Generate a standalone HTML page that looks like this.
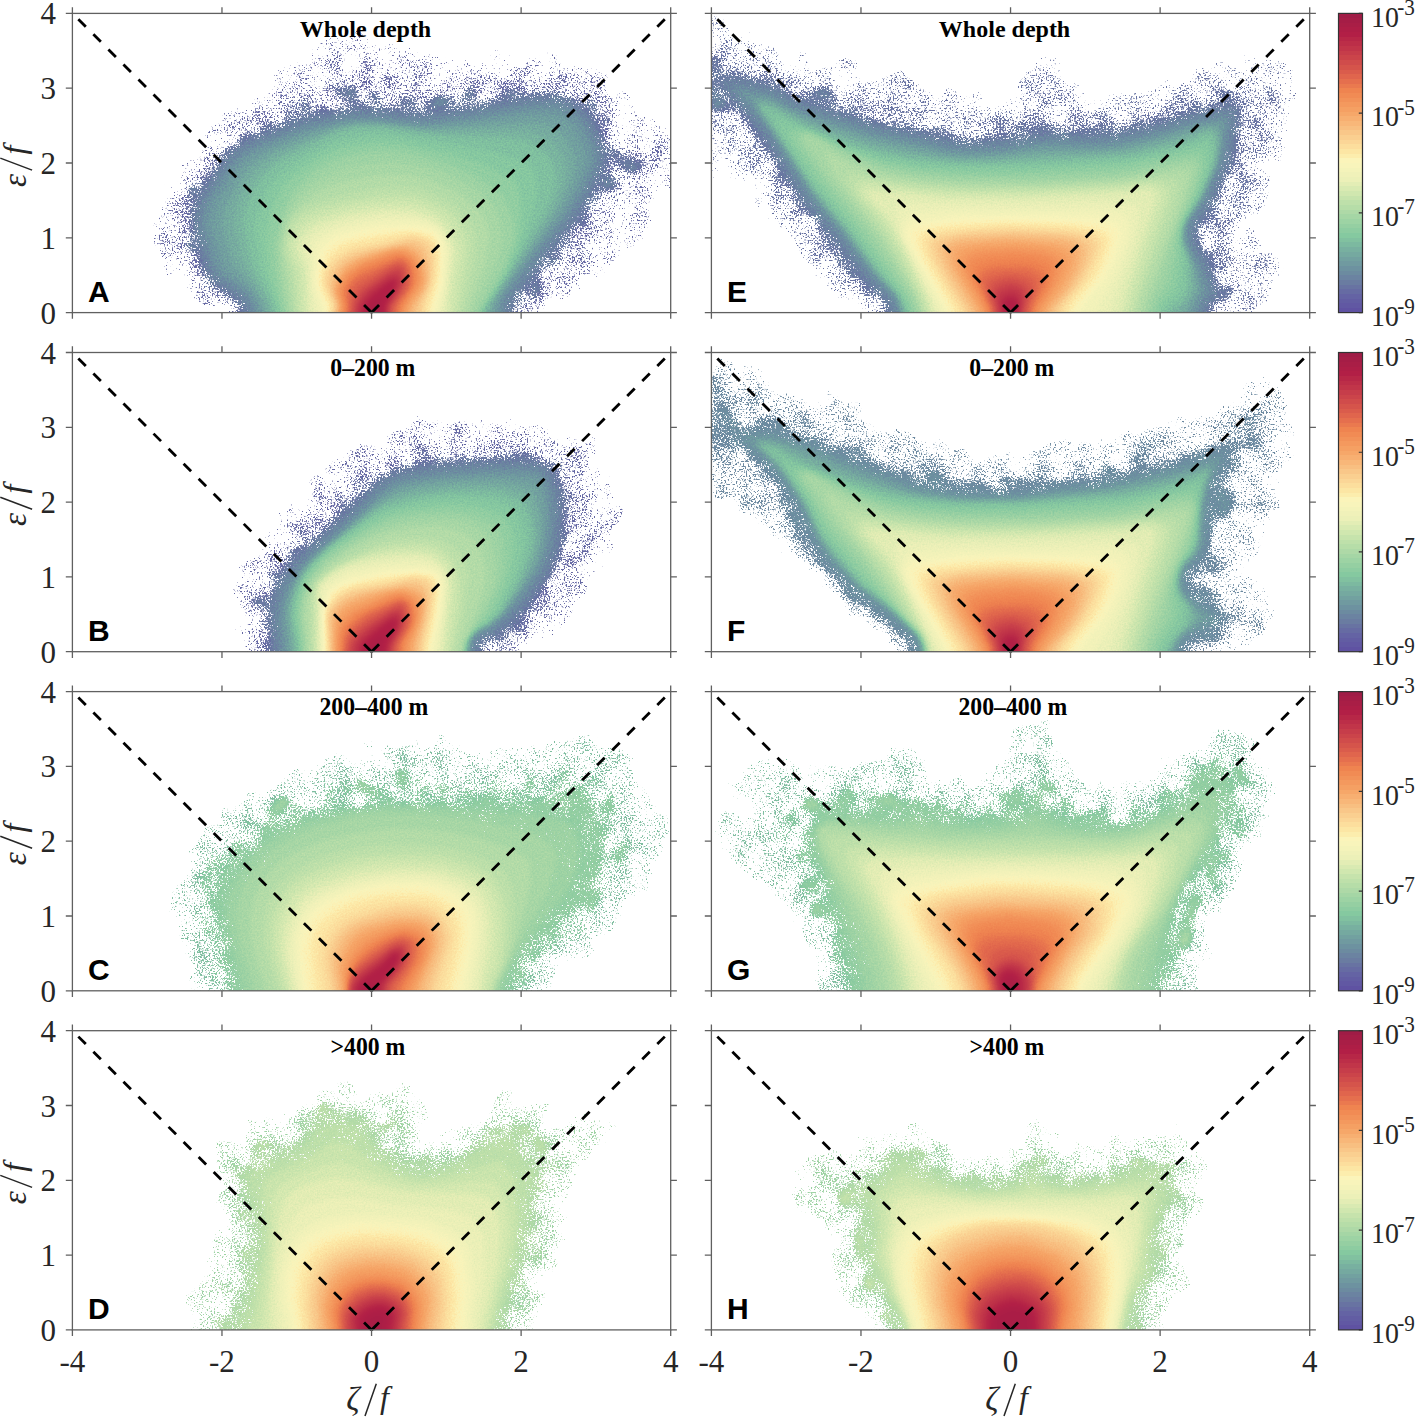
<!DOCTYPE html><html><head><meta charset="utf-8"><style>html,body{margin:0;padding:0;background:#fff;}svg{display:block}</style></head><body><svg width="1417" height="1417" viewBox="0 0 1417 1417"><defs><linearGradient id="cb" x1="0" y1="1" x2="0" y2="0"><stop offset="0.0000" stop-color="#5f52a2"/><stop offset="0.0156" stop-color="#5f52a2"/><stop offset="0.0156" stop-color="#6158a3"/><stop offset="0.0312" stop-color="#6158a3"/><stop offset="0.0312" stop-color="#625da3"/><stop offset="0.0469" stop-color="#625da3"/><stop offset="0.0469" stop-color="#6463a4"/><stop offset="0.0625" stop-color="#6463a4"/><stop offset="0.0625" stop-color="#666ba3"/><stop offset="0.0781" stop-color="#666ba3"/><stop offset="0.0781" stop-color="#6873a2"/><stop offset="0.0938" stop-color="#6873a2"/><stop offset="0.0938" stop-color="#6a7ca1"/><stop offset="0.1094" stop-color="#6a7ca1"/><stop offset="0.1094" stop-color="#6b83a1"/><stop offset="0.1250" stop-color="#6b83a1"/><stop offset="0.1250" stop-color="#6c8ba0"/><stop offset="0.1406" stop-color="#6c8ba0"/><stop offset="0.1406" stop-color="#6d92a0"/><stop offset="0.1562" stop-color="#6d92a0"/><stop offset="0.1562" stop-color="#709aa0"/><stop offset="0.1719" stop-color="#709aa0"/><stop offset="0.1719" stop-color="#72a1a0"/><stop offset="0.1875" stop-color="#72a1a0"/><stop offset="0.1875" stop-color="#75a9a0"/><stop offset="0.2031" stop-color="#75a9a0"/><stop offset="0.2031" stop-color="#78b0a0"/><stop offset="0.2188" stop-color="#78b0a0"/><stop offset="0.2188" stop-color="#7cb9a0"/><stop offset="0.2344" stop-color="#7cb9a0"/><stop offset="0.2344" stop-color="#81c1a0"/><stop offset="0.2500" stop-color="#81c1a0"/><stop offset="0.2500" stop-color="#85c9a0"/><stop offset="0.2656" stop-color="#85c9a0"/><stop offset="0.2656" stop-color="#8dcca1"/><stop offset="0.2812" stop-color="#8dcca1"/><stop offset="0.2812" stop-color="#95cfa2"/><stop offset="0.2969" stop-color="#95cfa2"/><stop offset="0.2969" stop-color="#9dd3a4"/><stop offset="0.3125" stop-color="#9dd3a4"/><stop offset="0.3125" stop-color="#a5d6a5"/><stop offset="0.3281" stop-color="#a5d6a5"/><stop offset="0.3281" stop-color="#aed9a7"/><stop offset="0.3438" stop-color="#aed9a7"/><stop offset="0.3438" stop-color="#b6dda8"/><stop offset="0.3594" stop-color="#b6dda8"/><stop offset="0.3594" stop-color="#bee0aa"/><stop offset="0.3750" stop-color="#bee0aa"/><stop offset="0.3750" stop-color="#c6e3ac"/><stop offset="0.3906" stop-color="#c6e3ac"/><stop offset="0.3906" stop-color="#d0e7af"/><stop offset="0.4062" stop-color="#d0e7af"/><stop offset="0.4062" stop-color="#d9eab2"/><stop offset="0.4219" stop-color="#d9eab2"/><stop offset="0.4219" stop-color="#e3edb5"/><stop offset="0.4375" stop-color="#e3edb5"/><stop offset="0.4375" stop-color="#ecf0b8"/><stop offset="0.4531" stop-color="#ecf0b8"/><stop offset="0.4531" stop-color="#f0f1b9"/><stop offset="0.4688" stop-color="#f0f1b9"/><stop offset="0.4688" stop-color="#f4f3ba"/><stop offset="0.4844" stop-color="#f4f3ba"/><stop offset="0.4844" stop-color="#f8f4bb"/><stop offset="0.5000" stop-color="#f8f4bb"/><stop offset="0.5000" stop-color="#fbf4ba"/><stop offset="0.5156" stop-color="#fbf4ba"/><stop offset="0.5156" stop-color="#fcedad"/><stop offset="0.5312" stop-color="#fcedad"/><stop offset="0.5312" stop-color="#fce6a4"/><stop offset="0.5469" stop-color="#fce6a4"/><stop offset="0.5469" stop-color="#fcde9d"/><stop offset="0.5625" stop-color="#fcde9d"/><stop offset="0.5625" stop-color="#fbd697"/><stop offset="0.5781" stop-color="#fbd697"/><stop offset="0.5781" stop-color="#facf90"/><stop offset="0.5938" stop-color="#facf90"/><stop offset="0.5938" stop-color="#f9c789"/><stop offset="0.6094" stop-color="#f9c789"/><stop offset="0.6094" stop-color="#f8bf81"/><stop offset="0.6250" stop-color="#f8bf81"/><stop offset="0.6250" stop-color="#f8b779"/><stop offset="0.6406" stop-color="#f8b779"/><stop offset="0.6406" stop-color="#f7af71"/><stop offset="0.6562" stop-color="#f7af71"/><stop offset="0.6562" stop-color="#f6a769"/><stop offset="0.6719" stop-color="#f6a769"/><stop offset="0.6719" stop-color="#f5a063"/><stop offset="0.6875" stop-color="#f5a063"/><stop offset="0.6875" stop-color="#f4995e"/><stop offset="0.7031" stop-color="#f4995e"/><stop offset="0.7031" stop-color="#f29259"/><stop offset="0.7188" stop-color="#f29259"/><stop offset="0.7188" stop-color="#f18b54"/><stop offset="0.7344" stop-color="#f18b54"/><stop offset="0.7344" stop-color="#ef8450"/><stop offset="0.7500" stop-color="#ef8450"/><stop offset="0.7500" stop-color="#ea794f"/><stop offset="0.7656" stop-color="#ea794f"/><stop offset="0.7656" stop-color="#e56f4e"/><stop offset="0.7812" stop-color="#e56f4e"/><stop offset="0.7812" stop-color="#e0654d"/><stop offset="0.7969" stop-color="#e0654d"/><stop offset="0.7969" stop-color="#da5c4c"/><stop offset="0.8125" stop-color="#da5c4c"/><stop offset="0.8125" stop-color="#d5544b"/><stop offset="0.8281" stop-color="#d5544b"/><stop offset="0.8281" stop-color="#d04c4b"/><stop offset="0.8438" stop-color="#d04c4b"/><stop offset="0.8438" stop-color="#cb444a"/><stop offset="0.8594" stop-color="#cb444a"/><stop offset="0.8594" stop-color="#c63d4a"/><stop offset="0.8750" stop-color="#c63d4a"/><stop offset="0.8750" stop-color="#c13549"/><stop offset="0.8906" stop-color="#c13549"/><stop offset="0.8906" stop-color="#bc2e48"/><stop offset="0.9062" stop-color="#bc2e48"/><stop offset="0.9062" stop-color="#b72747"/><stop offset="0.9219" stop-color="#b72747"/><stop offset="0.9219" stop-color="#b21f46"/><stop offset="0.9375" stop-color="#b21f46"/><stop offset="0.9375" stop-color="#ae1e46"/><stop offset="0.9531" stop-color="#ae1e46"/><stop offset="0.9531" stop-color="#a91e46"/><stop offset="0.9688" stop-color="#a91e46"/><stop offset="0.9688" stop-color="#a51d46"/><stop offset="0.9844" stop-color="#a51d46"/><stop offset="0.9844" stop-color="#a01c46"/><stop offset="1.0000" stop-color="#a01c46"/></linearGradient><clipPath id="pc"><rect x="0" y="0" width="598.3" height="299.2"/></clipPath><filter id="fA" color-interpolation-filters="sRGB"><feGaussianBlur in="SourceGraphic" stdDeviation="2.60" result="f"/><feTurbulence type="fractalNoise" baseFrequency="0.60" numOctaves="2" seed="3" result="n"/><feColorMatrix in="n" type="matrix" values="0 0 0 1 0 0 0 0 1 0 0 0 0 1 0 0 0 0 0 1" result="ng"/><feTurbulence type="fractalNoise" baseFrequency="0.050" numOctaves="4" seed="23" result="n2"/><feColorMatrix in="n2" type="matrix" values="0 0 0 1 0 0 0 0 1 0 0 0 0 1 0 0 0 0 0 1" result="ng2"/><feComposite in="f" in2="ng" operator="arithmetic" k1="-0.120" k2="1.060" k3="0.120" k4="-0.060" result="fc"/><feComponentTransfer in="fc" result="col"><feFuncR type="table" tableValues="0.397 0.397 0.397 0.397 0.397 0.397 0.397 0.397 0.397 0.397 0.397 0.397 0.397 0.397 0.397 0.406 0.416 0.422 0.426 0.435 0.450 0.464 0.481 0.501 0.526 0.565 0.604 0.644 0.684 0.725 0.765 0.809 0.856 0.903 0.935 0.955 0.974 0.987 0.991 0.987 0.983 0.978 0.974 0.971 0.968 0.964 0.958 0.951 0.945 0.929 0.903 0.878 0.852 0.826 0.801 0.776 0.752 0.727 0.703 0.681 0.659"/><feFuncG type="table" tableValues="0.409 0.409 0.409 0.409 0.409 0.409 0.409 0.409 0.409 0.409 0.409 0.409 0.409 0.409 0.409 0.445 0.486 0.524 0.561 0.597 0.635 0.672 0.711 0.752 0.788 0.805 0.821 0.838 0.854 0.870 0.886 0.902 0.918 0.934 0.945 0.951 0.957 0.945 0.911 0.873 0.836 0.799 0.760 0.720 0.681 0.642 0.608 0.573 0.539 0.498 0.448 0.398 0.353 0.314 0.276 0.238 0.202 0.166 0.129 0.119 0.116"/><feFuncB type="table" tableValues="0.641 0.641 0.641 0.641 0.641 0.641 0.641 0.641 0.641 0.641 0.641 0.641 0.641 0.641 0.641 0.637 0.633 0.630 0.628 0.627 0.627 0.627 0.627 0.627 0.629 0.634 0.640 0.646 0.655 0.663 0.671 0.683 0.698 0.714 0.724 0.729 0.734 0.709 0.653 0.620 0.587 0.554 0.517 0.477 0.438 0.399 0.375 0.351 0.326 0.311 0.306 0.301 0.297 0.294 0.292 0.289 0.284 0.280 0.275 0.275 0.275"/></feComponentTransfer><feComponentTransfer in="f" result="w"><feFuncR type="table" tableValues="0.000 0.000 0.000 0.000 0.000 0.000 0.028 0.058 0.088 0.118 0.148 0.178 0.195 0.198 0.202 0.205 0.209 0.212 0.216 0.219 0.223 0.226 0.230 0.233 0.245 0.265 0.285 0.305 0.325 0.345 0.365 0.385 0.405 0.425 0.445 0.465 0.485 0.505 0.525 0.545 0.565 0.585 0.605 0.625 0.645 0.665 0.685 0.705 0.725 0.745 0.765 0.785 0.805 0.825 0.845 0.865 0.885 0.905 0.925 0.945 0.965 0.985 1.000 1.000 1.000 1.000 1.000 1.000 1.000 1.000 1.000 1.000 1.000 1.000 1.000 1.000 1.000 1.000 1.000 1.000 1.000 1.000 1.000 1.000 1.000 1.000 1.000 1.000 1.000 1.000 1.000 1.000 1.000 1.000 1.000 1.000 1.000 1.000 1.000 1.000 1.000"/></feComponentTransfer><feComposite in="w" in2="ng" operator="arithmetic" k1="0" k2="1" k3="0.300" k4="-0.150" result="fa0"/><feComposite in="fa0" in2="ng2" operator="arithmetic" k1="0" k2="1" k3="0.120" k4="-0.060" result="fa"/><feColorMatrix in="fa" type="matrix" values="0 0 0 0 0 0 0 0 0 0 0 0 0 0 0 30.000 0 0 0 -7.050" result="m"/><feComposite in="col" in2="m" operator="in" result="o"/><feGaussianBlur in="o" stdDeviation="0.45"/></filter><filter id="fB" color-interpolation-filters="sRGB"><feGaussianBlur in="SourceGraphic" stdDeviation="2.60" result="f"/><feTurbulence type="fractalNoise" baseFrequency="0.60" numOctaves="2" seed="4" result="n"/><feColorMatrix in="n" type="matrix" values="0 0 0 1 0 0 0 0 1 0 0 0 0 1 0 0 0 0 0 1" result="ng"/><feTurbulence type="fractalNoise" baseFrequency="0.050" numOctaves="4" seed="24" result="n2"/><feColorMatrix in="n2" type="matrix" values="0 0 0 1 0 0 0 0 1 0 0 0 0 1 0 0 0 0 0 1" result="ng2"/><feComposite in="f" in2="ng" operator="arithmetic" k1="-0.120" k2="1.060" k3="0.120" k4="-0.060" result="fc"/><feComponentTransfer in="fc" result="col"><feFuncR type="table" tableValues="0.397 0.397 0.397 0.397 0.397 0.397 0.397 0.397 0.397 0.397 0.397 0.397 0.397 0.397 0.397 0.406 0.416 0.422 0.426 0.435 0.450 0.464 0.481 0.501 0.526 0.565 0.604 0.644 0.684 0.725 0.765 0.809 0.856 0.903 0.935 0.955 0.974 0.987 0.991 0.987 0.983 0.978 0.974 0.971 0.968 0.964 0.958 0.951 0.945 0.929 0.903 0.878 0.852 0.826 0.801 0.776 0.752 0.727 0.703 0.681 0.659"/><feFuncG type="table" tableValues="0.409 0.409 0.409 0.409 0.409 0.409 0.409 0.409 0.409 0.409 0.409 0.409 0.409 0.409 0.409 0.445 0.486 0.524 0.561 0.597 0.635 0.672 0.711 0.752 0.788 0.805 0.821 0.838 0.854 0.870 0.886 0.902 0.918 0.934 0.945 0.951 0.957 0.945 0.911 0.873 0.836 0.799 0.760 0.720 0.681 0.642 0.608 0.573 0.539 0.498 0.448 0.398 0.353 0.314 0.276 0.238 0.202 0.166 0.129 0.119 0.116"/><feFuncB type="table" tableValues="0.641 0.641 0.641 0.641 0.641 0.641 0.641 0.641 0.641 0.641 0.641 0.641 0.641 0.641 0.641 0.637 0.633 0.630 0.628 0.627 0.627 0.627 0.627 0.627 0.629 0.634 0.640 0.646 0.655 0.663 0.671 0.683 0.698 0.714 0.724 0.729 0.734 0.709 0.653 0.620 0.587 0.554 0.517 0.477 0.438 0.399 0.375 0.351 0.326 0.311 0.306 0.301 0.297 0.294 0.292 0.289 0.284 0.280 0.275 0.275 0.275"/></feComponentTransfer><feComponentTransfer in="f" result="w"><feFuncR type="table" tableValues="0.000 0.000 0.000 0.000 0.000 0.000 0.028 0.058 0.088 0.118 0.148 0.178 0.195 0.198 0.202 0.205 0.209 0.212 0.216 0.219 0.223 0.226 0.230 0.233 0.245 0.265 0.285 0.305 0.325 0.345 0.365 0.385 0.405 0.425 0.445 0.465 0.485 0.505 0.525 0.545 0.565 0.585 0.605 0.625 0.645 0.665 0.685 0.705 0.725 0.745 0.765 0.785 0.805 0.825 0.845 0.865 0.885 0.905 0.925 0.945 0.965 0.985 1.000 1.000 1.000 1.000 1.000 1.000 1.000 1.000 1.000 1.000 1.000 1.000 1.000 1.000 1.000 1.000 1.000 1.000 1.000 1.000 1.000 1.000 1.000 1.000 1.000 1.000 1.000 1.000 1.000 1.000 1.000 1.000 1.000 1.000 1.000 1.000 1.000 1.000 1.000"/></feComponentTransfer><feComposite in="w" in2="ng" operator="arithmetic" k1="0" k2="1" k3="0.300" k4="-0.150" result="fa0"/><feComposite in="fa0" in2="ng2" operator="arithmetic" k1="0" k2="1" k3="0.120" k4="-0.060" result="fa"/><feColorMatrix in="fa" type="matrix" values="0 0 0 0 0 0 0 0 0 0 0 0 0 0 0 30.000 0 0 0 -7.050" result="m"/><feComposite in="col" in2="m" operator="in" result="o"/><feGaussianBlur in="o" stdDeviation="0.45"/></filter><filter id="fC" color-interpolation-filters="sRGB"><feGaussianBlur in="SourceGraphic" stdDeviation="2.60" result="f"/><feTurbulence type="fractalNoise" baseFrequency="0.60" numOctaves="2" seed="5" result="n"/><feColorMatrix in="n" type="matrix" values="0 0 0 1 0 0 0 0 1 0 0 0 0 1 0 0 0 0 0 1" result="ng"/><feTurbulence type="fractalNoise" baseFrequency="0.050" numOctaves="4" seed="25" result="n2"/><feColorMatrix in="n2" type="matrix" values="0 0 0 1 0 0 0 0 1 0 0 0 0 1 0 0 0 0 0 1" result="ng2"/><feComposite in="f" in2="ng" operator="arithmetic" k1="-0.120" k2="1.060" k3="0.120" k4="-0.060" result="fc"/><feComponentTransfer in="fc" result="col"><feFuncR type="table" tableValues="0.497 0.497 0.497 0.497 0.497 0.497 0.497 0.497 0.497 0.497 0.497 0.497 0.497 0.497 0.497 0.497 0.497 0.497 0.497 0.497 0.497 0.497 0.497 0.501 0.526 0.565 0.604 0.644 0.684 0.725 0.765 0.809 0.856 0.903 0.935 0.955 0.974 0.987 0.991 0.987 0.983 0.978 0.974 0.971 0.968 0.964 0.958 0.951 0.945 0.929 0.903 0.878 0.852 0.826 0.801 0.776 0.752 0.727 0.703 0.681 0.659"/><feFuncG type="table" tableValues="0.742 0.742 0.742 0.742 0.742 0.742 0.742 0.742 0.742 0.742 0.742 0.742 0.742 0.742 0.742 0.742 0.742 0.742 0.742 0.742 0.742 0.742 0.742 0.752 0.788 0.805 0.821 0.838 0.854 0.870 0.886 0.902 0.918 0.934 0.945 0.951 0.957 0.945 0.911 0.873 0.836 0.799 0.760 0.720 0.681 0.642 0.608 0.573 0.539 0.498 0.448 0.398 0.353 0.314 0.276 0.238 0.202 0.166 0.129 0.119 0.116"/><feFuncB type="table" tableValues="0.627 0.627 0.627 0.627 0.627 0.627 0.627 0.627 0.627 0.627 0.627 0.627 0.627 0.627 0.627 0.627 0.627 0.627 0.627 0.627 0.627 0.627 0.627 0.627 0.629 0.634 0.640 0.646 0.655 0.663 0.671 0.683 0.698 0.714 0.724 0.729 0.734 0.709 0.653 0.620 0.587 0.554 0.517 0.477 0.438 0.399 0.375 0.351 0.326 0.311 0.306 0.301 0.297 0.294 0.292 0.289 0.284 0.280 0.275 0.275 0.275"/></feComponentTransfer><feComponentTransfer in="f" result="w"><feFuncR type="table" tableValues="0.000 0.000 0.000 0.000 0.000 0.000 0.000 0.000 0.000 0.000 0.000 0.000 0.000 0.000 0.000 0.000 0.022 0.052 0.082 0.112 0.142 0.172 0.202 0.232 0.262 0.292 0.322 0.347 0.350 0.354 0.357 0.361 0.364 0.368 0.371 0.375 0.378 0.382 0.385 0.392 0.412 0.432 0.452 0.472 0.492 0.512 0.532 0.552 0.572 0.592 0.612 0.632 0.652 0.672 0.692 0.712 0.732 0.752 0.772 0.792 0.812 0.832 0.852 0.872 0.892 0.912 0.932 0.952 0.972 0.992 1.000 1.000 1.000 1.000 1.000 1.000 1.000 1.000 1.000 1.000 1.000 1.000 1.000 1.000 1.000 1.000 1.000 1.000 1.000 1.000 1.000 1.000 1.000 1.000 1.000 1.000 1.000 1.000 1.000 1.000 1.000"/></feComponentTransfer><feComposite in="w" in2="ng" operator="arithmetic" k1="0" k2="1" k3="0.300" k4="-0.150" result="fa0"/><feComposite in="fa0" in2="ng2" operator="arithmetic" k1="0" k2="1" k3="0.120" k4="-0.060" result="fa"/><feColorMatrix in="fa" type="matrix" values="0 0 0 0 0 0 0 0 0 0 0 0 0 0 0 30.000 0 0 0 -11.640" result="m"/><feComposite in="col" in2="m" operator="in" result="o"/><feGaussianBlur in="o" stdDeviation="0.45"/></filter><filter id="fD" color-interpolation-filters="sRGB"><feGaussianBlur in="SourceGraphic" stdDeviation="2.60" result="f"/><feTurbulence type="fractalNoise" baseFrequency="0.60" numOctaves="2" seed="6" result="n"/><feColorMatrix in="n" type="matrix" values="0 0 0 1 0 0 0 0 1 0 0 0 0 1 0 0 0 0 0 1" result="ng"/><feTurbulence type="fractalNoise" baseFrequency="0.050" numOctaves="4" seed="26" result="n2"/><feColorMatrix in="n2" type="matrix" values="0 0 0 1 0 0 0 0 1 0 0 0 0 1 0 0 0 0 0 1" result="ng2"/><feComposite in="f" in2="ng" operator="arithmetic" k1="-0.120" k2="1.060" k3="0.120" k4="-0.060" result="fc"/><feComponentTransfer in="fc" result="col"><feFuncR type="table" tableValues="0.617 0.617 0.617 0.617 0.617 0.617 0.617 0.617 0.617 0.617 0.617 0.617 0.617 0.617 0.617 0.617 0.617 0.617 0.617 0.617 0.617 0.617 0.617 0.617 0.617 0.617 0.617 0.644 0.684 0.725 0.765 0.809 0.856 0.903 0.935 0.955 0.974 0.987 0.991 0.987 0.983 0.978 0.974 0.971 0.968 0.964 0.958 0.951 0.945 0.929 0.903 0.878 0.852 0.826 0.801 0.776 0.752 0.727 0.703 0.681 0.659"/><feFuncG type="table" tableValues="0.827 0.827 0.827 0.827 0.827 0.827 0.827 0.827 0.827 0.827 0.827 0.827 0.827 0.827 0.827 0.827 0.827 0.827 0.827 0.827 0.827 0.827 0.827 0.827 0.827 0.827 0.827 0.838 0.854 0.870 0.886 0.902 0.918 0.934 0.945 0.951 0.957 0.945 0.911 0.873 0.836 0.799 0.760 0.720 0.681 0.642 0.608 0.573 0.539 0.498 0.448 0.398 0.353 0.314 0.276 0.238 0.202 0.166 0.129 0.119 0.116"/><feFuncB type="table" tableValues="0.642 0.642 0.642 0.642 0.642 0.642 0.642 0.642 0.642 0.642 0.642 0.642 0.642 0.642 0.642 0.642 0.642 0.642 0.642 0.642 0.642 0.642 0.642 0.642 0.642 0.642 0.642 0.646 0.655 0.663 0.671 0.683 0.698 0.714 0.724 0.729 0.734 0.709 0.653 0.620 0.587 0.554 0.517 0.477 0.438 0.399 0.375 0.351 0.326 0.311 0.306 0.301 0.297 0.294 0.292 0.289 0.284 0.280 0.275 0.275 0.275"/></feComponentTransfer><feComponentTransfer in="f" result="w"><feFuncR type="table" tableValues="0.000 0.000 0.000 0.000 0.000 0.000 0.000 0.000 0.000 0.000 0.000 0.000 0.000 0.000 0.000 0.000 0.000 0.000 0.000 0.000 0.023 0.053 0.083 0.113 0.143 0.173 0.203 0.233 0.263 0.293 0.323 0.353 0.383 0.406 0.410 0.413 0.417 0.420 0.424 0.427 0.431 0.434 0.438 0.441 0.445 0.453 0.473 0.492 0.512 0.532 0.552 0.573 0.593 0.613 0.633 0.653 0.673 0.692 0.712 0.732 0.752 0.772 0.792 0.812 0.833 0.853 0.873 0.893 0.913 0.932 0.952 0.972 0.992 1.000 1.000 1.000 1.000 1.000 1.000 1.000 1.000 1.000 1.000 1.000 1.000 1.000 1.000 1.000 1.000 1.000 1.000 1.000 1.000 1.000 1.000 1.000 1.000 1.000 1.000 1.000 1.000"/></feComponentTransfer><feComposite in="w" in2="ng" operator="arithmetic" k1="0" k2="1" k3="0.300" k4="-0.150" result="fa0"/><feComposite in="fa0" in2="ng2" operator="arithmetic" k1="0" k2="1" k3="0.120" k4="-0.060" result="fa"/><feColorMatrix in="fa" type="matrix" values="0 0 0 0 0 0 0 0 0 0 0 0 0 0 0 30.000 0 0 0 -13.425" result="m"/><feComposite in="col" in2="m" operator="in" result="o"/><feGaussianBlur in="o" stdDeviation="0.45"/></filter><filter id="fE" color-interpolation-filters="sRGB"><feGaussianBlur in="SourceGraphic" stdDeviation="2.60" result="f"/><feTurbulence type="fractalNoise" baseFrequency="0.60" numOctaves="2" seed="7" result="n"/><feColorMatrix in="n" type="matrix" values="0 0 0 1 0 0 0 0 1 0 0 0 0 1 0 0 0 0 0 1" result="ng"/><feTurbulence type="fractalNoise" baseFrequency="0.050" numOctaves="4" seed="27" result="n2"/><feColorMatrix in="n2" type="matrix" values="0 0 0 1 0 0 0 0 1 0 0 0 0 1 0 0 0 0 0 1" result="ng2"/><feComposite in="f" in2="ng" operator="arithmetic" k1="-0.120" k2="1.060" k3="0.120" k4="-0.060" result="fc"/><feComponentTransfer in="fc" result="col"><feFuncR type="table" tableValues="0.407 0.407 0.407 0.407 0.407 0.407 0.407 0.407 0.407 0.407 0.407 0.407 0.407 0.407 0.407 0.407 0.416 0.422 0.426 0.435 0.450 0.464 0.481 0.501 0.526 0.565 0.604 0.644 0.684 0.725 0.765 0.809 0.856 0.903 0.935 0.955 0.974 0.987 0.991 0.987 0.983 0.978 0.974 0.971 0.968 0.964 0.958 0.951 0.945 0.929 0.903 0.878 0.852 0.826 0.801 0.776 0.752 0.727 0.703 0.681 0.659"/><feFuncG type="table" tableValues="0.450 0.450 0.450 0.450 0.450 0.450 0.450 0.450 0.450 0.450 0.450 0.450 0.450 0.450 0.450 0.450 0.486 0.524 0.561 0.597 0.635 0.672 0.711 0.752 0.788 0.805 0.821 0.838 0.854 0.870 0.886 0.902 0.918 0.934 0.945 0.951 0.957 0.945 0.911 0.873 0.836 0.799 0.760 0.720 0.681 0.642 0.608 0.573 0.539 0.498 0.448 0.398 0.353 0.314 0.276 0.238 0.202 0.166 0.129 0.119 0.116"/><feFuncB type="table" tableValues="0.637 0.637 0.637 0.637 0.637 0.637 0.637 0.637 0.637 0.637 0.637 0.637 0.637 0.637 0.637 0.637 0.633 0.630 0.628 0.627 0.627 0.627 0.627 0.627 0.629 0.634 0.640 0.646 0.655 0.663 0.671 0.683 0.698 0.714 0.724 0.729 0.734 0.709 0.653 0.620 0.587 0.554 0.517 0.477 0.438 0.399 0.375 0.351 0.326 0.311 0.306 0.301 0.297 0.294 0.292 0.289 0.284 0.280 0.275 0.275 0.275"/></feComponentTransfer><feComponentTransfer in="f" result="w"><feFuncR type="table" tableValues="0.000 0.000 0.000 0.000 0.000 0.000 0.028 0.058 0.088 0.118 0.148 0.178 0.195 0.198 0.202 0.205 0.209 0.212 0.216 0.219 0.223 0.226 0.230 0.233 0.245 0.265 0.285 0.305 0.325 0.345 0.365 0.385 0.405 0.425 0.445 0.465 0.485 0.505 0.525 0.545 0.565 0.585 0.605 0.625 0.645 0.665 0.685 0.705 0.725 0.745 0.765 0.785 0.805 0.825 0.845 0.865 0.885 0.905 0.925 0.945 0.965 0.985 1.000 1.000 1.000 1.000 1.000 1.000 1.000 1.000 1.000 1.000 1.000 1.000 1.000 1.000 1.000 1.000 1.000 1.000 1.000 1.000 1.000 1.000 1.000 1.000 1.000 1.000 1.000 1.000 1.000 1.000 1.000 1.000 1.000 1.000 1.000 1.000 1.000 1.000 1.000"/></feComponentTransfer><feComposite in="w" in2="ng" operator="arithmetic" k1="0" k2="1" k3="0.300" k4="-0.150" result="fa0"/><feComposite in="fa0" in2="ng2" operator="arithmetic" k1="0" k2="1" k3="0.120" k4="-0.060" result="fa"/><feColorMatrix in="fa" type="matrix" values="0 0 0 0 0 0 0 0 0 0 0 0 0 0 0 30.000 0 0 0 -7.050" result="m"/><feComposite in="col" in2="m" operator="in" result="o"/><feGaussianBlur in="o" stdDeviation="0.45"/></filter><filter id="fF" color-interpolation-filters="sRGB"><feGaussianBlur in="SourceGraphic" stdDeviation="2.60" result="f"/><feTurbulence type="fractalNoise" baseFrequency="0.60" numOctaves="2" seed="8" result="n"/><feColorMatrix in="n" type="matrix" values="0 0 0 1 0 0 0 0 1 0 0 0 0 1 0 0 0 0 0 1" result="ng"/><feTurbulence type="fractalNoise" baseFrequency="0.050" numOctaves="4" seed="28" result="n2"/><feColorMatrix in="n2" type="matrix" values="0 0 0 1 0 0 0 0 1 0 0 0 0 1 0 0 0 0 0 1" result="ng2"/><feComposite in="f" in2="ng" operator="arithmetic" k1="-0.120" k2="1.060" k3="0.120" k4="-0.060" result="fc"/><feComponentTransfer in="fc" result="col"><feFuncR type="table" tableValues="0.424 0.424 0.424 0.424 0.424 0.424 0.424 0.424 0.424 0.424 0.424 0.424 0.424 0.424 0.424 0.424 0.424 0.424 0.426 0.435 0.450 0.464 0.481 0.501 0.526 0.565 0.604 0.644 0.684 0.725 0.765 0.809 0.856 0.903 0.935 0.955 0.974 0.987 0.991 0.987 0.983 0.978 0.974 0.971 0.968 0.964 0.958 0.951 0.945 0.929 0.903 0.878 0.852 0.826 0.801 0.776 0.752 0.727 0.703 0.681 0.659"/><feFuncG type="table" tableValues="0.539 0.539 0.539 0.539 0.539 0.539 0.539 0.539 0.539 0.539 0.539 0.539 0.539 0.539 0.539 0.539 0.539 0.539 0.561 0.597 0.635 0.672 0.711 0.752 0.788 0.805 0.821 0.838 0.854 0.870 0.886 0.902 0.918 0.934 0.945 0.951 0.957 0.945 0.911 0.873 0.836 0.799 0.760 0.720 0.681 0.642 0.608 0.573 0.539 0.498 0.448 0.398 0.353 0.314 0.276 0.238 0.202 0.166 0.129 0.119 0.116"/><feFuncB type="table" tableValues="0.629 0.629 0.629 0.629 0.629 0.629 0.629 0.629 0.629 0.629 0.629 0.629 0.629 0.629 0.629 0.629 0.629 0.629 0.628 0.627 0.627 0.627 0.627 0.627 0.629 0.634 0.640 0.646 0.655 0.663 0.671 0.683 0.698 0.714 0.724 0.729 0.734 0.709 0.653 0.620 0.587 0.554 0.517 0.477 0.438 0.399 0.375 0.351 0.326 0.311 0.306 0.301 0.297 0.294 0.292 0.289 0.284 0.280 0.275 0.275 0.275"/></feComponentTransfer><feComponentTransfer in="f" result="w"><feFuncR type="table" tableValues="0.000 0.000 0.000 0.000 0.000 0.000 0.000 0.007 0.037 0.067 0.097 0.127 0.157 0.187 0.217 0.222 0.225 0.229 0.232 0.236 0.239 0.243 0.246 0.250 0.253 0.257 0.260 0.280 0.300 0.319 0.339 0.359 0.380 0.400 0.420 0.439 0.459 0.479 0.499 0.520 0.540 0.559 0.579 0.599 0.619 0.639 0.659 0.679 0.700 0.720 0.740 0.760 0.780 0.800 0.820 0.840 0.860 0.879 0.899 0.919 0.940 0.960 0.980 1.000 1.000 1.000 1.000 1.000 1.000 1.000 1.000 1.000 1.000 1.000 1.000 1.000 1.000 1.000 1.000 1.000 1.000 1.000 1.000 1.000 1.000 1.000 1.000 1.000 1.000 1.000 1.000 1.000 1.000 1.000 1.000 1.000 1.000 1.000 1.000 1.000 1.000"/></feComponentTransfer><feComposite in="w" in2="ng" operator="arithmetic" k1="0" k2="1" k3="0.300" k4="-0.150" result="fa0"/><feComposite in="fa0" in2="ng2" operator="arithmetic" k1="0" k2="1" k3="0.120" k4="-0.060" result="fa"/><feColorMatrix in="fa" type="matrix" values="0 0 0 0 0 0 0 0 0 0 0 0 0 0 0 30.000 0 0 0 -7.815" result="m"/><feComposite in="col" in2="m" operator="in" result="o"/><feGaussianBlur in="o" stdDeviation="0.45"/></filter><filter id="fG" color-interpolation-filters="sRGB"><feGaussianBlur in="SourceGraphic" stdDeviation="2.60" result="f"/><feTurbulence type="fractalNoise" baseFrequency="0.60" numOctaves="2" seed="9" result="n"/><feColorMatrix in="n" type="matrix" values="0 0 0 1 0 0 0 0 1 0 0 0 0 1 0 0 0 0 0 1" result="ng"/><feTurbulence type="fractalNoise" baseFrequency="0.050" numOctaves="4" seed="29" result="n2"/><feColorMatrix in="n2" type="matrix" values="0 0 0 1 0 0 0 0 1 0 0 0 0 1 0 0 0 0 0 1" result="ng2"/><feComposite in="f" in2="ng" operator="arithmetic" k1="-0.120" k2="1.060" k3="0.120" k4="-0.060" result="fc"/><feComponentTransfer in="fc" result="col"><feFuncR type="table" tableValues="0.497 0.497 0.497 0.497 0.497 0.497 0.497 0.497 0.497 0.497 0.497 0.497 0.497 0.497 0.497 0.497 0.497 0.497 0.497 0.497 0.497 0.497 0.497 0.501 0.526 0.565 0.604 0.644 0.684 0.725 0.765 0.809 0.856 0.903 0.935 0.955 0.974 0.987 0.991 0.987 0.983 0.978 0.974 0.971 0.968 0.964 0.958 0.951 0.945 0.929 0.903 0.878 0.852 0.826 0.801 0.776 0.752 0.727 0.703 0.681 0.659"/><feFuncG type="table" tableValues="0.742 0.742 0.742 0.742 0.742 0.742 0.742 0.742 0.742 0.742 0.742 0.742 0.742 0.742 0.742 0.742 0.742 0.742 0.742 0.742 0.742 0.742 0.742 0.752 0.788 0.805 0.821 0.838 0.854 0.870 0.886 0.902 0.918 0.934 0.945 0.951 0.957 0.945 0.911 0.873 0.836 0.799 0.760 0.720 0.681 0.642 0.608 0.573 0.539 0.498 0.448 0.398 0.353 0.314 0.276 0.238 0.202 0.166 0.129 0.119 0.116"/><feFuncB type="table" tableValues="0.627 0.627 0.627 0.627 0.627 0.627 0.627 0.627 0.627 0.627 0.627 0.627 0.627 0.627 0.627 0.627 0.627 0.627 0.627 0.627 0.627 0.627 0.627 0.627 0.629 0.634 0.640 0.646 0.655 0.663 0.671 0.683 0.698 0.714 0.724 0.729 0.734 0.709 0.653 0.620 0.587 0.554 0.517 0.477 0.438 0.399 0.375 0.351 0.326 0.311 0.306 0.301 0.297 0.294 0.292 0.289 0.284 0.280 0.275 0.275 0.275"/></feComponentTransfer><feComponentTransfer in="f" result="w"><feFuncR type="table" tableValues="0.000 0.000 0.000 0.000 0.000 0.000 0.000 0.000 0.000 0.000 0.000 0.000 0.000 0.000 0.000 0.000 0.022 0.052 0.082 0.112 0.142 0.172 0.202 0.232 0.262 0.292 0.322 0.347 0.350 0.354 0.357 0.361 0.364 0.368 0.371 0.375 0.378 0.382 0.385 0.392 0.412 0.432 0.452 0.472 0.492 0.512 0.532 0.552 0.572 0.592 0.612 0.632 0.652 0.672 0.692 0.712 0.732 0.752 0.772 0.792 0.812 0.832 0.852 0.872 0.892 0.912 0.932 0.952 0.972 0.992 1.000 1.000 1.000 1.000 1.000 1.000 1.000 1.000 1.000 1.000 1.000 1.000 1.000 1.000 1.000 1.000 1.000 1.000 1.000 1.000 1.000 1.000 1.000 1.000 1.000 1.000 1.000 1.000 1.000 1.000 1.000"/></feComponentTransfer><feComposite in="w" in2="ng" operator="arithmetic" k1="0" k2="1" k3="0.300" k4="-0.150" result="fa0"/><feComposite in="fa0" in2="ng2" operator="arithmetic" k1="0" k2="1" k3="0.120" k4="-0.060" result="fa"/><feColorMatrix in="fa" type="matrix" values="0 0 0 0 0 0 0 0 0 0 0 0 0 0 0 30.000 0 0 0 -11.640" result="m"/><feComposite in="col" in2="m" operator="in" result="o"/><feGaussianBlur in="o" stdDeviation="0.45"/></filter><filter id="fH" color-interpolation-filters="sRGB"><feGaussianBlur in="SourceGraphic" stdDeviation="2.60" result="f"/><feTurbulence type="fractalNoise" baseFrequency="0.60" numOctaves="2" seed="10" result="n"/><feColorMatrix in="n" type="matrix" values="0 0 0 1 0 0 0 0 1 0 0 0 0 1 0 0 0 0 0 1" result="ng"/><feTurbulence type="fractalNoise" baseFrequency="0.050" numOctaves="4" seed="30" result="n2"/><feColorMatrix in="n2" type="matrix" values="0 0 0 1 0 0 0 0 1 0 0 0 0 1 0 0 0 0 0 1" result="ng2"/><feComposite in="f" in2="ng" operator="arithmetic" k1="-0.120" k2="1.060" k3="0.120" k4="-0.060" result="fc"/><feComponentTransfer in="fc" result="col"><feFuncR type="table" tableValues="0.617 0.617 0.617 0.617 0.617 0.617 0.617 0.617 0.617 0.617 0.617 0.617 0.617 0.617 0.617 0.617 0.617 0.617 0.617 0.617 0.617 0.617 0.617 0.617 0.617 0.617 0.617 0.644 0.684 0.725 0.765 0.809 0.856 0.903 0.935 0.955 0.974 0.987 0.991 0.987 0.983 0.978 0.974 0.971 0.968 0.964 0.958 0.951 0.945 0.929 0.903 0.878 0.852 0.826 0.801 0.776 0.752 0.727 0.703 0.681 0.659"/><feFuncG type="table" tableValues="0.827 0.827 0.827 0.827 0.827 0.827 0.827 0.827 0.827 0.827 0.827 0.827 0.827 0.827 0.827 0.827 0.827 0.827 0.827 0.827 0.827 0.827 0.827 0.827 0.827 0.827 0.827 0.838 0.854 0.870 0.886 0.902 0.918 0.934 0.945 0.951 0.957 0.945 0.911 0.873 0.836 0.799 0.760 0.720 0.681 0.642 0.608 0.573 0.539 0.498 0.448 0.398 0.353 0.314 0.276 0.238 0.202 0.166 0.129 0.119 0.116"/><feFuncB type="table" tableValues="0.642 0.642 0.642 0.642 0.642 0.642 0.642 0.642 0.642 0.642 0.642 0.642 0.642 0.642 0.642 0.642 0.642 0.642 0.642 0.642 0.642 0.642 0.642 0.642 0.642 0.642 0.642 0.646 0.655 0.663 0.671 0.683 0.698 0.714 0.724 0.729 0.734 0.709 0.653 0.620 0.587 0.554 0.517 0.477 0.438 0.399 0.375 0.351 0.326 0.311 0.306 0.301 0.297 0.294 0.292 0.289 0.284 0.280 0.275 0.275 0.275"/></feComponentTransfer><feComponentTransfer in="f" result="w"><feFuncR type="table" tableValues="0.000 0.000 0.000 0.000 0.000 0.000 0.000 0.000 0.000 0.000 0.000 0.000 0.000 0.000 0.000 0.000 0.000 0.000 0.000 0.000 0.023 0.053 0.083 0.113 0.143 0.173 0.203 0.233 0.263 0.293 0.323 0.353 0.383 0.406 0.410 0.413 0.417 0.420 0.424 0.427 0.431 0.434 0.438 0.441 0.445 0.453 0.473 0.492 0.512 0.532 0.552 0.573 0.593 0.613 0.633 0.653 0.673 0.692 0.712 0.732 0.752 0.772 0.792 0.812 0.833 0.853 0.873 0.893 0.913 0.932 0.952 0.972 0.992 1.000 1.000 1.000 1.000 1.000 1.000 1.000 1.000 1.000 1.000 1.000 1.000 1.000 1.000 1.000 1.000 1.000 1.000 1.000 1.000 1.000 1.000 1.000 1.000 1.000 1.000 1.000 1.000"/></feComponentTransfer><feComposite in="w" in2="ng" operator="arithmetic" k1="0" k2="1" k3="0.300" k4="-0.150" result="fa0"/><feComposite in="fa0" in2="ng2" operator="arithmetic" k1="0" k2="1" k3="0.120" k4="-0.060" result="fa"/><feColorMatrix in="fa" type="matrix" values="0 0 0 0 0 0 0 0 0 0 0 0 0 0 0 30.000 0 0 0 -13.425" result="m"/><feComposite in="col" in2="m" operator="in" result="o"/><feGaussianBlur in="o" stdDeviation="0.45"/></filter></defs><g transform="translate(72.40,13.40)" clip-path="url(#pc)"><g filter="url(#fA)"><rect x="-15" y="-15" width="630" height="330" fill="#000"/><path fill="#070707" d="M267 6l-3-1 0-3 4 0 0 3-1 1zM497 314l-383 0-1 0 1-4 8-12 0-3-14-8-5 0-7 2-3-1-4-8 0-9-4-3-7-2-3-3 0-11 3-6 0-3-3-2-9-3-4-6-1-8 7-20-8-9 1-6-1-8 18-12 4-14 7-8 2 0 4 4 4-1 0-5-5-3 1-4 13-16 17-6 3-13 6-5 2-10 2-3 28-8 15-11 9-10 13-8 8-4 7-5 9 1 5-13 7-6 8-4 22-2 5-5 16-4 9-5 4 3 2 10 4 3 4-1 7-10 4-2 5-1 7 3 12 0 6 6 8 1 5 8 7 4 5 5 5 2 4 0 7-4 13 3 13-5 14 2 12 5 13 3 7-6 3-5 1-7 3-2 22 9 9 5 8-4 9 0 2 2-4 7 1 6 18 9 7 7 10 1 6 4 17 22 14 8 6 9 5 5 9 4 1 7-2 5 2 7 0 33-1 2-5 2-2 4 2 9 5 8 0 3-5 5-1 7-2 4-19 14-6 6-5 15-28 15-5 9-2 11-4 4-7 4-3 10-14 5 0 8-12 1-3 6zM525 282l2-3-1-4-3-3-4 0-2 4 1 5 3 2 4-1z"/><path fill="#0b0b0b" d="M495 314l-204 1-177-1 3-7 8-8-1-4-14-9-7-2-7 2-3-2-1-4 0-9-5-4-8-4-2-3 0-7 5-5 0-4-5-5-10-4-4-6-1-5 9-21-6-7-1-2 10-1 1-2-3-4-8-2-2-3 19-11 3-12 3-4 11-1 3-2 1-6-5-7 4-6 6-3 6 6 3 1 3-2 0-3-8-5 0-1 4-4 11-4 4-10 7-4 0-13 2-5 3-1 9 0 17-4 7-9 28-23 15-8 7 2 3-1 5-13 13-9 15-3 9 1 6-7 22-7 3 2 3 10 6 5 6-2 8 1 3-1 1-3-6-6 1-3 2-1 21 2 7 6 8 3 7 9 3 6 6 3 11-1 7-3 13 2 12-5 15 2 14 7 10 0 4-1 4-4 4-5 2-7 2-1 4 1 27 14 7-5 4-1 1 2-1 8 1 5 8 2 10 6 10 9 10 1 5 3 3 3 2 7 7 4 6 7 12 8 6 13 16 6 0 5-3 2-1 3 4 6 1 32-1 3-5 1-3 3 4 20-4 6 1 8-2 4-24 17-6 15-11 9-17 8-10 23-4 1-7-6-5-2-3 1-2 5 0 6 2 2 7 3 0 4-6 4-9-2-4 1-4 6 6 4-8-1-3 1-1 2 0 8zM589 200l1-3-3-1-1 3 3 1z"/><path fill="#101010" d="M492 314l-192 1-184-1 2-6 10-9 0-3-14-11-17-5-3-10-14-12 1-4 5-4-1-5-6-7-11-5-4-5 0-4 4-6 2-7 2-5 3-4 5-2 1-2-2-7-7-9-1-2 3-3 9-4 4-12 2-3 4-2 6 0 3-2 2-7-4-9 2-3 4-1 10 5 6-3 0-4-6-7 3-2 8-3 4-9 9-6-2-13 2-4 9 0 12-4 10 0 6-11 25-22 16-8 8 2 3-1 4-13 13-10 15-3 10 2 7-9 19-4 2 2 3 7 7 7 8-1 7 1 8-4 0-9 10-1 4 1 7 7 8 3 3 4 2 7 3 3 7 4 12 2 5-1 4-4 11 1 12-7 15 3 13 7 11 0 7-4 9-12 3-1 12 8 10 4 5 5 4 2 0 6 2 2 14-2 11 6 9 9 15 4 4 11 8 2 7 8 10 6 5 14 12 8 1 9 6 7 0 31-7 1-2 4 1 14-3 9 2 10-1 4-11 8-13 7-3 4-2 11-7 4-5 6-18 9-8 18-3 1-12-3-5 0-2 3-1 12 1 3 5 1 2 2-4 2-5-3-5 1-14 10-2 6 1 8zM589 203l3-4 0-4-1-2-4 0-3 2-1 4 3 4 3 0zM108 271l0-6-3-1-2 1-2 3 1 2 3 2 3-1zM140 301l-1-3-3 0 0 2 4 1z"/><path fill="#141414" d="M488 314l-371 0 2-5 7-6 5-1 10 3 2-2 0-4-4-5-7 1-3-1-14-10-12-7-1-2 5 0 3-2 0-5-1-4-5-2-8 5-7-3-4-6 4-8-1-4-8-10-10-4-4-4 1-5 8-4-4-6 2-5 2-3 7-3 2-2-1-11-6-6-1-3 3-2 6 0 2-10 5-7 3-1 5 2 2-1 3-11-2-10 1-2 13 3 4-1 3-3 1-5-4-7 8-4 4-9 9-6 1-4-2-9 1-3 8 0 11-4 12 0 5-5 2-7 3-1 3 2 2-1 2-7 13-15 15-7 9 2 4-1 2-2 2-12 12-9 14-4 11 2 7-9 10-1 7 1 13 13 7-1 8 1 10-5 2-8 6-2 4 2 6 7 8 3 4 10 2 3 18 7 12 0 6-2 6 4 3 0 2-1 0-8 4-3 4-1 10 1 8 4 5 4 4 6 6-4 11-5 11-11 3 0 5 3 5 7 7 1 1 1-2 4 2 3 6 1 6 5 14-1 10 3 4 3 8 10 9 1 4 1 3 9 3 4 8 1 6 7 8 4 3 4 2 11 10 8 9 15 3 9 0 7 0 13-7 0-2 2-1 18-4 1-8-2-2 1 0 2 4 6-9 4-3 3 2 7 4 4 4-1 6-11 5 4 0 6-13 7-11 4-3 5-2 12-7 4-7 8-16 7-8 17-5 1-11-2-5 0-6 18-11 10-8 4-2 8 2 6-1 1zM576 98l1-2-1-3-9-3-1 4 2 3 8 1zM91 183l1-1-1-1-4 0 1 2 3 0zM485 293l1-2-1-1-5 1 1 2 4 0z"/><path fill="#191919" d="M486 314l-368 0 3-5 8-5 4 0 7 4 3-1 3-4-1-5-5-6-10 1-10-7-7-8-2-13-2-4-6 0-8 4-6-3-2-4 4-8-1-4-8-10-10-6-2-3 8-7 0-3-4-4 0-3 2-3 9-4 3-12 8-9-1-4-7-4 1-6 4-2 7 2 3-1 4-8 0-18 11 2 7-4 3-6 0-7 5-11 11-9 1-11 16-7 12 0 8-5 6-3 11-10 1-11 6-6 13-5 16 1 2-3-1-8 1-4 12-10 14-3 11 2 2-2 4-7 7-2 16 8 7 8 7-2 8 1 11-3 3 6 9 1 3-2 2-6 4 0 3 2 2 7 2 4 21 9 17 0 11 2 4-3-1-8 2-3 4-1 8 2 11 5 2 3 0 7 4 2 6-2 5-6 22-14 2 2 2 6 13 12 13 4 14-1 12 4 5 10 0 7-2 6 2 2 5-2 5-9 3-1 3 1 7 14 2 15 14 3 3-2 1-4 2 1 1 6 4 7 8 7 7 11 2 4-1 5 7 6 0 5 0 10-9-1-2 2 0 16-1 3-3 1-8-3-4 2 0 9-8 7 5 14-8 8-5 15-7 4-10 10-11 4-4 11-5 6-5 1-11-3-5 1-5 14-9 7-3 6-2 0-3-4-3-1-5 0-5 3-2 4 1 5 6 4 4 11zM345 21l-6-1-1-4 1-3 3-1 4 3 2 5-3 1zM597 205l-2 0 0-2 3-5 2 1 1 3-4 3z"/><path fill="#1e1e1e" d="M484 314l-364 0 2-3 8-5 9 3 4 0 4-5 0-5-6-8-11 0-8-5-8-13-2-10-2-3-7-1-8 4-4-2-1-4 3-9-9-13-7-6 4-10-5-9 11-5 3-13 9-10-1-7-6-1-1-4 3-1 5 4 4-2 7-12-1-6 1-8 9 1 7-5 4-7 5-18 10-9 3-10 13-7 14-1 7-4 7-2 6-7 8-2 3-5-5-8 1-3 3-3 14-5 14 3 3 0 3-7-1-10 5-3 6-8 13-3 11 4 4-4 3-7 4-1 4 2 3 5 0 3-3 5 1 2 3-2 2-6 5-2 4 2 4 7 24-2 4 6 11 1 4 6 19 0 14 7 8-2 22 3 5-5 0-8 2-2 5 1 5 1 6 4 4 11 4 3 11-4 7-8 13-5 13 7 8 8 11 2 13 0 13 3 4 5 0 9 0 3-4 5 0 2 4 2 6 0 9-9 2 1 7 9 2 17 9 1 13 5 3 5-1 5 1 3 9 1 6 7 1 4-4 8 13 5 0 3 0 8-9-2-5 2 1 19-13-1-3 5-1 8-10 5 6 9 1 5-7 10-4 13-11 5-6-1-4-4-3 0-1 2 5 3 0 8-10 7-2 9-3 5-7 2-16-4-8 18-10 5-14 3-5 3-1 4 0 7 8 7 3 6zM314 50l4-4 2-5-1-2-11 3 2 6 4 2zM277 48l0-4-2-1 0 4 1 2 1-1zM215 66l2-3-3-2-2 3 1 2 2 0zM556 221l1-4-3-1-1 4 1 2 2-1z"/><path fill="#222222" d="M482 314l-359 0 8-6 8 3 4-1 6-6 1-5-9-9-11 0-6-4-9-15-3-13-8-1-9 3-3-1 0-3 3-7-13-21 0-15 7-8 3-13 8-8 8-18 6-6-1-8 13-5 7-15 4-14 9-9 4-7 5-2 3-5 5-3 12-1 11-5 3 1 4 4 2-1 4-9 14-7 6-8 1-5-4-5 0-2 6-1 15 4 7-16 9 1 3-2 0-4-8-5 1-3 2-2 11-2 8 5 3 0 5-4 3-7 3-1 3 2 1 3-4 8-1 8 3 0 5-2 6-11 4-1 3 9-5 6 12 13 5 1 3-1 2-7 4-6-2-5 4-2 5 6 11-1 5 7 9-1 8 3 4-2 4 1 5 7 4 4 1 8 3 1 4-1 2-4-1-2-5-4 1-4 4-1 10 3 12 0 6-5 5-9 5 1 4 2 6 14 4 2 15-5 7-8 5 1 4-4 6 1 7 3 9 9 10 2 11-1 15 3 2 2 1 4-2 7-4 5 1 6 4 2 7 1 4-1 7-5 4 1 3 6 1 14 1 4 10-1 6 3 4 4 0 7 5 6 3 1 8 0 4 4 1 4-6 7 0 3 6 4 11 2 0 2 0 3-10-3-11 3 0 2 6 9 1 8-3 1-10-1-3 5-2 9-9 2-2 2 0 3 6 7 2 5-7 11-4 12-6 2-4-1 3-13-3-5-4 1-3 4-1 7-13 10 7 3 2 4-9 10-3 9-4 2-8 0-14-6-2 3 1 9-5 11-8 3-15 4-5 4-2 4-3 10 10 5 4 4 0 2zM315 36l-5 0-1-2 5-2 5 1-4 3zM278 53l2-3 1-10-6-2-3 3 0 5 3 7 3 0zM372 69l2-3-2-6 3-7-2-2-5 0-2 3 1 11 3 4 2 0zM556 112l1-1-1-2-3 0 0 2 3 1zM574 127l1-3-3-2-1 1 1 3 2 1z"/><path fill="#272727" d="M481 314l-353 0 4-3 11 1 9-8 1-5-11-10-12-1-5-3-10-17 0-6 2-9-2-1-7 3-8-2-8-14 1-7-7-6-1-10 7-11 1-12 10-9 5-9 2-9 6-5 4-7 9-7 3-8 5-7 0-8 2-5 13-13 3 1 6 4 5-1 2-4-7-7 1-3 2-2 13-2 8-3 7 5 4 1 5-9 6-5 3-2 8 1 1-9 6-13 6 0 8 5 4-1 2-3-3-4 2-9 4-2 6 2 5-6 0-5-7-5 1-2 9-1 9 7-1 12 2 8 4 2 4-2 4-11 8-3 11 6 7 9 12 2 3-1 2-2-4-6 1-3 3-2 6 3 5-5 4-1 2 7-5 6 2 3 4 2 3-2 2-9 4-2 3 0 5 5 2 16 4 5 3 1 8-4 6 0 5-2 8-9 21-3 4-6 5-4 4 2 6 12 5 2 19-6 14 3 1-2-1-8 2-2 3 0 6 3 5 6 4 3 9 1 10-2 5 2 1 8 3 5 4 10 4 5 10 1 10-6 4 2 2 4-1 6-2 5-3-1-2 1-1 14 17 12 5 8 4 0 7-7 6 2 8-1 3 2 1 3-13 15 1 15-6 5 1 6-3 11-3 2-8 1-4 4 1 3 8 7 2 4-1 4-8 10-1 7-2 2-2-1 2-9-3-12-4-5-4 8-4 5-2 7-2 3-8 6-11 5-7-1-3 1 1 4 3 3 19-2 1 2-1 3-19 14-4-1-7-5-3 0-3 5 0 10-3 9-6 3-18 6-14 13 0 4 2 4 12 2 4 3 1 3zM256 58l1-4-3-3-5 7 7 0zM426 60l2-3-2-2-6 0 3 5 3 0zM478 66l1-3-2-3-3 5 2 2 2-1zM530 64l-2-1 0-3 3 1-1 3zM572 115l-4 1-4-2-1-3 0-3 7-3 4 1 2 5-4 4zM596 170l-5-1-2-6 3-1 3 1 2 4-1 3zM558 189l2-5-2-2-4 3 1 2 3 2zM103 222l2-3-1-3-4 3 1 3 2 0z"/><path fill="#2b2b2b" d="M479 314l-334 0 9-9 2-4-1-4-14-9-10-1-5-3-4-10-5-7 0-5 3-7-2-7-3-1-5 5-5 0-5-3-5-8 1-5 9-12 6-10 0-7-5-1-5 3-7 17-4-2-2-7 7-10 0-14 9-8 5-9 2-9 7-5 4-6 9-8 4-9 6-8 8-3 4-10-3-3 0-2 3-1 2 4 11-3 4-3 0-6-5-5 1-3 12-1 7-3 8 5 7 0 2-8 6-6 3-1 7 2 3-1 1-2-1-10 7-10 3 0 5 5 3 1 10-5 10-2 2-4-2-10 3-10 2-2 4 3-1 8 3 9 5 5 6-3 3-10 6-3 11 4 8 10 16 4 9-5 13 4 3-4 2-7 4-2 3 2 2 4 0 13 6 7 3 1 9-3 7-1 13-10 6-1 11 0 8 6 9-6 10 3 22-5 6 3 1 8 5 1 5-4 1-10-2-5 2 0 9 7 10 5 10-4 5 1 1 8 4 5 4 10 6 5 10 2 10-5 3 1 1 3-1 3-6 3-2 3 0 17 18 12 5 9 4 0 9-6 12 0 2 2-2 3-9 8-2 17-3 2-6 0-2 2 1 4 5 2 1 2 0 5-2 6-3 1-4 0-10-6-8 4-3 5 4 6 1 3-5 12-4 4-2 10-9 7-10 2-8 0-3 2-1 4 3 6 11 4-5 8-4 2-8-6-5 0-4 7 0 12-3 6-5 3-17 5-16 14 0 5 3 6 4 2 8-1 4 3 1 2-1 0zM332 73l0-3-2-1-1 3 3 1zM420 75l0-3-3 2 1 1 2 0zM571 112l-4 0-1-3 3-2 3 0 1 2-2 3zM569 210l-3-1-3-6 0-3 1-2 4 0 5 5 0 4-4 3zM483 265l2-2-1-3-3 0-3 2 1 3 4 0z"/><path fill="#303030" d="M478 314l-331 0 9-7 2-7-2-4-15-10-10-1-4-3-4-9-5-6 3-12-2-10-5-1-5 5-3 1-4-2-4-6 0-5 8-10 6-11 1-6-1-5-13-7-1-4 8-7 4-9 3-11 7-4 4-7 10-8 7-13 9-4 5-7 7-7 9-5 3-9 3-3 8-5 9 5 8 0 2-3 1-7 4-4 3-1 8 1 3-2 0-11 5-5 6 2 7-1 9-5 10-2 6-4 4 2 3 5 3 0 8-8 1-9 4-3 4 0 7 4 7 11 9 0 6 3 2 3 3 8 4 2 3-1 2-3-4-8 1-4 4-1 11 3 8-10 3 5-1 10 10 8 17-2 16-11 12-1 4 2 1 3-6 8 0 3 4 2 7-2 3-9 7-6 17 2 6 8 3-2-1-8 3-3 4 0 4 2 1 8 7 2 4-2 4-10 3-2 8 5 3 14 2 2 3 1 3-3 1-11 2-3 3-1 2 7 13 18 6 4 10 2 1 15-2 9-4 5 2 3 6 3 1-6 4-1 11 7 4 7 3 3 5 0 7-4 3 1 1 2-3 6-1 15-9 2-3 5 1 5 8 4-2 7-5 1-8-6-7 1-11 9 5 8-1 4-6 0-6 4-6-5-3 1-1 3 0 3 8 3 6 6 1 5-1 4-7 5-17 1-6 3-1 3 1 5 2 6 6 4 0 3-3 1-6-4-6-1-3 4-3 7-1 12-2 5-21 6-8 9-10 7 1 6 6 8 3 1 7-2 3 2 1 2zM250 88l2-3 0-4-1-3-3-1-2 2 0 6 1 3 3 0zM539 188l1-1 0-2-4 0 0 3 3 0zM483 268l4-2 2-3-1-4-2-2-8 2-3 3 0 3 2 3 6 0z"/><path fill="#343434" d="M299 59l-5-3-6-1-1-4 1-3 4-1 5 4 3 5-1 3zM463 314l-313 0 8-5 1-9-1-5-19-12-8 0-3-2-4-10-4-5 3-11-3-12-7-2-7 6-3-2-3-4 1-4 6-7 6-13 0-13-5-6-1-5 6-23 2-3 6-3 5-8 10-8 6-11 10-5 14-14 6-4 5-8 7-7 3 0 5 3 12 1 5-14 3-2 8 1 4-2 2-3 0-7 2-2 13 1 3 13 2 3 8-2 2-3-1-7-7-9 1-3 3-1 14-3 5 5 3 1 10-5 9 8 9 0 10 5 1-2-3-9 2-3 4 0 5 3 5 10 5 2 4-1 2-3 1-4-2-6 1-2 12 4-2 9 1 2 4 1 3-1 2-4 2-1 9 5 11-1 5 1 14-11 6-2 10 2-5 4-1 4 2 6 3 1 12-3 3-9 5-4 15 2 4 6 4 1 4-1 3-3-2-6 1-2 4 0 1 7 2 2 9 2 5-2 4-10 4-1 4 4 1 11 3 4 7 2 6-8 3 0 14 15 11 7 4 12-3 7-5 4 3 9 12 6 3-2 2-4 3 0 3 2 7 10 11 0 1 13-1 4-9 3-5 13-9 1-11 7-10 2-4 3-1 6-5 7-1 6 15 11 1 3-2 4-6 3-14-1-6 1-6-5-2 3 3 6 1 12-6 4-8 15-2 1-3-6-2-1-10 3-4 3-1 5 4 6 7-1 9-4 2 2 0 3-3 4-17 3-7 9-13 9-1 4 9 13 0 1zM185 112l2-4-3-1-3 3 2 2 2 0zM575 177l-3 0 0-3 4 1-1 2zM476 314l-6 0 3-2 3 2z"/><path fill="#393939" d="M461 314l-303 0 3-6-1-14-14-8-7-7-8 0-2-1-3-9-3-4 1-8-3-14-10-4-5 1 8-24 0-12-3-8 1-5-1-7 3-13 3-3 7-3 2-7 12-9 7-12 7-4 19-16 5-2 11-2 6-8 13 0 2-2 4-12 12-2 7-11 7 3 6 11 17-2 1-1-3-4-2-8-5-7 1-2 2-1 9-1 8 5 12-3 4 3 3 7 7-4 5 0 12 9-1 4 2 1 3-1-1-4 1-6-5-7 1-4 4 2 4 9 8 3 5-1 6-6-2-6 2-1 2 2-2 5 2 4 11 6 9-5 14 0 7 2 10-10 7-3 3 2 3 13 3 1 16-4 2-3 1-6 4-3 7 4 5 0 7 5 5 0 8-3 20 3 5-1-4-3-1-3 2-5 3-1 2 5-2 7 8 5 7 3 3-1 5-4 2 0 23 20 3 6 0 5-2 4-6 3 0 2 2 6 3 5 13 7 7-4 2 0 8 9 9 2 2 8-2 3-7 3-8 10-7 2-5 6-5 3-14 4-4 10-8 11-4 11-3 2-5 0-4 4-1 4 1 8-4 6-4 13-8 1-12 5-3 3-2 4 2 9-3 10-4 4-13 7-4 5 10 11 2 4zM535 221l-7-2 8-2 1 2-2 2z"/><path fill="#3d3d3d" d="M459 314l-298 0 2-6-1-15-13-8-6-7-5-2-8-1-3-12-4-21-8-4-4-3 0-4 4-8 1-7-2-19 3-8-3-7 1-10 3-3 10-2 1-2-2-4 2-3 10-7 7-12 14-11 13-9 15-5 7-7 9 1 4-2 5-11 10-3 9-9 5 2 4 8 2 1 18-1 7-2 1-3-7-4-5-12 0-2 3-2 4 1 7 4 10-3 3 1 3 3 1 10 3 2 3-1 1-5 2-3 6-1 7 6 1 7 4 2 7-2 3-7 14-2 7 3 4 4 16-7 10 1 9 2 9-10 6-3 3 2 3 11 4 2 18-5 7-7 18 4 12-2 12 0 16 4 14 6 8-2 4 0 6 5 6 8 6 3 3 5-1 7-7 2-1 2 2 8 4 7 15 8 9-2 8 9 7 1 2 4-7 4-6 8-4 1-14-7-6-6-2 1 0 6 10 11 0 5-5 3-11 3-3 3-4 10-8 9-3 9-9 5-3 3-3 13-8 15-8 6-10 5-4 4-1 4 2 8-3 11-3 2-11 5-9 7 1 4 10 7 3 4 0 1z"/><path fill="#424242" d="M457 314l-293 0 3-8-3-5 3-6-2-3-19-15-11-6-8-18-2-14-2-1-6 0-4-4 1-5 4-6-1-24 3-11-5-7 1-8 3-3 8 2 3-2 14-20 4-10 24-18 17-6 7-6 8 0 6-2 2-2 1-5 2-2 4 0 5 2 6-2-3-5 5-7 4 1 2 9 2 0 22-2 14-4 1-2-2-2-11-5-1-4 1-4 6 1 9-2 4 0 2 3 0 12 12 3 5-2-4-5-1-4 3-3 3 1 5 5-1 7 8 3 9-1 4-7 9-2 5 2 3 8 2 1 5-1 5-6 9-5 7 0 7 3 6 0 2-1 6-8 5-3 3 2 2 10 5 2 19-4 7-6 4-1 5 0 8 4 13-2 12 0 16 3 16 7 7-2 4 0 6 6 0 3-4 3 0 3 14 31 10 6 5 5 16 6 2 2 0 2-4 6-5 1-11-6-5-8-4-2-3 2-2 7 1 4 10 12 0 3-5 4-9 2-4 2-3 5-1 6-6 3-3 3-2 12-10 5-3 6-4 11-9 6-1 2 2 2 0 2-2 5-4 4-9 3-6 6-2 5 3 2 1 4-3 11-3 2-3-1-2-2-1-6-4 5-3 9-7 6-1 4 1 3 10 6 4 5zM536 109l-2 0-2-2 1-5 2 0 2 2 1 3-2 2z"/><path fill="#474747" d="M280 84l-8-3 0-3 6-3 3 0 1 5-2 4zM396 85l-2 0-1-4 3-3 3-1 1 2-1 4-3 2zM441 82l-4 1-1-3 2-2 4 0 2 3-3 1zM304 85l-4-2 0-3 4 1 1 2-1 2zM444 314l-276 0 4-10-1-11-6-7-26-19-7-14-11-41 1-12 4-16 25-38 13-13 15-8 51-20 53-10 27 1 34 4 23-2 31-4 44-8 24-3 19 0 13 4 13 9 11 14 9 24 2 9-1 6-5 15-10 20-15 24-23 29-38 52-2 5 0 8 5 12zM368 94l-8-1-2-2 0-2 5-4 4-2 5 1 6 3-1 3-9 4zM338 90l-5-1-1-1 6-1 1 2-1 1zM522 94l-4-2-1-3 5 1 1 2-1 2zM563 157l-3 1-5-3-3-3 0-2 4-1 8 2 1 3-2 3zM536 175l-4 0-3-3 1-5 3-4 4 1 5 6-1 3-5 2zM120 180l-3 0 0-5 2-3 3-1 1 5-3 4zM120 236l-2 1-3-3 1-6 3 0 2 3 0 3-1 2zM480 251l-4 0 0-3 4-3 4 0 0 3-4 3zM464 281l-3-3 2-5 3-3 1 4-1 5-2 2z"/><path fill="#4b4b4b" d="M369 91l-6 1-3-3 5-4 5 0 4 3-5 3zM437 314l-262 0 3-13-2-10-9-10-24-17-6-12-11-39 1-11 4-16 24-36 12-13 21-10 44-17 50-10 31 2 36 3 49-6 53-9 30-2 14 4 13 8 9 12 9 23 1 13-5 14-9 19-16 25-22 28-39 52-2 6-1 7 4 15zM536 172l-2 0-1-1 3-4 1 3-1 2zM119 178l0-3 2-1-2 4zM118 235l-1-2 0-2 2 2-1 2z"/><path fill="#505050" d="M369 89l-4 1-2-1 5-2 2 1-1 1zM432 314l-251 0 2-14-3-12-10-12-22-15-6-11-10-37 0-9 4-16 23-35 11-11 20-11 43-16 48-10 32 1 37 4 44-5 58-10 30-1 11 3 11 7 8 11 9 21 1 11-5 13-9 19-15 24-20 25-41 55-3 7-1 9 4 15z"/><path fill="#545454" d="M427 314l-243 0 4-14-4-13-7-10-24-20-4-10-10-36 4-21 22-34 9-10 11-6 18-9 31-12 17-5 33-6 28 1 39 4 45-4 58-8 22 0 11 2 12 8 7 10 8 21-1 10-10 25-14 24-22 28-40 56-3 14 3 15z"/><path fill="#595959" d="M424 314l-236 0 4-13-3-12-8-14-21-25-2-6-8-34 3-17 18-32 7-8 9-7 13-8 35-14 34-12 14-2 11-1 18 1 39 5 15 0 90-6 13 1 12 3 8 6 5 6 8 16 1 13-4 15-10 22-9 15-56 79-5 15 5 14z"/><path fill="#5d5d5d" d="M421 314l-230 0 6-11 0-6-4-10-18-30-7-13-6-29 0-11 1-8 6-15 7-13 7-9 20-16 57-26 24-6 27 0 39 6 16 1 76-1 17 1 16 6 10 9 6 10 2 14-1 13-8 20-8 15-59 88-2 9 6 12z"/><path fill="#626262" d="M418 314l-224 0 7-10 0-7-4-11-17-32-5-21-3-20 0-8 3-15 8-18 7-9 16-15 58-29 21-5 26 0 39 6 15 1 62 3 27 3 8 4 13 10 5 8 4 13-2 14-4 13-7 14-38 63-20 29-1 8 6 11z"/><path fill="#666666" d="M416 314l-218 0 6-9 1-6-3-11-14-35-5-33 0-11 3-11 8-21 12-15 14-11 43-23 25-6 19-1 16 1 76 12 25 5 28 9 8 7 4 8 1 10-1 15-8 26-7 19-17 32-21 31 0 7 6 10-1 1z"/><path fill="#6b6b6b" d="M415 314l-214 0 6-8 2-7-12-42-3-25 0-11 4-22 9-20 6-9 10-9 14-10 17-10 12-5 12-3 27-4 28 2 47 10 27 8 32 15 5 5 4 15 1 12-1 20-3 13-10 26-25 41-1 7 6 11z"/><path fill="#707070" d="M413 314l-209 0 7-10 1-5-8-42-1-26 5-28 7-15 7-12 19-18 16-9 15-6 19-4 17-2 14 0 20 3 33 10 24 10 19 12 11 9 7 12 5 14 1 16-3 12-7 20-24 41-1 7 6 11z"/><path fill="#747474" d="M408 314l-200 0 6-10 1-6-7-43-2-22 6-27 8-16 8-10 9-8 19-11 18-7 37-6 18 1 23 4 21 7 26 13 13 10 10 11 5 10 3 16-1 13-5 18-21 45 0 7 5 11z"/><path fill="#797979" d="M402 314l-190 0 6-11 1-6-10-62 3-19 4-12 10-12 19-14 21-9 32-6 18-2 23 1 22 6 23 10 14 10 10 10 6 10 3 12-3 28-17 48 0 6 5 12z"/><path fill="#7d7d7d" d="M397 314l-181 0 5-10 1-7-3-34-8-28 3-18 4-9 11-12 18-8 21-7 34-6 16-2 28 2 13 4 18 8 9 7 10 10 5 10 3 9-1 24-12 52 6 15z"/><path fill="#828282" d="M391 314l-171 0 5-11 1-6-3-36-8-26 2-12 4-11 10-10 13-6 27-7 34-6 24-1 15 1 12 4 15 7 10 7 6 8 5 10 3 8 0 17-9 54 5 16z"/><path fill="#868686" d="M385 314l-160 0 5-12 1-5-2-38-9-23 1-10 4-7 8-9 13-7 27-8 23-4 34-2 20 3 14 6 11 9 5 6 5 11 3 8 0 10-8 55 0 5 5 12z"/><path fill="#8b8b8b" d="M380 314l-151 0 6-12 0-8-1-37-9-22 2-8 9-11 12-7 27-8 23-4 15-2 23 1 13 3 12 4 8 7 5 6 8 19-7 60 1 8 4 11z"/><path fill="#8f8f8f" d="M375 314l-140 0 5-11 0-7-3-23 0-20-4-17 1-6 7-9 10-6 19-7 19-4 23-3 13 0 19 1 18 7 6 4 4 6 7 17-8 62 4 16z"/><path fill="#949494" d="M371 314l-130 0 4-11 1-8-6-25 0-34 3-6 8-7 14-7 24-6 15-2 13-2 25 1 14 3 8 4 7 9 4 13-2 36-6 27 4 15z"/><path fill="#999999" d="M367 314l-121 0 4-12 1-9-7-15-2-10 3-23 4-12 10-8 10-4 22-6 15-2 34-1 15 2 8 3 6 8 3 11-2 35-7 28 4 15z"/><path fill="#9d9d9d" d="M364 314l-115 0 4-11 1-10-7-15-2-10 2-16 6-15 8-7 9-4 23-6 26-4 19-1 15 2 8 3 6 7 2 12 0 24-2 14-6 14-1 7 4 16z"/><path fill="#a2a2a2" d="M360 314l-108 0 3-11 2-11-7-14-2-12 2-13 7-13 8-6 12-6 49-9 11-1 10 1 12 4 5 6 3 13-1 21-9 33 0 6 3 12z"/><path fill="#a6a6a6" d="M357 314l-103 0 6-22-7-15-3-12 2-8 5-9 7-7 16-8 57-12 10 1 9 3 5 6 3 12-1 20-9 29-1 10 4 12z"/><path fill="#ababab" d="M353 314l-97 0 6-22-6-13-3-12 3-11 10-11 15-8 32-6 25-7 7 0 9 3 4 4 2 5 1 17-3 20-7 18-1 11 4 11-1 1z"/><path fill="#afafaf" d="M350 314l-92 0 5-22-6-16-1-11 3-7 8-10 15-8 53-13 8 0 8 3 3 3 3 6 2 15-2 18-8 16-2 9 0 7 3 10z"/><path fill="#b4b4b4" d="M346 314l-87 0 6-22-6-15 1-12 3-7 6-7 7-5 24-9 32-7 9 0 7 3 3 3 3 7 3 21-3 11-11 21 0 7 3 11z"/><path fill="#b8b8b8" d="M342 314l-81 0 5-22-5-12 0-4 3-12 6-10 14-9 18-7 18-4 14-2 7 2 5 3 4 6 3 6 2 17-3 11-12 18 0 8 2 11z"/><path fill="#bdbdbd" d="M339 314l-77 0 5-22-4-11-1-5 4-11 7-10 6-5 13-6 29-9 12-1 11 5 6 11 3 16-3 10-12 18-1 9 2 11z"/><path fill="#c2c2c2" d="M336 314l-72 0 4-22-4-15 4-11 6-9 13-8 34-13 11 0 10 5 6 10 2 15-2 8-13 19-1 9 3 12-1 0z"/><path fill="#c6c6c6" d="M334 314l-68 0 4-22-4-15 2-7 7-10 14-10 33-12 9 0 9 5 5 7 3 14-3 9-12 20-1 9 2 12z"/><path fill="#cbcbcb" d="M332 314l-64 0 3-22-3-14 2-7 7-10 13-9 32-12 7 0 9 4 5 7 3 13-2 8-14 23 0 8 2 11z"/><path fill="#cfcfcf" d="M329 314l-59 0 3-22-3-13 5-11 8-9 7-4 36-14 7 2 5 4 3 6 2 10-2 10-13 22 1 19z"/><path fill="#d4d4d4" d="M327 314l-55 0 3-23-3-11 4-9 10-10 41-17 6 2 3 3 3 5 2 10-2 11-10 14-3 6 1 19z"/><path fill="#d8d8d8" d="M325 314l-51 0 2-15-1-19 3-7 9-9 40-18 5 2 4 5 3 15-2 7-11 14-2 6 1 19z"/><path fill="#dddddd" d="M322 314l-46 0 2-22 2-13 6-8 32-19 10-3 4 2 2 4 2 15-3 7-12 17 1 20z"/><path fill="#e1e1e1" d="M319 314l-41 0 2-22 3-10 5-7 31-21 9-2 3 2 2 4 0 12-2 6-12 18 0 20z"/><path fill="#e6e6e6" d="M318 314l-38 0 2-21 3-9 4-6 30-21 7-3 3 2 2 4 0 10-2 6-11 17 0 21z"/><path fill="#ebebeb" d="M317 314l-35 0 2-22 4-8 6-7 22-16 9-3 4 4 1 7-3 7-11 17 1 21z"/><path fill="#efefef" d="M315 314l-30 0 1-22 4-6 7-8 19-14 8-2 3 3 1 5-13 23 0 21z"/><path fill="#f4f4f4" d="M314 314l-27 0 2-21 2-5 7-7 18-14 7-2 3 3-1 4-11 22 0 20z"/><path fill="#f8f8f8" d="M312 314l-22 0 2-21 7-9 13-11 6-4 4-1 0 5-10 20 0 21z"/><path fill="#fdfdfd" d="M307 314l-11 0 0-18 5-7 8-5-2 9 0 21z"/></g></g><g transform="translate(72.40,352.50)" clip-path="url(#pc)"><g filter="url(#fB)"><rect x="-15" y="-15" width="630" height="330" fill="#000"/><path fill="#070707" d="M478 314l-338 0-1 0 0-3 2-7 2-2 8-1 9-15-9-10 2-9-4-4-6 1 4 9-4 7-2 0-3-4-2-6 5-6-3-5 0-4 3-7 8-3 2-3 1-6-5-17 5-13 7-12 8-8 12-6 12-9 2-5-3-7 2-5 3-3 7 0 10-3-1-9 2-5 7-8 14-9 5-8 6-5 1-7 8-1 11-6 3-3 1-7 3-2 9-1 6-5 8-1 5-5 16-6 6-4 18-2 11-7 10 2 9-3 13 1 3-2 5-5 3 0 5 3 2 7 4 2 8-1 9 1 15-1 17 7 10-6 14 6 13 0 1 1-2 12 2 3 8-1 5-4 1-4-4-6 3 1 6 6 13 2 4 3 4 7-1 10 1 3 10 4 3 4-1 12 2 6 4 2 9-3 3 3-3 8-1 14 1 3 6 3 1 4-1 9-4 4-2 5 1 4 6 6 1 6-7 6-1 8-3 4-4 10-9 4-5 6-2 6-2 15-7-1-4 3-1 6 7 6 0 3-20 7-7 4-6 8-5 11-7 2-3 4-2 5-1 12z"/><path fill="#0b0b0b" d="M475 314l-334 0 1-7 12-5 3-8 5-8-9-10 3-9-1-3-5-4-8-1-2-5 3-5 7-2 3-5 0-7-3-15 3-5 4 1 1-4-1-6 5-12 7-7 11-5 14-11 2-5-2-7 0-3 20-7 1-3-1-9 6-8 15-11 5-7 7-4 5-7 15-8 7-11 7-1 7-6 8 2 5-6 8-6 13-5 5 0 15-5 8-5 3 0 7 4 10-5 9 1 8-1 6-6 3 2 2 7 6 3 10-1 9 1 13-2 19 9 7-5 4-1 22 6 0 12 1 3 4 1 12-3 5 9 2 0 2-2 0-4-1-5 1-2 8-1 6 4 3 6-1 12 10 5 3 3-1 11 2 7 5 5 8 0 0 11-2 9 8 9-7 23-1 1-6 1-1 4 4 3 5-6 5 2 2 3-2 3-7 2-4 23-2 2-6 2-4 5-5 8-2 11-8 4-3 3-2 6 4 9-21 10-11 16-8 3-4 3-4 22zM382 63l2-2 0-2-3-2-3 0-1 4 5 2zM141 274l-1-2 1-1 0 3z"/><path fill="#101010" d="M472 314l-330 0 2-6 13-5 1-8 6-8-1-3-7-6-1-4 4-7 7-3-2-3-6 1-7-4-7-1-1-4 2-3 6-1 3-5 0-17 6-5 2-13-1-9 2-5 33-23 2-3 1-9 1-3 5-3 8-2 3-3 0-11 5-7 7-4 13-13 6-3 7-9 14-8 7-10 14-6 5 7 4 1 3-4 1-9 7-7 5-2 6 0 4 7 4 1 4-3-1-7 2-3 17-6 2 0 4 5 3 1 6-2 4-6 4 0 1 2-1 4 1 3 3 4 3 1 5-1 3-4 0-3-4-4 2-1 20 4 19 0 11-2 20 10 2 0 5-6 4-1 19 6-1 11 3 4 4 1 11-3 7 9 3 0 2-2 3-11 4-1 4 2 4 7-1 11 2 3 7 3 3 2-2 9 1 5 6 11 1 7 2 2 4-1 1 1-2 9 6 8 2 4-6 16-7 5-2 4 0 3 6 11-3 15-6 4-11 14-3 10-10 8-3 8 3 6-1 3-16 8-12 14-15 9 2 12-4 10z"/><path fill="#141414" d="M470 314l-325 0 3-5 12-4 2-10 5-6-1-4-8-7-2-4 4-5 8-1 1-4-3-7-8-2-3-6 2-18 6-7-1-7 3-9-2-10 3-4 16-8 7-8 9-4 4-15 4-4 10-3 4-13 4-1 5 4 3 0-5-8 7-11 12-8 8-9 8-3 15-17 10-2 9 4 7-3 3-3 0-9 3-5 4-2 5 0 4 6 4 2 5-1 3-3 2-10 8-2 4 0 8 4 13-2 7 6 4 1 7-3 9-7 30 3 10-4 4 1 8 6 11 5 3-1 2-7 4-1 12 3 4 2 0 3-2 7 4 5 6 1 9-2 7 8 4 1 4-3 4-10 4-1 4 6-1 10 1 4 10 7-1 9 6 13 0 10 3 11 10 8 1 4 0 5-3 8-8 6-3 5 0 4 5 9-1 5-7 8-1 7-4 6-4 4-8 3-1 3 3 5-1 3-6 5-5 8-7 5 1 3 6 2 0 2-3 3-11 5-13 14-15 8-2 3 4 5 0 4-3 11zM529 110l1-3-2-2-3 0-3 3 2 3 5-1zM464 304l3-3-2-4-3-1-4 1-1 2 2 3 5 2z"/><path fill="#191919" d="M468 314l-320 0 2-3 8-2 4-3 5-6 0-5 2-4-2-6-7-7-2-3 2-4 9-1 2-3-3-11-9-7-1-3 1-14 9-6-4-7 1-6 4-6 6-1 4-2 7-8 2-5-2-6 1-3 4-3 8-2 2-5 1-10 3-4 11-4 6-11 9 2 4-1 1-3-4-5-1-3 4-9 12-5 8-10 9-2 13-18 6-1 12 2 10-3 5 1 2-5-4-9 2-4 3-2 4 1 4 5 5 1 6-1 5-3 2-3 0-6 3-1 4 0 8 4 14-2 7 5 5 1 19-7 7-1 10 2 9 6 3-2 4-7 4-1 5 1 6 7 10 3 8-1 4-6 10 1 2 3-5 4 7 9 7 2 11-1 10 8 5-2 6-11 3 0 2 5-1 12 2 3 6 5-1 2-5-1-5 2-4 4 0 3 3 2 11-1 3 2 5 7-1 11 4 13 2 3 7 3 3 5-3 10-8 7-4 7 0 4 4 5 1 4-2 4-7 6-1 11-5 5-10 3-2 6 1 7-8 12-9 7 1 3 4 3 1 2-11 5-14 15-12 5-6 4-14 5 1 3 5 7 9 3 2 3-1 2zM168 203l-2-1-1-3 1-2 3-1 2 2-3 5z"/><path fill="#1e1e1e" d="M467 314l-315 0 6-2 13-9 2-11-4-7-9-9 2-4 9-1 2-5-3-11-10-10 0-9 2-4 7-4 3-3 0-2-6-4 1-6 3-3 9-3 6-5 5-11 0-9 3-1 5 2 3-2 4-20 3-2 7-2 8-11 9 1 7-3 0-3-6-7 1-4 2-4 13-5 7-10 9-2 5-8 8-10 15 1 11-2 7 5 2-3 2-9-2-9 1-2 4 4 5 1 12-3 10-8 11 3 11-3 11 4 13-3 3 1 5 7 7-10 4 0 15 7 4-2 5-7 3-2 4 2 3 9 5 5 5-4 15-3 12 12 8 1 11 0 11 8 6-2 5-9 2-1 2 3-2 9 2 8-9 8-1 5 4 3 12 0 5 3 2 4-1 10 3 13 3 4 9 5 1 7-2 4-8 7-6 9 1 4 4 7-2 4-6 4-1 13-4 4-11 4-7 23-11 10-1 3 3 5-6 4-14 15-12 4-7 5-11 2-3 3-1 4 7 9 9 3 2 3z"/><path fill="#222222" d="M464 314l-303 0 3-5 9-5 3-12-1-4-12-12 1-2 8-2 2-6-2-11-4-6-6-5-1-7 2-3 8-5 7-7-1-3-9-1 1-4 16-7 9-18 7-1 4-11 2-15 3-1 7 2 1-5 6-9 8 0 10-3 0-4-6-8 0-5 4-3 11-3 6-9 10-4 11-15 25-3 6 6 3 1 2-4 5-14 28-10 13 3 5-2 14 0 11-3 3 2 3 6 3 2 3-2 6-8 17 5 5-2 7-7 2 2 7 15 4 2 4-2 3-7 12-2 4 3 5 7 21 1 10 8 10-1 2 1 2 6-8 9 0 8 4 3 12 0 4 2 5 28 3 5 8 2 2 4-2 5-6 5-8 10-3 10-8 4 6 9 1 6-1 4-4 3-11 2-6 26-2 3-10 7-2 9-5 7-11 11-6 1-7-1-4 7-12 4-4 4-1 5 8 11 2 2 5 0 2 1zM531 164l6-4 0-2-4 1-3 5 1 0z"/><path fill="#272727" d="M451 314l-288 0 2-3 10-6 3-13-1-4-9-10 6-7 2-7-3-10-3-6-7-6 0-4 2-4 16-11 1-4-2-6 8-4 6-16 2-1 6 0 2-1 5-25 7 2 5-1 1-2-2-7 4-6 16-2 4-2 0-6-6-9 1-4 16-4 4-8 11-6 11-15 21-3 3 2 4 7 3 1 3-3 4-14 3-4 6-3 17-5 5 2 4 6 4 2 3-1 5-5 7-3 14-4 4 1 5 9 2 2 12-10 15 2 11-5 5 5 2 9 7 2 6-2 4-8 8-2 4 3 3 9 23 0 3 2 5 6 11 0 3 2 0 3-7 7 0 11 5 4 13 2 2 4 2 9 0 14-11 14 0 6 5 1 17-14 4 0 1 3-2 3-4 3-10 12-3 8-9 6 0 4 7 8 1 4-2 3-5 2-8-5-3 1 1 14-5 21-13 9-5 14-11 10-3 1-6-5-4 0-3 4-2 8-10 4-5 5-2 5 5 9 1 6zM395 93l1-3-1-2-2 3 2 2zM287 113l1-2-8-2-1 1 3 2 5 1zM525 148l1-3-4-1 0 4 3 0z"/><path fill="#2b2b2b" d="M447 314l-281 0 12-11 3-11-2-5-8-8 5-9 1-8-5-14-7-7 0-3 4-5 16-8 1-8 5-6 1-9 2-6 2-1 6 0 3-1 6-21 14-6 1-2-3-6 1-4 3-2 5 1 3 2-1 6 1 2 3 1 3-2 1-8 4-5 1-4-1-4-6-9 1-3 6-2 11 1 7-7 3-6 5-4 16 3 11-2 3-3 0-3-1-1-12 2-9-2-2-4 3-4 20-3 2 3 2 7 6 1 4-1 5-8 5 6 3 0 2-1 0-3-6-11 0-5 5-3 13-2 4 0 7 7 5 2 11-3 7-8 12-2 5 8-3 11 4 3 3-2 3-9 11-9 13 1 12-3 2 3 1 9 11 2 4 0 4-3 3-8 6-1 2 2 0 3-4 8 2 5 3 0 10-6 15 1 2 1 3 5 4 3 11 0-4 6-2 15 15 10 6 1 2 5-2 4-9 0-3 3-1 4 1 5 6 6-5 6-2 6-4 2-1 3 1 1 5-3 11 3 2 1 0 4-2 5-8 5-2 2 2 6 5 6 0 4-3 1-5-4-3-1-4 2-2 2 2 16-4 19-14 8-5 14-2 2-6 3-7-2-7 2-4 4-3 9-12 8-4 7 3 10 0 6zM536 173l-2 0 1-4 3-3 3 0-1 4-4 3zM190 236l1-2-2-3-2 3 3 2z"/><path fill="#303030" d="M444 314l-275 0 12-12 4-8-3-8-8-7 5-17-6-16-5-5-1-3 3-4 10-5 3 1 1 6 2 2 4 1 3-2 1-5-5-6-1-6 1-3 6-6-1-7 1-5 2-2 7 0 3-2 4-8 3-3 0-8 3-3 13-6 9 1 4-3 5-12 1-5-1-5-5-9 1-3 6-1 8 4 10-10 4-7 2-2 14 2 11-1 9-5 7-1 6-5 11 1 2-3-1-7-5-11 3-3 13-1 11 7 6 1 10-2 7-9 10-3 3 3 1 4-3 8 1 4 2 3 4 2 3-1 4-9 6-3 4-7 22-1 2 9 2 2 20 2 7 6 5 2 7-6 4-2 2 1 4 7 9-3 11 7 2 7-4 8 1 3 4 5 7 2 2 4-3 5-1 17-4 6-7 18 2 3 3 0 10-5 4 0 5 2 1 3-2 4-10 5 1 9-1 2-7 3-3 3 0 13 1 5-2 17-5 3-9 1-4-1-5-6-3 2 0 2 6 5 2 3 0 5-2 7-4 3-7-3-10 6-4 4-5 9-10 8-4 7 2 10-1 7zM290 106l-7-1-1-2 1-3 4-2 14 1-1 2-10 5zM277 139l-2-6-3 0 0 4 3 3 2-1zM229 159l-2 0 0-1 1-1 1 2zM473 247l2-4-1-1-3 6 2-1z"/><path fill="#343434" d="M442 314l-270 0 6-7 8-6 5-17-1-3-7 1-5-4 0-6 5-10-6-9-3-8-4-7 3-4 6-2 6 7 4 1 4-1 3-7-6-9 1-5 4-4 10-2 3-3-2-3-8-1-1-3 8-3 8-7 7-4 0-3-2-7 1-3 4-3 9-2 5 2 3 5 4-2 2-2-2-5 4-7 3-2 5 0 4-3-2-8 1-7 2-4 3-3 2 0 9 8 4-1 1-3-3-6-7-5 5-9 4-1 10 2 11 0 8-5 7-1 7-5 12-1 2-4-1-11-2-6 1-1 12 0 12 5 5 1 9-2 8-10 7-2 2 2 1 3-2 8 0 5 4 4 5 2 6-2 1-6 3-1 7 0 5 7 4-1 1-4-5-6-2-4 7-3 5 0 3 2 0 7 3 2 12 0 11 3 15 8 7-6 8 5 3 0 6-2 8 4 2 3 1 3-1 3-5 6 1 6-1 7 2 3 8 2 2 4-1 11-6 12-8 4-1 4 6 10 7 6 5 9-2 3-8 5 0 8-1 3-7 4-2 3 1 2 7 4 2 11-4 3-9 0-4-2-3-8-13 8-5 9 6 5-1 5-3 4-9 6-4 10-8 6-7 9 0 19zM288 104l-3-1 0-2 5 0 0 2-2 1zM252 139l-2 1-4-3-1-3 1-2 5 1 2 3-1 3zM522 186l-7 1-2-2 7-6 6 0 1 4-5 3zM498 202l1-4-2-1-2 1 0 3 1 2 2-1zM483 258l-5-4 0-3 2-2 3 1 2 3 0 4-2 1zM419 305l0-2-2 0 2 2z"/><path fill="#393939" d="M440 314l-266 0 5-6 9-5 5-20-3-5-6 1-4-3 1-6 5-4 1-3-9-11-5-14 4-3 9 6 7 0 3-4 1-5-5-8 0-5 4-3 8-1 3-2 4-5-2-7 2-4 3-3 11-4 1-3-5-8 1-4 10-3 3 2 3 6 3 0 7-6 2-9 7-2 7-7-3-11 2-6 4-1 8 7 5-3 2-4-7-13 1-5 4-1 8 2 12 1 24-12 12-2 3-3 0-10 5-5 7 0 11 4 11-2 7-11 6-2 3 3-3 14 4 4 4 2 12-1 4-5 5 3 6 2 4-2 5-4 16 0 13 2 14 8 8-2 12 3 7-1 5 2 1 3-2 3-7 5 2 8-1 9 12 5 1 7-1 4-4 4-2 7-6 4-2 7 8 16 7 5 2 3-3 3-4 1-2-1-3-8-4 1-3 2-1 5-1 9-8 14-3 9-9 8-6 9 0 3 5 5-1 3-5 4-8 3-2 12-8 6-7 10 1 12 0 7-1 0zM382 101l0-2-1-2-5-1 0 2 2 3 4 0zM502 214l-3-1 2-4 2 2-1 3zM501 241l-8 0-2-3 1-3 6-4 4 1 2 6-3 3zM423 310l6-5-5-3-6-7-2 2-1 7 5 6 3 0z"/><path fill="#3d3d3d" d="M382 92l-2-1 0-4 2-4 3-1 1 3-4 7zM420 314l-245 0 5-6 10-2 5-22-1-4-2-3-9-3 1-3 5-3 1-5-3-5-8-6-1-9 2-1 11 2 4-3 4-9-5-8 0-4 3-2 7-1 4-3 5-6-1-8 2-3 12-4 7-8 10-5 6-5 5-8 11-8 2-5-4-8 1-4 4-1 7 6 8-5 2-4-4-7 1-7 11 1 3 2 2 0 10-8 8-3 8-4 12-2 10-4 3-3-1-7 2-3 3 0 3 2 3 9 1 0 9-6 7 5 4 1 7-3 9 3 16-2 10 0 10-4 14-1 13 2 14 8 12-1 6 3 2 3-1 12 3 14 2 2 8 1 2 3-1 2-6 2-2 3 3 8-5 6-2 7 4 11 1 4-7 8-2 13-11 23-8 8-8 12 0 3 4 3 0 3-3 2-9 2-3 5 0 9-7 4-5 0 3 3-1 3-6 5-4 6-4 1-3-1-4-7-4 0-2 2-2 10 7 10zM232 184l-4 0-3-2-2-4 1-2 5-2 4 2 1 4-2 4zM439 314l-15 0 12-11 3 3 0 8z"/><path fill="#424242" d="M416 314l-239 0 2-3 4-2 4 0 3 3 2 0 3-5 2-9-1-17-4-10 0-10-4-5-7-4-1-6 2-2 11 3 2-1 3-6 3-9 0-2-5-5 0-3 3-2 7 0 4-4 5-7 1-9 8-2 6-3 19-16 18-18 5-10 11-5 26-23 16-8 37-6 8-5 9 3 8-1 20 0 26-2 8 0 7-3 11 1 6 5 12 4 2 0 3-2 3 0 4 4-1 3-2 2 2 9 4 13 4 6-2 6 1 7-3 14 4 13-5 8-4 15-11 22-24 33-5 10-5 2-4 3-5 9-5 5 0-3-3-1-10 2-3 3-1 11 5 10zM270 150l-4-3 0-3 3 1 1 5zM271 151l-1-1 1 0 0 1zM437 314l-9 0 2-3 5-3 2 2 1 4-1 0z"/><path fill="#474747" d="M411 314l-215 0 4-9 1-8-3-27 0-12 2-12 4-13 9-15 15-17 50-45 22-22 11-9 9-4 24-6 28-4 30-2 44-1 18 2 6 2 5 3 6 7 7 18 1 26-3 30-10 26-22 32-17 18-15 12-10 4-4 4-1 11 4 11zM200 223l-2 0 2-2 0 2zM185 251l-3-2 1-2 4 2-2 2zM186 314l-8 0 2-3 4-1 2 1 0 3zM435 314l-4 0 3-2 2 1-1 1z"/><path fill="#4b4b4b" d="M404 314l-202 0 4-17-3-26 0-14 6-22 8-13 15-18 49-44 23-23 17-11 25-6 23-3 32-3 45-1 21 3 4 2 5 6 6 16 2 26-4 30-9 24-21 31-18 18-13 11-10 4-5 5-3 11 4 14-1 0zM184 314l-4 0 3-2 1 0 0 2z"/><path fill="#505050" d="M400 314l-192 0 3-15-3-30 1-12 2-10 5-14 14-20 54-49 23-22 13-10 12-4 38-6 50-3 29 0 14 1 5 3 4 4 5 14 1 28-3 26-8 22-21 30-16 18-13 11-10 4-7 7-3 13 3 14z"/><path fill="#545454" d="M398 314l-187 0 4-16-3-26 0-14 4-17 7-15 14-17 71-64 13-8 12-5 39-6 47-3 27 1 14 2 5 3 3 4 4 10 1 11 0 29-4 20-6 13-11 19-21 27-14 12-10 4-8 8-4 13 3 15z"/><path fill="#595959" d="M398 314l-185 0 5-16-4-39 6-23 11-19 15-16 61-51 15-9 11-4 18-4 37-4 42 0 27 6 3 2 4 8 5 19-1 25-3 14-4 11-11 20-20 28-14 12-10 4-8 8-3 14 3 14z"/><path fill="#5d5d5d" d="M397 314l-182 0 6-15-4-40 3-16 6-15 11-17 19-18 44-35 10-7 12-6 12-4 19-3 36-4 40 1 23 7 3 3 5 10 3 11 1 23-3 15-13 28-19 29-13 12-10 4-9 10-3 13 3 14z"/><path fill="#626262" d="M397 314l-180 0 7-14 0-8-5-27 1-14 4-14 6-14 9-12 17-17 44-34 13-7 22-7 19-4 27-3 40 1 8 1 15 6 5 3 4 6 5 11 2 10 0 12-3 14-10 26-19 32-13 11-10 5-8 9-4 14 4 14z"/><path fill="#666666" d="M396 314l-176 0 6-14 0-8-5-27 1-13 4-15 5-13 14-18 12-11 40-29 16-9 43-10 27-3 29 2 13 3 10 4 6 4 5 6 5 16 1 12-3 19-8 21-15 29-11 11-10 5-9 11-3 13 3 14z"/><path fill="#6b6b6b" d="M396 314l-174 0 6-14 0-9-4-27 2-17 7-22 14-17 11-10 37-25 20-11 23-6 36-4 30 2 20 6 10 7 5 10 3 13-2 20-5 20-13 27-9 12-13 11-5 7-2 13 3 14z"/><path fill="#707070" d="M395 314l-170 0 5-14 0-10-3-26 1-16 7-21 15-18 14-11 33-22 20-9 29-6 27-2 25 3 17 6 10 7 5 10 1 11 0 23-3 11-12 27-22 31-2 12 3 14z"/><path fill="#747474" d="M394 314l-167 0 6-14-4-36 2-15 7-21 16-18 23-18 35-17 28-7 24-2 23 1 15 5 12 9 4 7 5 19 0 15 0 6-7 19-23 42-2 11 4 14-1 0z"/><path fill="#797979" d="M393 314l-164 0 6-12 0-14-3-24 1-14 2-9 5-12 15-16 24-17 21-11 14-5 28-5 23-1 18 3 10 4 9 7 6 9 4 14 1 11-2 14-6 18-14 39-1 8 3 13z"/><path fill="#7d7d7d" d="M389 314l-157 0 6-13-1-54 5-16 9-9 11-9 24-13 18-8 17-5 23-2 21 1 12 5 8 6 5 6 4 9 3 12-4 34-9 39 0 6 5 11z"/><path fill="#828282" d="M384 314l-149 0 6-13-1-54 4-16 8-8 12-9 24-11 17-7 18-3 19-2 19 2 8 4 6 4 6 8 7 19-1 28-7 40 0 7 4 11z"/><path fill="#868686" d="M380 314l-142 0 5-14 0-60 2-9 12-11 16-9 16-6 16-5 21-3 24 0 11 2 7 4 9 10 5 17 0 11-6 53 0 8 4 12z"/><path fill="#8b8b8b" d="M376 314l-136 0 6-14-1-62 2-7 10-9 17-10 26-7 27-4 21 0 11 3 6 3 8 9 5 16-6 60 0 10 4 12z"/><path fill="#8f8f8f" d="M372 314l-129 0 4-14 0-30 1-32 2-5 9-8 16-9 27-6 26-4 18 0 11 2 6 3 8 8 4 13-7 63 0 8 4 11z"/><path fill="#949494" d="M368 314l-123 0 4-14 0-43 2-14 3-8 8-6 15-8 36-8 35-1 10 2 7 3 6 8 1 9-2 27-6 36 0 6 4 11z"/><path fill="#999999" d="M364 314l-118 0 5-14-1-43 4-13 4-7 8-6 13-5 36-8 35-1 14 3 5 8 1 9-2 23-8 38 4 16z"/><path fill="#9d9d9d" d="M361 314l-113 0 4-15-1-41 7-17 7-6 14-6 37-8 29-2 11 1 7 3 4 6 1 11-3 20-8 38 4 16z"/><path fill="#a2a2a2" d="M358 314l-109 0 5-16-2-38 7-15 4-5 7-4 17-6 54-9 10 1 10 3 3 5 1 10-3 24-7 32 0 6 4 11-1 1z"/><path fill="#a6a6a6" d="M356 314l-106 0 5-16-2-34 3-10 8-11 14-8 63-12 9 1 8 3 3 4 2 9-4 24-6 28 0 10 3 12z"/><path fill="#ababab" d="M354 314l-102 0 4-16-2-31 2-11 9-10 13-8 37-6 21-6 7-1 12 3 3 4 2 8-3 23-6 28 0 12 3 11z"/><path fill="#afafaf" d="M351 314l-98 0 5-15-2-32 2-10 7-8 7-5 6-3 10-3 48-9 10 0 7 3 4 7 0 9-2 15-7 28 0 12 4 10-1 1z"/><path fill="#b4b4b4" d="M349 314l-94 0 4-14-1-33 3-9 6-7 7-5 17-6 43-8 10 0 6 3 4 5 1 7-3 21-6 26 0 9 3 11z"/><path fill="#b8b8b8" d="M346 314l-90 0 4-14 0-32 3-9 6-6 11-7 22-7 30-5 11 2 5 2 4 5 1 11-2 14-8 26 0 7 4 12-1 1z"/><path fill="#bdbdbd" d="M344 314l-86 0 3-14 1-30 4-10 5-5 10-6 31-10 20-3 14 5 4 4 1 9-2 13-8 26 0 8 3 13z"/><path fill="#c2c2c2" d="M341 314l-82 0 4-14 1-24 4-12 6-6 8-5 32-12 15-3 13 4 5 5 1 8-1 12-9 27 0 7 3 13z"/><path fill="#c6c6c6" d="M338 314l-77 0 4-14 0-20 5-12 11-10 39-17 10-1 10 4 5 6 1 10-2 11-9 23 0 7 3 13z"/><path fill="#cbcbcb" d="M335 314l-72 0 3-14 1-19 3-8 11-12 38-17 9-2 9 3 5 6 2 12-2 9-8 16-1 6 2 20z"/><path fill="#cfcfcf" d="M332 314l-67 0 3-14 1-18 3-7 8-9 5-4 35-16 8-2 8 3 5 5 1 12-2 10-10 19 0 9 2 12z"/><path fill="#d4d4d4" d="M329 314l-62 0 3-13 2-18 6-11 16-12 34-14 5 1 4 4 4 13-2 10-11 19 1 21z"/><path fill="#d8d8d8" d="M327 314l-58 0 5-30 6-10 15-12 33-14 5 1 3 4 3 13-2 9-8 11-3 7 1 21z"/><path fill="#dddddd" d="M325 314l-54 0 3-23 2-7 6-8 14-11 25-13 7-2 3 1 3 3 2 14-3 9-9 16 1 21z"/><path fill="#e1e1e1" d="M323 314l-50 0 3-22 6-12 13-10 24-14 9-4 4 4 2 12-3 9-9 17 1 20z"/><path fill="#e6e6e6" d="M322 314l-46 0 2-21 6-11 12-10 23-14 8-3 2 1 2 3 1 9-2 8-10 18 2 20z"/><path fill="#ebebeb" d="M320 314l-41 0 1-20 3-6 7-8 26-18 10-4 3 4 1 6-2 8-9 17-1 7 2 14z"/><path fill="#efefef" d="M318 314l-36 0 2-21 4-7 9-8 18-13 9-4 3 2 1 6-2 8-8 16-1 6 1 15z"/><path fill="#f4f4f4" d="M316 314l-30 0 1-21 5-7 19-15 7-5 6-2 3 3-1 6-9 18-2 6 1 17z"/><path fill="#f8f8f8" d="M313 314l-24 0 1-21 3-4 19-16 6-4 5-1 1 1-1 5-9 16-1 6 0 18z"/><path fill="#fdfdfd" d="M308 314l-14 0 1-18 2-4 14-10-3 14 0 18z"/></g></g><g transform="translate(72.40,691.60)" clip-path="url(#pc)"><g filter="url(#fC)"><rect x="-15" y="-15" width="630" height="330" fill="#000"/><path fill="#070707" d="M547 314l-485 0-1-8 4-9 2-7-6-34 1-18-8-23-1-9-7-7-1-3 9-11 3-6 8-6 0-4-4-9 1-5 11-4 12-17 12-9 3-10 4-7 1-8 2-1 7 1 3-2 7-16 8-8 2-9 2 0 8 4 9 1 3-4 1-10 6-6 4-1 7 1 3 0 8-11 7-6 24 1 10-3 3-3 0-9 6-6 10 2 16-4 9 8 7 2 2-1 2-9 8 1 6-5 8 0 8-2 10 4 3-6 3-2 22 9 3-1 2-5 4-2 15-1 8-2 7 7 6 2 4 0 6-5 14 2 8-3 7 3 11-5 11 1 9-2 4 1 8 5 11 1 1-2-3-6 0-5 3-2 11-3 32 10 10-1 13 10 12 19 9 4 6 5 8 1 4 3 10 17 10 9 1 6-1 155-6 5-4 9-9 14-3 1-9 0-2 9-11 10-5 7-4 2-7-2-9 4-4 3 0 4 7 8 2 0-1-6 2-5 3 1 2 3-1 5-5 2 1 6-3 8zM281 9l-1-3 1-4 4-6 3 0 1 5-5 4-3 4z"/><path fill="#0b0b0b" d="M545 314l-261 1-221-1-1-7 6-10 1-13-4-14 1-6-1-21 3-7-7-6-4-18 1-8 4-3 1-3-6 4-8-4 0-3 10-15 7-3 3-3 0-4-5-9 0-4 11-5 13-18 10-7 10-23 7-1 3-3 5-7 3-10 10-10 3-1 15 0 3-4 1-10 2-3 6-4 12 0 14-17 7 0 11 2 19-3 2-4 0-9 4-4 10 2 13-4 20 11 3-2 3-7 7-3 5-4 13-2 13 5 2-1 3-5 3-1 20 8 5-2 6-7 4-1 15 0 9 5 7 1 9-4 13 2 8-1 7 1 10-5 13 2 9-3 9 6 15 2 2-1 1-3-5-7 0-4 2-2 6-1 29 7 16 1 13 11 13 17 8 4 6 5 11 4 10 17 12 10 0 6 0 152-7 4-5 11-9 12-4 1-8-5-2 1-1 4 2 9-12 11-4 7-4 0-6-4-18 14 0 3 11 14-1 7zM561 267l1-4-3 3 0 1 2 0z"/><path fill="#101010" d="M543 314l-249 1-229-1-1-7 5-8 3-12 3-4 6-3 1-2-6-6-5-2-3-12 1-15 7-7 0-2-12-4-3-5 0-14 5-10 1-10-3-2-8 6-1-2 5-10 10-5 4-5-1-3-6-7 0-4 9-6 11-12 3-6 9-6 11-21 7-4 8-8 6 0 5-4 1-4-7-2 1-4 5-4 7 2 11-5 4-5 2-11 2-3 5-3 9 0 3-1 14-17 6 0 10 3 21-1 3-4 2-13 3-1 8 1 9-3 4 0 18 10 3 0 2-2 3-7 15-8 11 0 11 4 10-6 18 7 10-4 7-1 3-3 3 0 2 1-2 5 3 2 2-1 2-5 2-1 13 3 12-4 12 3 7-2 7 1 11-5 9 2 12-1 7 4 19 2 3-1 1-2-1-5-5-7 3-2 10 4 11 0 3 3 1 7 7 4 2-1-1-7 1-2 13-1 12 10 13 16 9 5 6 6 10 4 7 9 3 7 14 12 1 27 0 99-2 25-7 6-13 22-3 1-3-1-2-2-1-6-5 1-2 4 0 14-2 4-4 3-3 1-1-8-5-1-14 19-11 9-9 4 0 3 6 2 4 4 6 9 0 5zM561 278l-2-3 4-3 0 4-2 2z"/><path fill="#141414" d="M499 4l-1-2 2 1-1 1zM540 314l-472 0-1-7 4-7 3-11 3-4 6-2 2-4-2-5-10-9-3-7 2-15 8-6 1-4-3-2-12-3-3-4 1-5 4-4-2-6 4-17-1-8 5-5 3-7 0-3-6-5-1-3 19-18 4-7 7-4 5-12 7-11 11-8 10-3 11-14 12-7 8-20 4-3 9 1 3-1 9-8 2-7 3-2 5-1 9 4 14-1 9 2 4-5 2-11 1-2 8 2 7-5 4-1 22 10 4-2 4-8 14-8 9 1 12 4 12-5 14 6 14-4 14 4 4-1 5-6 13 2 10-4 10 5 8-3 10 0 7-3 2 1 0 5 3 2 5-5 7-2 9 4 12-1 22 3 11-4 17 7 4-1 2-3-8-4-1-5 3-2 7 1 12 9 6 9 7 7 9 5 6 7 10 4 6 9 2 9 6 1 3 4 1 3-2 15 2 0 4-3 3 0 1 18-1 105-6-2-3 1 0 3 4 5-1 7-4 6-4 10-5 0-5-2-3-4-3 0-3 7-6 7-3 16-7-3-4 1-17 22-7 6-10 4-3 2-1 4 2 3 8 1 4 3 4 9 1 3-1 0zM202 50l-1-1-3 0 1 1 3 0z"/><path fill="#191919" d="M533 8l-2-1 0-2 5 1-3 2zM537 314l-242 1-224-1 0-7 4-16 3-3 7-3 2-5-2-7-10-9-3-7 2-13 8-7 0-5-3-4-8-1-5-3 1-2 5-3 1-2 0-3-4-6 1-7 3-13 4-6 3-12-5-7 0-3 20-19 7-3 4-15 9-14 8-6 10-3 13-15 11-6 5-16 5-6 4-1 9 1 5-5 3-1 10 2 11-1 1-1-3-6 8-3 17 1 3-2 6-9 6-2 8-7 9 1 14 7 7-3 4-8 6-2 5-4 3-1 19 4 14-3 11 5 15-4 15 4 4-1 5-6 13 1 9-3 4 2 2 8 3 1 2 0 3-7 5-3 12 1 9 7 5-2 5-5 9 4 14-4 23 5 11-4 15 7 6-2 6-6 3 0 3 2 5 8 18 12 5 7 10 5 5 9-1 11 10 7 0 12 1 4 3 1 9-1 0 107 0 6-8-1-4 2 2 11-6 9 2 6-1 3-5 0-6-6-6 1-9 14-2 11-11 2-11 13-3 8-4 5-6 4-10 3-4 3-2 6 1 4 5 6 4 3 2-5 2-1 2 3 2 8zM197 45l-3-1-1-2 1-3 2-1 5 1 3 4-7 2z"/><path fill="#1e1e1e" d="M527 314l-453 0 0-5 3-5-2-6 1-5 3-3 7-2 3-7-3-11-8-6-4-7 2-12 7-6 1-4-2-6-7-5 1-9-5-9 0-7 3-8 6-8 3-13 6-4-1-2-4 2-3-1-3-5 3-4 8-5 7-7 8-5 3-15 12-16 5-4 9-1 15-18 9-4 6-16 5-6 5-1 7 5 8-9 25 2 5-7 17-5 6-7 7-4 9-8 8 2 12 6 8-3 6-8 8-1 4-5 3 2-2 6 5 2 4-1 4-5 8-1 8-2 5 0 7 5 16-6 11 4 6 1 4-1 6-6 19-1 2 1 4 9 10 3 2-2-2-8 5-3 10 2 10 6 11-2 9 9 5 1 8-4 0-2-6-1-3-2 2-3 6-3 24 5 12-4 8 6 4 1 16-6 2 2 1 7 10 2 12 7 5 9 9 5 4 8 0 10 3 4 6 5 3 16 4 1 10 0 0 106 0 3-8-2-5 2-2 3 2 9-2 4-6 6-8 0-7 5-7 11-2 10-8 1-3 2-10 12-4 11-4 5-5 3-11 4-4 3-3 5 1 5 9 10 1 4z"/><path fill="#222222" d="M525 314l-449 0 2-4 6-2 2-3-2-3-5-4-1-3 2-2 8-4 2-8-1-13-10-5-3-6 1-11 8-7 1-4-3-7-5-6 0-9-5-9 0-5 2-5 7-10 2-9 7-4 1-4 0-4-2-4-6 2-2-2 3-3 6-1 5-9 10-6 2-14 12-17 4-3 11-1 13-18 11-5 7-17 5-2 0 6 3 1 10-2 2-9 4-3 13 1 10 2 9-9 14-5 21-16 5 0 15 7 7-4 8-6 8 3 10-1 22-9 5 1 5 5 3 1 15-8 12 4 9 0 4-1 3-4 4-1 14 0 6 11 13 2 3-3-2-9 2-2 3 0 7 3 10 6 10-1 10 7 5 2 11-4 5-7 3-2 14 2 9-3 6 6 5 1 14-3 6 5 10 1 11 6 3 4 1 8 7 2 4 4 2 5 1 9 5 9 0 6 4 5 0 6 6 2 13 1 0 102 0 2-10-2-6 3-1 3 2 9-2 4-4 3-7 1-5 3-13 15-3 7-8 3-11 13-4 14-4 5-15 6-4 3-4 6 0 6 9 8 2 5zM425 43l2-1-1-2-4 0-2 1 2 2 3 0z"/><path fill="#272727" d="M524 314l-445 0 9-7-1-4-4-7 8-8 1-7 0-13-3-4-8-3-3-4 1-11 7-6 1-4-2-8-5-7-1-10-3-8-1-4 12-20 7-6 0-14 2-10 3-3 9-6 2-12 6-7 6-11 3-2 10 1 3-1 3-9 7-10 3-2 9-3 6-12 7 1 13-3 2-2 0-7 4-3 11 0 8 3 4-1 8-8 15-6 18-13 3-1 18 6 14-8 8 3 20-6 4 2 5 7 4 1 6-3 0-1-9-4 0-5 3-3 4 1 5 8 2 0 6-2 6-6 5-2 11 3 18 3 3-2 0-5 4-1 9 2 2 4-1 7 3 5 9 8 5 1 9-2 2-7 6-6-2-1-6 2-3-11 1-2 8 3 5 7 5 1 9-4 12 8 4 1 13-5 5-6 4-2 11 3 8-3 5 5 7 2 12-4 8 5 9 2 10 4 2 4 0 9 9 3 4 3 2 4 1 8 4 8-1 6 3 7 1 8 4 2 14-1 5 1 0 24-2 5 2 6 0 65-11-1-8 3-2 3 3 8-1 4-3 1-5-3-2 1-4 8-20 16-11 15-6 6-2 5-2 12-2 4-4 2-12 4-6 4-3 6 0 9 9 5 3 5zM358 36l2-4-3-1-2 1 0 3 1 2 2-1zM427 36l-10 0-2-3 3-3 14 2 0 3-5 1zM552 41l2-2-1-2-5 3 1 1 3 0zM247 57l1-3-3-2-2 4 2 1 2 0z"/><path fill="#2b2b2b" d="M522 314l-437 0 4-7-2-10 5-8 2-21-6-9-2-5-4-5 0-3 6-6 1-4-3-8-5-8 1-10-3-10 10-19 9-4-3-14 3-13 3-4 9-3 1-12 2-3 6-3 0-6 3-6 5-2 8 1 3 3-3 7 1 2 2-1 2-3 0-6 3-7 2-4 5-4-1-5 1-4 11-4 6-9 21-5 2-3 1-7 2-2 10 0 10 2 5-2 9-8 12-3 2 1 1 9 4 1 3-2 2-4-2-3-4-4 0-2 12-8 11 1 10 3 12-7 3 1 3 4 3 1 5-7 13-3 4 2 6 9 13-4 8-4 2 1 4 5 3 1 3-3 4-7-1-3-5-2 0-2 3-1 19 5 2 2 1 5 2 2 3-1 7-5 5 0 8 10 10 6 4 1 13-2 7-11 8-2 6-5 5 1 9 7 5 1 12-5 9-7 5 1 3 8 6 2 4-1 3-4 12 0 6-4 3 0 8 7 0 2-6 5 1 5 5 1 5 0 11-8 2 2 1 10 11 4 3 3 5 16 0 7 4 17 5 2 14-1 3 2 1 7 2 4 0 6-3 4-1 5 1 5 3 3 0 22-3 3 3 4 0 17-3 2-1 3 3 8-3 1-10-1-9 5-2 3 0 5-5 3-3 9-3 4-6 4-10 2-4 3-7 15-12 15-2 16-3 2-5 0-15 9-3 7 0 13 1 1 7 0 4 3 0 2zM528 276l2-3-2-1-2 2 1 2 1 0z"/><path fill="#303030" d="M506 314l-417 0 2-7-1-9 4-9 2-21-5-9 1-6-7-5 5-12-6-16 1-11-2-7 5-7 3-10 2-1 6 1 2-2 0-8-4-11 3-14 5-4 7 4 3-2 1-4-3-6 0-5 2-2 7-1 2-1 1-2-3-7 3-6 5-1 3 2-2 10 5 1 4-1 5-18 3-3 6-1 2-2-3-9 9-4 6-8 8 0 1 7 4 0 2-4-3-5 11-6 2-9 3-1 7 0 7 3 14-4 10 7-2-6-4-5 0-2 5-3 4 0 4 10 2 1 3 0 7-7-1-4-2-6 4-4 7 1 7-3 11 3 9-6 7 5 6 0 3-1 2-7 9-2 5 2 3 9 2 2 22-8 7 4 3 1 4-3 7-11 5-1 5 2 2 7 2 3 4 0 9-4 3-1 9 8 14 7 17-2 4-10 8-3 7-5 4 1 9 7 6 2 13-5 7-5 5 6 11 2 4 0 5-4 12-1 5-2 2 3-3 3-1 4 4 7 10 2 10-4 3 7 14 8 4 12 0 8 3 7 3 12 5 2 12 0 3 2 3 11-2 13 2 7 3 4 0 13-9 3 5 9 4 3 0 11-9 3-10 11-8 3-9 26-7 4-10 1-4 4-8 17-10 9-7 11-7 6-1 7-1 2-9 3-7-5-3 1 0 3 6 7-2 24-1 0zM520 314l-7 0 1-2 3-1 3 1 0 2z"/><path fill="#343434" d="M505 314l-414 0 2-16 5-13 2-2 5 2 3-2-2-2-6 0-2-4 2-10-5-8 5-5 0-2-2-2-6-1-3-2 3-12-6-16 2-11 0-6 3-7 3-4 8-4 2-3 0-10-6-10 4-13 3-2 6 4 4-1 4-8-4-7 1-3 7 0 7-5 10-2 6-18 3-3 10-2 1-3 1-8 7-4 4 3 12-3 2-3 1-7 6-6 4-8 5 1 4 7 6-6 9-3 5 2 5 6 5 1 18-15 2-9 8-1 6-4 10 1 8-4 9 3 7 0 3-2 1-6 6-2 4 1 3 10 2 2 5 0 7-5 11-3 10 5 4-2 9-11 4-2 3 2 2 8 3 2 15-3 22 12 10-1 10 1 4-2 2-8 7-3 7-5 4 1 7 7 3 2 8-1 13-4 8 2 14 0 8-5 7 1 3 2 3 8 3 3 17 3 19 12 4 6 0 5-3 3-7 1 0 3 2 2 7-1 3 3 2 5 1 9 1 2 7 3 10 0 4 4 2 7-1 15 4 13-2 4-9 3-1 5 2 6 8 6 2 4-2 3-3 0-2-2-3-8-3 1-1 3 3 6-1 5-6 8-9 3-9 29-5 4-9-1-3 1-6 8-5 13-11 9-7 12-8 7-1 8-6 1-10-5-7 2 9 20-1 16zM128 119l-1-1 2-1-1 2z"/><path fill="#393939" d="M503 314l-410 0 5-20 3-5 8 0 2-6-1-5-7-4 1-6-5-8 4-6-1-4-10-5 1-4 5-9-6-3-4-9 4-13 0-6 1-5 3-3 8-4 3-5-1-10-5-8 0-5 4-7 7 2 4-2 6-9 2-7 5-6 13-4 4-15 3-4 11-2 7-4 6-7 14-5 3-11 7-8 2 0 2 3-3 13 0 2 2 1 5-4 3-10 7-9 7-1 9 7 6 1 8-6 15-14 6-2 6-6 9 0 8-3 23 2 3-2 5 4 5 1 6-1 7-5 8-2 10 6 11-12 5-3 2 2 3 7 3 2 4 0 10-2 6 5 9 2 7 5 12-3 11 3 5-2 4-8 5-2 6-7 3 2 5 7 3 2 24-4 21-1 8-4 5 0 3 2 4 9 2 2 14 4 7 4 7 1 10 8 2 4-1 3-9 3-2 4 5 5 7 0 3 2 2 5-1 7 2 3 10 5 8 0 3 3 2 5-1 13 2 13-1 3-9 6-1 10-2 7 3 11-5 6-10 4-2 12-4 9-2 9-4 3-4-1-4-3-1-5-3 0-2 10-6 8-3 12-15 11-5 11-9 8-1 7-3 0-8-5-12 1-3 2 0 2 7 6-1 8 8 6-2 15zM315 43l-3-4 1-2 3 1-1 5zM286 63l2-1 0-2-6-1 1 3 3 1zM489 297l3-3-5-3-2 5 2 1 2 0zM112 303l2-5-2-3-3-2-2 3-1 5 2 2 4 0z"/><path fill="#3d3d3d" d="M502 314l-406 0 3-8 3-2 10 1 3-2 2-4-4-10 1-20-10-7 0-12-8-7 1-4 6-4 0-5-2-3-8-3-2-4 0-5 4-7 0-11 3-3 8-5 3-5 0-11-5-7 0-4 3-3 6-1 4-3 9-11 1-6 3-4 14-5 2-10 4-8 9-1 8-3 6-9 5-3 19-1 5-2 6-5 2-9 4-6 4-3 4 1 9 6 6 0 9-5 8-9 13-4 7-6 7 15 9-2 3-2 0-3-8-6-1-3 5-4 12 0 12 3 11 1 9-2 6-4 6-2 3 1 4 7 4 2 2-2 8-12 5-3 8 9 5 1 9-2-1 7 2 4 13-3 8 4 12-4 10 2 6 0 4-2 6-6 7-4 10 6 8-2 13 0 17-4 8-1 7-3 4-1 4 4 2 10 17 3 7 6 8 1 8 6 1 4-10 4-1 6 7 6 8 2 1 3 0 9 9 6 4 5 7-1 4 2 1 4 0 22-1 3-7 6-2 3-2 17 2 10-3 3-11 6-1 12-7 11 1 4-1 3-3 1-3-1 2-8-6-2-4 2-4 4 0 9-6 7-3 12-3 3-14 7-1 9-3 5-10 6-6-1-6 2-11 2-3 2-1 7 7 1 2 3-3 2-6-3-2 1-2 5 0 9-2 3 0 3 3 0 2-5 7-5 7 0 3 2 1 3-2 12zM194 86l-1 1-1-2 2-3 0 4z"/><path fill="#424242" d="M501 314l-403 0 3-6 13-2 5-4 1-3-5-10 3-15-1-5-2-4-8-5 0-9-6-9 6-5-1-7-3-4-8-4-1-3 3-11 0-10 2-2 8-5 4-6 1-13-3-8 9-7 9-11 4-10 5-3 15-1 0-2-4-3-1-3 4-10 3-1 7 0 8-4 7-10 3-2 4-1 11 2 8-3 9-7 3-10 5-5 13 4 6 1 10-6 8-9 7-2 11 0 3 3 2 6 6-1 10-4 2-2-1-4-7-7 1-3 3-1 8 0 5 2 2 3-2 3 1 1 2-3 2-1 27-2 4-5 4-1 6 8 6 2 3-2 3-8 6-6 9 8 9 2 6 9 13-1 6 2 14-5 10 2 8 0 15-9 3 0 8 4 9-4 14 1 15-5 9-1 9-3 3 4-1 8 1 3 19 1 3 1 6 6 8 2 4 3 0 3-5 2-2 2 0 8 6 7 7 4 1 9 10 7 0 6 1 3 5 1 6-3 3 1 1 4 0 15-1 5-8 9-1 11-3 11 0 4-6 3-6 7 1 11-3 6-4 3-11-1-5 4-3 5 0 8-6 6-2 11-9 6-10 3-1 3 1 9-3 5-6 2-8-1-6 5-12 1-4 3-4 12-3 20 2 3 3 0 8-10 7-1 3 4-1 11zM586 175l0-2-3 0 1 3 2-1z"/><path fill="#474747" d="M499 314l-399 0 2-4 14-3 5-3 2-4-7-11 5-14-3-9-7-8-3-12 2-9-5-12-7-5-2-2 3-9 1-10 15-14 2-15-2-6 15-18 2-9 7-3 13 1 3-2-1-4-6-5 2-6 3-2 7 0 9-6 9-11 17 1 12-8 6-2 2-9 4-4 19 3 10-7 7-9 6-1 10 1 4 8 4 0 11-4 8-1 4-4 5-2 5-5 4-2 23 0 5-2 14 5 4-3 3-8 4-3 17 9 2 4 2 7 9-2 4 5 3 2 6-5 13-7 10 2 8 0 8-3 7-5 4 2-1 4 1 4 4 3 3 0 4-2 1-7 4-4 6-1 9 1 15-6 9 0 9-3 2 3-2 9 2 3 3 2 10-3 7 1 11 12 1 14 8 11-3 7 1 4 1 1 6-2 9 8-2 6-6 4 0 4 3 2 5-6 5 0 3 2 3 6 5 3 1 4-2 5-6 8-2 16-2 3-7 0-2 2 0 9-4 7 3 9-2 6-4 3-11 0-7 4-2 5-1 8-8 4 1 9-2 4-9 4-7 2-3 3-1 3 2 9-2 4-5 2-8-2-7 7-13 1-2 1-6 14-2 21 3 5 3 0 9-10 5-2 3 4-2 10zM300 57l-2 1-5-4-2-2 1-2 5-1 4 1 1 3-2 4zM381 70l3-3 0-2-4-1-4 2 1 4 4 0z"/><path fill="#4b4b4b" d="M480 314l-378 0 3-4 18-3 4-8-7-6-2-4 0-4 6-8-8-17 0-7-4-6 2-7-1-3-6-13-8-7 3-14 2-5 14-12 0-10 3-13 6-11 5-6 2-8 6-3 13 2 4-2 0-7-1-2-5-2 0-4 3-1 6 1 19-17 16-1 12-8 8-1 2-2 1-9 3-3 5 0 11 4 2 0 18-18 5-1 6 2 5 7 5 1 13-4 10 0 11-12 5-2 29 0 13 2 4-3 3-7 3-2 14 7 3 4-1 3-9 3-2 2 0 6 2 3 2 0 9-6 9-3 3 1 5 5 3 1 7-8 12-6 12 2 18-3 8 7 6 2 9-5-1-6 3-3 13 0 15-6 15-2 0 10 5 7 15-4 4 0 3 3 7 11 1 13 4 7-1 11 2 6 4 4 6-1-4 7 2 7 5 6 7-6 2 0 9 10 0 4-5 10-2 15-3 2-6 0-4 2-1 12-3 2-6-1-3 4-1 5 10 0 3 2 1 4-1 4-4 2-11 0-7 5-5 12-8 3-1 11-6 3-7 2-5 8-1 4 2 8-2 4-3 1-8-3-8 8-14 0-2 1-2 9-5 9 1 7-2 10 4 10zM359 76l0-2-2-1 0 3 2 0zM547 89l3-3-1-3-4-2-4 1-1 3 1 3 3 1 3 0zM578 138l-1-2-1 2 2 0zM498 314l-12 0 7-9 3-2 3 2-1 9z"/><path fill="#505050" d="M478 314l-374 0 3-3 9-1 4 0 4 3 8-14-3-3-8-4-2-3 1-3 6-6 0-3-7-16 2-8-5-7 0-9-5-8-3-7-6-6 1-8 7-12 10-9 1-12 4-7 4-15 6-6 1-8 6-2 11 2 7-1 1-2 0-9 3-9 3-3 10-6 5 3 2 0 5-6 8-3 9-7 11-1 2-3 1-8 3-3 5 0 6 3 3 5 1 7 4 0 1-2-2-7 1-5 16-16 8 1 5 7 4 2 16-5 10 3 15-16 15-1 8 2 9-1 10 2 5-2 4-8 3-1 5 2 6 6-8 5-1 3 0 8 3 4 3 1 10-8 8-2 3 2 6 6 3 1 7-2 1-8 9-6 12 3 17-3 16 10 5-4 9-5 1-2-1-5 1-1 12 2 5-5 6-4 11 0 2 1 5 19 1 2 5-1 3-6 6-3 5-1 4 3 6 12 0 9-2 1-7-4-5-1-4 3-1 5 3 4 4 2 11 0 4 2 2 14 12 23 0 10 4 2 4-2 2-3-1-5 2-2 7 4 1 4-4 12-1 11-2 2-9 1-4 2-1 10-8 0-4 9-5 5 1 3 4 2 12-4 2 3-1 4-3 1-9-1-3 1-6 5-6 11-8 3-4 12-10 3-6 15 0 10-10-1-9 9-13-1-4 2 0 9-6 9 1 8-1 8 3 12zM517 70l1-3-2-4-7-1 0 3 2 4 3 2 3-1zM361 81l2-3 0-4-4-4-4-1-2 2 1 4 3 5 4 1zM232 104l3-3-1-3-4 1-3 2 1 3 4 0zM496 314l-7 0 5-6 2 2 0 4z"/><path fill="#545454" d="M516 58l-10-1-2-3 0-2 7-4 6 1 2 5-3 4zM368 75l-11-11 7-5 4-7 3-1 3 2 2 4-6 6-2 12zM477 314l-349 0 2-7 6-8-4-4-10-6 0-2 5-4 2-3-1-5-7-13 4-11-5-5-1-10-6-8-3-7-5-5 0-6 2-4 3-1 3 0 5 5 3-1-4-13 5-8 1-12 8-23 7-3 10 3 4-3 0-4-1-3-10 3-2-3 0-3 6-1 7 4 11-3 2-3-1-9 4-12 7-2 7 3 9-9 7-3 8-7 12-1 2-2 3-10 2-2 7 2 3 6-2 3-9 5 0 4 4 3 8-1 10-8-2-11 0-4 8-6 6-8 6 1 5 6 6 3 16-6 11 5 2-1 5-8 8-8 9 2 24-1 5 3-4 4 0 6 5 8 4 2 4-2 4-5 9 6 9-9 9-3 4 2 7 8 3 0 9-4 2-10 5-3 6 1 5 7 10-7 5-1 5 0 7 4 5 8 4 1 3-1 2-7 9-5 4-5 13 3 8 10 6 3 16-3 2-2 4-8 7-2 3 3 5 10 1 4-2 2-9-3-6 1-2 5 0 6 12 10 4 7 4 1 5 7 3 9 7 9-2 9 1 3 6 3 10-2-1 16-2 2-13 3-8 6-5 13-8 5 1 3 3 6-1 2-8 11-8 0-3 2-2 14-10 5-8 22-9 4-6 7-13-1-6 3 0 10-7 6 0 2 1 7-1 8 5 14zM569 197l-2 0 0-1 3 0-1 1zM119 314l-13 0 3-2 7 0 3 1 0 1z"/><path fill="#595959" d="M514 55l-4 0-1-3 2-1 4 0 1 2-2 2zM371 57l-2 0 2-2 1 1-1 1zM366 68l-2 0-2-3 3-3 2 2-1 4zM476 314l-346 0 2-6 7-10-12-10 3-5 1-4-8-17 6-11-6-7-3-10-12-19 0-3 2-2 8 4 6-3 0-4-4-11 3-8 2-10 7-22 2-2 3-1 9 3 3 0 8-11 10-5 0-3-2-8 4-10 3-1 6 3 4 0 10-10 17-12 10 1 4 5 4 2 8 1 6-2 7-8-2-15 13-10 17 9 8-6 8-2 6 4 5 7 4 1 5-3-4-7 3-5 7 1 5-5 7-2 15 0 2 1-1 3-5 2 0 3 1 1 6 0 9 11 4 1 8-4 11 6 1-1 1-6 2-4 11-3 4 1 7 8 5 0 9-5 2-10 4-3 4 2 3 9 3 3 3 1 5-12 5-2 6 0 6 2 6 10 12 4 2-2-3-7 1-4 12-7 9 0 3 2 5 7 6 6 15-2 4 1 1 10 2 4 9 8 6 11 8 5 1 3-1 8 7 1 3 4-1 4-6 3-2 10 2 4 3 1 16-5 2 1 0 2-1 6-2 2-17 5-4 3-3 15-3 2-6 1-2 2 0 4 3 7-1 5-3 3-8 2-5 4-2 12-9 6-3 11-7 11-8 5-5 5-13 0-7 5-1 10-6 3-2 3 3 8-2 7 7 13 0 3zM550 75l-10-3-1-4 2-4 3-2 3 1 4 10-1 2zM445 91l1-3 0-3-6-4-1 3 0 4 3 3 3 0zM226 95l-3-1 0-3 2-4 3-1 3 1 1 4-6 4zM549 141l8-9-1-3-4 0-5 3-1 5 3 4z"/><path fill="#5d5d5d" d="M475 314l-343 0 2-6 9-11-1-2-7-3-3-4 2-7-2-9 5-3 1-3-2-1-6 2-3-3-1-3 5-7 0-4-7-8-8-22 8-5 3-5 0-4-4-6-1-4 11-37 2-2 3-2 8 4 4-1 9-12 8-3 3-3-3-10 3-6 2-1 7 2 3-1 9-10 16-13 9 0 7 6 5 2 10 1 6-2 5-9-1-15 8-4 13 2 9 6 5-9 8-3 4 3 5 10 5 0 10-2 2-10 10-7 5-2 3 2 5 8 10 1 7 9 3 1 9-3 17 7 3-2-4-7 1-3 11-3 7 8 7 2 12-9 1-7 2-2 3 3-1 7 1 3 10 9 5 3 3-2 2-7 0-5-4-6 2-5 12 0 7 12 14 4 3-3-2-9 1-3 10-5 8 0 12 15 16-2 2 1 4 12 9 8 7 14 6 4-3 5-9 9 1 12 1 1 3 0 6-5 2 0 3 13 3 3 6 1-12 8-1 12-2 4-4 1-7-3-2 14 3 8-2 2-6 2-7 6-2 11-9 6-2 11-6 10-5 3-13 4-3 3-11 4-4 5-2 7-7 6-1 3 4 5 0 3-3 2-7 2-3 4 4 2 10 1 5 7 1 4zM545 70l-2-1 1-3 2 2-1 2zM529 104l0-5-2-1-3 1 0 2 1 3 2 1 2-1z"/><path fill="#626262" d="M474 314l-339 0 2-7 10-9 1-2-4-5-6-1-3-2 2-6 0-7 5-7 0-7-2-3-6 3-2-1 4-10-9-9-4-13 1-4 8-1 2-2-5-5 1-10-5-7-1-3 10-34 4-4 9 3 4-1 9-12 10-4 3-3 0-3-4-7 2-4 2-1 8 5 2-1 8-13 16-14 8-1 7 7 14 4 10-2 5-12-1-12 3-3 3 1 6 6 3 0 4-5 9 5 3-2 4-8 5-2 3 2 4 8 3 3 11 0 5 1 3-4 1-11 6-4 5-2 9 8 9 1 6 8 3 2 11-3 15 8 3 1 7-6-2-7 4-3 2 2 2 6 3 2 10 0 6-6 5-1 12 9 9 5 3-2 7-19 3-3 8 12 11 3 4 0 3-2 2-13 7-4 11 14 5 3 3 0 7-4 9 0 2 4 1 7-10 3-1 2 1 4 4 4 3 1 3-3 2-8 5 1 5 6 5 17-1 4-6 7 1 10-3 11 1 1 3 0 5-6 6-2 4 8 1 4-4 7-1 9-2 4-11-4-4 2 0 3 2 5 0 4-6 5 2 9-7 9-3 10-4 3-9 0-2 2 4 3 1 3 0 6-3 5-10 7-14 1-4 6-12 9-5 8-8 6-1 4 3 6-9 8-1 4 3 2 15 1 5 6 0 3zM469 101l2-5-2-3-3 2-2 4 1 2 4 0zM267 108l2-1 1-2-4-3-2 4 3 2z"/><path fill="#666666" d="M333 98l-8-1-3-3 0-14 6-4 5 1 5 7-3 11-2 3zM473 314l-336 0 0-4 3-4 11-5 2-3-3-8 1-8-8-7 4-14-5-14-2-3-7-1-3-2-4-9 0-3 2-2 8-1 2-3 0-3-5-7 1-9-6-4-2-4 4-13 5-11 0-8 4-3 9 4 4 0 10-16 5-2 11 0 3-1 9-16 3-11 6-5 5-7 5-3 6 0 6 6 8 3 2 5 4 0 15-5 5-21 8 5-3 8 1 4 2 2 16 2 13-2 3-3-2-3-13-3-6 0-5-5 2-5 8 4 6-11 3-2 4 1 7 9 11 2 5 6 6 3 7 5 4 1 9-3 3-3-1-11-2-7 4-3 4 1 4 7 4 3 3 0 9-5 9 5 2 4-7 5 0 2 3 3 5 1 6-2 2-7 7-5 4 1 3 8 6-1 8-7 3-8 3-1 4 1 7 7 13 8 3-3 3-10 6-7 5 8-4 8 0 4 1 2 4 1 8-3 4-8 9-6 2-10 4-2 4 4 1 6 12 5 16 20 3 0 3-2 4-9 2-1 3 2 2 5 2 14-1 3-7 5 3 11-4 10 0 8 3 5 14-14 3 2 2 5-4 7-1 8-2 2-6-1-7-5-4 5-4 21 3 9-6 9-2 9-4 2-10-2-7 5-4 6-7 2 0 2 6 8-1 3-13 3-6 9-8 6-5 6-7 1-3 2 1 18-11 7 1 6 4 5 11-3 7 0 5 5 0 3zM527 92l-7 0-2-3 2-2 5 0 2 2 0 3zM358 109l4-1 3-4-2-4-4-3-4 2-2 4 2 5 3 1zM213 127l5-4 0-4-4 1-4 4 0 3 3 0zM508 242l-2-2 0-3 3-4 3 0 1 2-1 4-4 3z"/><path fill="#6b6b6b" d="M330 95l-4 0-2-4 1-10 4-3 3 1 2 4-2 10-2 2zM306 104l-5 1-17-6-1-4 3-8 4-1 8 9 9 4 1 3-2 2zM456 98l-2-2 0-4 5-3 2 3-5 6zM371 100l-4-1-3-3 2-4 4-1 6 4 0 3-5 2zM427 94l-3 0 0-2 2 0 1 2zM442 314l-288 0-1-3-2-1-3 1-1 3-8 0 1-4 3-2 14-2 2-7-1-16-4-13-1-13-4-16-4-9 2-6-1-4-2-6-5-2-1-3 1-2 5-1 1-2 3-17 5-12 6-5 1-8 3-5 1-6 4 0 5 7 4-2 12-12 0-8 10-11-3-5 0-2 9-12 5-3 5 1 3 6-17 15 3 4 3 2 9-2 8-6 9 0 11-3 8-1 10-3 11 0 36-5 2-1 1-4 3-1 4 1 2 4 3 1 11 0 11-1 15 1 8-2 6 2 14 1 12-2 16-8 2 1 3 7 10 1 7-2 19 0 17-3 7-4 0-5 2-2 2 0-1 5 2 1 7-2 7-5 3 0 4 3 12 16 11 26-4 29 0 11-9 16 8 2 2 4-5 7-2 9-4-1-8-7-24 20-5 7 1 2 8 1 1 2-22 5-6 5-2 5 6 2 0 3-3 3-7-1-4 2-2 4 2 10-1 8-9 0-4 6 0 5 4 14zM438 107l-2 0 0-3 2 1 0 2zM537 120l-4-1-1-3 5-12 2 3 1 8 0 3-3 2zM547 170l-4-2 0-4 6-9 3-2 2 3-4 6-1 7-2 1zM145 172l-4 0-1-5 5 1 0 4zM131 236l-2-3 1-3 3 2-2 4zM472 314l-8 0 0-4 2-2 3 1 3 3 0 2z"/><path fill="#707070" d="M293 99l-6-2-1-4 2-4 2 1 7 7-4 2zM372 96l-3 1-2-2 3-1 2 1 0 1zM206 120l-3 1-3-2 7-10 3-2 3 0 2 3 0 3-9 7zM436 314l-272 0 7-15-10-39-7-37 0-14 4-13 5-10 10-14 16-17 10-7 13-8 20-8 45-12 33-4 34-1 123 9 19 4 9 3 6 7 5 10 1 13-3 18-4 11-9 15-34 42-14 20-10 19-4 13 7 13 1 2-1 0zM471 314l-4 0 0-2 2-1 2 3z"/><path fill="#747474" d="M206 117l-2 0 2-4 2-2 3-1 0 4-5 3zM434 314l-259 0 6-9 1-8-13-40-4-21-1-17 5-20 6-12 10-14 19-17 13-8 23-11 44-12 30-3 38 1 57 7 35 8 18 5 11 6 7 7 4 9-1 9-9 30-20 33-29 57-1 7 4 5 6 6 1 2-1 0z"/><path fill="#797979" d="M433 314l-246 0 6-17-10-30-4-19-1-23 4-20 7-14 8-10 10-10 12-8 29-13 38-9 37-4 26 1 25 2 34 7 30 11 19 11 1 19-4 22-9 33-11 32-9 16-2 7 1 5 9 11z"/><path fill="#7d7d7d" d="M432 314l-236 0 7-11 1-4-10-34-3-14 0-21 4-19 9-17 16-14 23-13 25-7 34-6 47-1 24 3 18 3 16 6 16 8 10 8 7 16 1 26-3 30-6 22-8 16-2 7 1 6 9 10z"/><path fill="#828282" d="M428 314l-225 0 6-9 2-6-10-32-2-18 0-16 5-17 9-17 7-7 11-8 22-9 28-8 24-3 43-1 22 2 18 5 14 5 14 8 6 6 6 10 3 10 3 18-2 25-3 23-7 15-3 8 1 5 9 11-1 0z"/><path fill="#868686" d="M420 314l-212 0 6-10 1-5-8-33-2-16 1-16 5-15 10-17 15-11 20-9 26-7 24-4 33-1 32 3 26 8 13 8 5 5 5 8 4 11 2 17-2 27-2 16-6 16-2 9 1 5 6 10-1 1z"/><path fill="#8b8b8b" d="M414 314l-201 0 7-14-8-35-1-12 2-17 5-14 10-15 13-10 17-7 25-8 23-3 31-2 33 3 22 8 15 10 5 7 4 10 2 16-1 27-9 41 1 5 6 9-1 1z"/><path fill="#8f8f8f" d="M409 314l-192 0 7-14-8-38 2-19 4-15 11-17 11-8 16-7 25-8 31-5 37 0 15 3 20 7 9 6 8 8 3 7 2 9 2 10-2 23-7 43 6 15z"/><path fill="#949494" d="M402 314l-181 0 6-15-6-39 1-15 6-16 9-14 10-8 15-7 24-7 31-5 34 0 16 3 14 5 11 7 7 7 4 7 2 8 1 9-1 20-8 44 5 16z"/><path fill="#999999" d="M396 314l-171 0 6-14-5-40 1-14 6-16 10-13 14-9 22-9 16-3 15-3 40 0 15 2 13 5 11 8 6 6 3 6 2 9 0 24-9 45 1 5 4 9 0 2z"/><path fill="#9d9d9d" d="M391 314l-163 0 6-13-4-40 2-13 6-16 8-10 16-11 20-8 15-3 14-3 38 0 14 3 12 5 10 7 5 6 5 13 0 19-2 17-7 30 0 7 5 10z"/><path fill="#a2a2a2" d="M382 314l-145 0 5-15-4-37 1-12 6-14 6-8 14-10 17-8 17-4 19-3 29 0 13 2 11 5 13 12 5 13-1 21-9 40 0 8 4 9-1 1z"/><path fill="#a6a6a6" d="M374 314l-128 0 4-15-4-24 0-12 2-11 5-11 9-11 8-6 14-6 19-6 18-2 26 0 11 2 10 4 11 12 4 14-1 14-11 41 3 17z"/><path fill="#ababab" d="M367 314l-113 0 4-15-4-19-1-16 2-10 5-9 5-7 9-8 12-5 19-6 18-4 23 0 9 2 9 4 9 10 5 14-4 16-10 34 0 9 3 10z"/><path fill="#afafaf" d="M362 314l-104 0 3-16-3-19-1-14 3-11 6-11 10-9 10-5 26-8 12-2 22 0 8 2 9 4 7 9 4 12-3 15-11 33-1 10 3 10z"/><path fill="#b4b4b4" d="M357 314l-96 0 3-15-3-20 0-11 4-13 5-10 9-8 9-5 32-8 26-1 8 2 7 3 5 8 3 11-2 14-12 35 2 18z"/><path fill="#b8b8b8" d="M353 314l-89 0 3-15-3-20 1-10 4-13 6-10 7-6 8-5 31-8 25 0 12 4 6 10 1 13-15 42 0 6 3 12z"/><path fill="#bdbdbd" d="M348 314l-82 0 4-15-3-22 3-13 9-16 6-5 11-6 27-7 22 0 11 4 5 9 1 11-4 13-12 29 0 7 3 11-1 0z"/><path fill="#c2c2c2" d="M344 314l-75 0 3-14-2-23 4-12 9-14 6-5 10-5 25-8 19 0 11 5 4 9 0 10-3 11-12 28 1 18z"/><path fill="#c6c6c6" d="M340 314l-69 0 2-11 0-21 2-8 6-12 12-12 17-9 16-4 9-1 7 1 7 3 4 4 2 7-1 14-16 33 2 16z"/><path fill="#cbcbcb" d="M337 314l-65 0 2-11 1-21 3-8 6-11 10-9 9-6 18-8 13-2 7 2 7 3 3 4 1 5 0 8-3 11-14 26 2 17z"/><path fill="#cfcfcf" d="M333 314l-61 0 3-11 1-20 8-15 11-11 9-6 9-5 15-5 8 0 7 3 5 4 1 6 0 9-3 8-15 26 2 17z"/><path fill="#d4d4d4" d="M329 314l-56 0 3-29 9-15 11-10 14-9 12-6 8-2 7 2 6 3 2 3 1 6-3 14-15 26 1 17z"/><path fill="#d8d8d8" d="M325 314l-51 0 2-10 0-15 4-8 4-6 8-8 19-14 11-5 8-2 6 1 4 3 2 4 0 6-2 11-16 25 1 18z"/><path fill="#dddddd" d="M321 314l-47 0 2-22 5-11 10-10 26-18 7-4 6-1 5 2 3 3 1 10-4 12-15 20 0 7 2 12-1 0z"/><path fill="#e1e1e1" d="M318 314l-43 0 2-22 5-10 9-8 28-20 11-3 5 3 1 10-4 11-15 19 0 8 1 12z"/><path fill="#e6e6e6" d="M316 314l-40 0 2-22 6-9 8-7 27-20 7-3 4 0 3 2 1 5-1 7-5 11-13 16-1 9 2 11z"/><path fill="#ebebeb" d="M313 314l-36 0 2-21 7-10 7-5 15-11 11-9 9-3 2 1 2 4 0 7-6 10-13 17-1 8 1 12z"/><path fill="#efefef" d="M310 314l-31 0 2-20 8-10 20-15 8-8 5-3 5 0 3 3 0 6-5 9-14 18-1 9 1 11-1 0z"/><path fill="#f4f4f4" d="M308 314l-27 0 2-20 8-9 20-15 8-8 7-2 2 4-2 8-17 22-1 20z"/><path fill="#f8f8f8" d="M305 314l-21 0 2-19 7-8 19-14 8-9 4-1 1 2-2 7-17 21-1 5 0 16z"/><path fill="#fdfdfd" d="M300 314l-11 0 2-17 4-5 5-3 0 25z"/></g></g><g transform="translate(72.40,1030.70)" clip-path="url(#pc)"><g filter="url(#fD)"><rect x="-15" y="-15" width="630" height="330" fill="#000"/><path fill="#070707" d="M538 314l-411 1-85-1-1-9 5-5 2-9 2-4 11-7 3-14-1-5-12-5-2-3 1-4 3-4 2-7 10-2 6-9 9-2 3-2-2-3-8-3-1-4-1-12 3-2 8-1 3-3 1-3-7-13-4-12 1-3 6-6 1-5-2-3-8-3-2-2 1-17 3-3 9-4 4-4 5-18 5-7 0-7 1-4 17-7 5-9 6-5 3-9 5-5 7-3 9 3 15 0 14-13 1-3-1-5 2-3 5-1 2 2 1 5 4 0 2-2 1-8 6-8 6-3 13 2 2-2 0-6 2-2 2 1 2 6 3 2 9-4 4-7 12-1 3 2 4 7 5 2 29-15 16 0 7-7 22 0 3 0 4 3 6 0 3 1 10 10 0 9 2 4 9 2 4 4 13-2 9 2 5 0 15-7 9-2 8-5 7 6 6 3 4-1 5-3 3 0 1 2 1 12 2 4 3 2 4-1 7-8 7 0 4 8 0 10 1 2 4-1 5-8 12-7 4 0 9 6 7 3 11-4 7 1 21 18-5 7 1 4 8 12 10 4 6 7 3 11 7 11-9 9-2 10-4 7-2 10-6 6-5 9-6 4-10 1-11 18-4 27-4 10-1 8 1 3 8-1 2 3-12 7 0 5 3 8-5 6-2 8-4 2-7 0-1 2 6 13-4 14 7 5 3 5-2 11zM287 16l2-2 0-3-2-2-3-1-1 6 4 2zM597 59l-2 0-4-3-4-5 0-2 4 0 4 2 3 4-1 4z"/><path fill="#0b0b0b" d="M536 314l-239 1-252-1 0-6 4-6 2-11 5-6 6-2 2-2 0-6 2-13-1-2-8-4-3-3 3-12 10-5 6-7 11-3 2-3-2-3-9-5-3-7 0-4 2-3 10 0 5-7-7-14-3-13 6-8 0-9-3-4-7-1-2-2-1-6 1-7 3-4 9-4 4-5 6-17 6-7-2-7 1-3 17-7 23-29 3 0 8 2 15-2 17-14 10-1 5-3 1-10 7-9 5-1 18 5 20-13 6-1 4 0 4 6 3 2 12 0 4 8 3 2 3 0 2-2 1-4-3-9 1-2 15-6 11-1 9-9 20 0 7 7 9 0 9 8 0 9 2 5 11 8 6 0 10-4 11 2 9-2 10-6 9 0 7-4 10 6 4 5 8 1 6 8 4 3 5-2 6-7 6 0 4 7-2 11 3 3 7-2 4-9 11-7 4 1 17 9 10-3 6 0 17 15 1 2-2 6 1 4 8 13 7 4 8 8 4 9 6 10-9 9-1 8-5 8-1 10-7 6-5 11-5 3-11-1-3 10-8 10-3 13 0 15-9 21 0 10 4 12-6 13-3 2-7-1-3 3 1 4 6 8 0 4-4 6-1 5 2 4 8 6-1 12zM191 51l1-3-4 0 1 3 2 0z"/><path fill="#101010" d="M533 314l-238 1-248-1 1-5 5-6-2-6 2-4 5-5 6-2 2-4-1-7 3-17-10-4-1-4 2-6 2-2 7-5 6-6 12-4 2-3-1-4-11-8-1-7 2-2 7 2 6-5 6 0 2-3-11-12-3-8-1-8 5-6 1-14-5-9-7 0-2-1 0-8 2-3 11-7 4-6 5-15 8-5-4-8 1-4 16-6 15-19 8-6 24-3 17-12 18-6 2-3 0-7 6-10 3 0 17 7 4-2 7-7 10-2 5-3 3-1 7 6 12 3 6 6 6 1 4-4 1-9 2-3 9-5 12-2 9-11 16 0 3 8-6 3-1 3 2 2 4-2 2-5 7 2 7-1 6 3 3 4 0 7 3 11 8 5 12-2 8-4 10 2 11-1 10-6 3 1 5 7 5 0 7-2 7 3 7 0 9 8 4 1 4-1 6-7 3-1 3 2 2 5-2 12 5 2 9-1 4-10 9-6 5 1 17 10 8-4 6 0 3 2 5 7 8 5-1 7 2 5 8 13 15 13 3 8 5 8-1 3-9 6 0 8-4 7-1 10-7 6-4 11-5 3-9-2-4 1-2 12-8 7-2 8-5 5 3 7 1 8-10 24 0 10 4 12-5 12-9 0-3 5 1 5 5 8-1 3-5 7 2 8 9 8-2 10zM218 24l0-3-3-3-4-1-3 2 1 3 2 2 7 0zM385 39l1-2-2-2-3-1-2 1 1 4 5 0zM191 54l4-3 0-4-4-3-4 0-2 2 0 4 2 3 4 1zM96 169l0-3-2 0 0 2 2 1z"/><path fill="#141414" d="M530 314l-233 1-248-1 3-5 12-7 2-3 1-3-3-5 4-8 0-7 2-12 6-9-1-2-3-2-7 4-4-1-2-2 1-4 2-4 14-12 10-3 3-2 2-4-1-3-9-7 0-3 9-5 7-1 4-7-1-3-12-12-2-9 2-3 8 3 2 0 2-4-1-4-7-6-1-3 2-2 7 2 2-1 1-3-3-2-7 0-4-5-1-8-3-2-6-1-1-3 11-8 11-22 7 0 3-2 0-4-6-7 0-4 14-5 15-18 4-4 8-4 20-1 10-9 5-2 2 1 2 8 2 5 3 1 4-1 4-3 1-4-1-4-5-5 1-2 10-5 5-5 12-1 4-4 8-3 6-7 3-2 3 0 4 3 6-5 3-1 24 13 8 0 5-4 4-12 5-2 7-1 7-4 10-12 11 0 2 5-5 9 3 4 4 0 6-5 10-1 7 3 1 3 1 18 12 8-3 8 2 3 4 2 4-1 3-4-1-3-7-5 3-2 8-1 8-5 16 2 7 3 4-7 2-1 4 4 4 2 13-1 15 3 12 8 4-1 7-7 3 0 2 4 0 5-2 4-6 4 0 2 3 2 21-3 3-3-1-4 1-3 8-6 5 2 18 12 7-6 5-1 3 3 4 8 6 3 3 11 10 15 14 12 1 8 5 5 1 2-3 3-4 1-2-2-1-7-2-1-2 2-2 24 2 11-2 3-7 3-2 9-2 5-4 1-7-4-4 0-7 9-7 2-5 6 4 11-6 8-1 3 6 6 1 8-3 4-8-5-2 2 0 5 6 7-3 9 0 11 2 10-1 1-5-1-1 4 4 4 0 2-7 2-4 4 0 7 5 9-2 3-6 5 5 11 6 7-1 10zM523 44l2-3-2-3-4 0-3 3 2 3 5 0z"/><path fill="#191919" d="M520 314l-223 1-244-1 16-15 1-3-1-6 2-18 0-7 7-10-1-3-3-3-5 0-6 3-1-3 15-15 10-3 3-3 2-4 1-5-6-5-1-3 5-2 5 4 3-1 0-6 5-9-6-10 4-8-2-18 5-6 0-3-2-3-8-1-3-3-1-9-2-6 3-8 4-4 2 0 2 2 2 0 1-3-4-3 1-4 3-4 7-3 3-4 0-6-6-7 13-6 13-17 4-4 9-4 18 0 12-11 4 1 6 12 4 1 5-2 3-3 2-4 1-5-2-6 11-9 14-2 10-7 6-7 3 1 1 6 2 2 3-1 4-9 4-2 10 4 8 6 8 1 7 0 5-4 5-11 11-1 9-8 9-12 6 0 1 3 1 3-4 8 4 5 4 1 10-5 8-1 4 2 2 12-1 9 3 3 7 4 1 10 7 5 3 0 5-4 3-7 11-2 3-4 5-1 3 0 6 5 11-5 18 0 14 1 11 9 4 1 3-1 5-6 3-1 2 3-2 4-7 3-1 3 2 5 6 3 12-3 22-2 4-3 0-6 6 1 10 8 4-1 3-6 4 0 5 16 6 2 14 21 11 10 2 3-1 2-5 2-2 3-3 29 2 6-3 1-4-4-4 1 0 19-2 1-6-4-7 0-7 9-7 4-7 6 5 13-11 16-2 13 6 11-2 13-6 14 0 9-6 10 0 5 3 9-6 8 10 21-2 4-6 3zM404 26l-3 0-1-1 2-1 2 2zM524 34l-5-1 3-2 3 2-1 1zM542 203l-5-3-1-3 1-2 3 0 2 2 1 3-1 3z"/><path fill="#1e1e1e" d="M516 314l-458 0 2-4 9-7 3-4-1-12 3-15-1-7 7-11-1-4-8-4-1-3 9-7 9-3 4-5 4-9 8-5-2-8 4-11-5-8 5-7-3-7 0-10 4-10-3-5-10-4 0-11 2-6 9-6-1-9 1-3 7-6 3-4 1-5-2-7 10-8 9-14 5-5 9-3 5 1 3 3 8-2 3-2 6-9 5-2 3 2 5 10 3 1 4 0 9-6 4-15 5-7 4-1 14 1 4-6 7-6 4 6 5 0 4-3 4-9 6 1 7 6 6 2 16-1 5-3 5-9 9-1 4-2 8-7 4-8 5-4 3 3-3 10 5 6 5 0 10-4 7-1 3 1 2 10-3 7 1 3 4 5 6 3 3 10 8 6 3 0 14-9 8-3 5-4 8 4 12-6 16 0 7 2 8-1 3 1 12 11 6 9 7 4 3 0 7-5 23-2 3-2 5-5 10 7 10 3 7 8 8 3 7 8 13 20-3 5-3 13 0 12-3 5-8 4 0 9-2 4-4 2-8 1-6 9-11 6-4 0-6-4-4 2 1 2 6 5 6 10 1 4-9 12-2 4 0 14 4 9 0 4-1 10-6 6 0 16-5 12 1 12-5 9 9 19-9 9z"/><path fill="#222222" d="M330-6l-2 0 2-2 0 2zM514 314l-452 0 2-4 8-6 2-4-1-13 4-14-1-8 7-13-2-7 3 0 3-2 3-8 7-14 3-2 7-1 2-2-4-7-1-4 8-12 1-3-1-2-5 2-2-3 2-3 5 2 2-5 1-6-1-1-6 2-3-3 0-10 4-7 0-3-3-5-10-5 0-5 1-7 10-9-1-12 11-11 1-12 8-5 8 3 7-3 0-3-10 0-2-3 4-10 6-5 8-1 3 6 4 0 13-7 5-9 4-3 3 2 5 11 3 1 4 0 12-7 4-16 5-6 7 0 9 2 10-7 12 0 5-4 4-7 7 5 10 3 14-1 6-3 7-8 10-2 14-8 8 8 15-6 8 1 1 5-2 8 1 4 11 10 4 9 10 8 13-6 7-5 9-2 9 1 8-6 7-1 12 1 5 7 6-6 6-1 22 24 6 3 3-1 3-5 3-2 18-1 6-1 6-4 3 0 17 10 21 17 9 16 0 11-3 9 0 11-3 4-8 5-2 11-3 2-8 1-6 10-6 4-6 1-9-3-5 4 0 3 6 5 6 7 2 6-9 11-1 4-1 15 5 11-2 8-4 3-11-2-2 3 1 3 6 3 2 2 2 12-4 12-1 13-3 10 6 12 1 6-7 5-1 5zM460 47l0-2-3 1 0 1 3 0zM530 61l-1-2-2 1 3 1z"/><path fill="#272727" d="M512 314l-432 0-4-7-2-19 5-15 0-8 8-13 5-17 6-12 3-2 10 0 2-3-1-4-6-6 0-3 3-5 7-7 2-21-6-19-4-5-9-6-1-3 2-7 9-10-1-11 13-12 1-11 4-1 7 3 11-8 0-3-1-3-8 0-3-2 2-6 4-5 6 0 4 5 6 0 14-7 4-9 4-3 3 3 2 11 9 0 17-8 1-15 2-4 3-2 5-1 10 4 10-7 13 0 10-6 16 2 13-2 5-2 9-7 15-4 16 3 13-7 6 0 1 3-2 8 2 5 12 11 4 6 11 12 8-5 7-1 7-6 17-1 9-6 5-2 7 1 4 2 9 16 6 0 7-7 4 0 5 3 9 11 8 3 5-1 1-5 3-3 14 1 15-6 3 1 10 7 7 3 8 8 11 7 8 16 1 8-4 9 2 9-1 4-10 8-4 10-10 1-4 11-5 5-6 1-11-3-4 3-2 4 0 3 12 12 2 5-8 10-2 4-1 16 5 10-1 6-4 3-11-1-3 4 0 6 8 4 3 9-8 36 6 17-1 2-6 1 0 9zM465 40l-5-1 0-3 1-2 3 0 2 1 0 3-1 2zM529 64l5-2-1-3-4-3-4 1-2 2 1 2 2 2 3 1zM376 65l1-4-3 0-1 2 3 2zM110 172l-2 0-2-2 1-4 2-1 3 3-2 4zM73 314l-6 0 4-3 2 3z"/><path fill="#2b2b2b" d="M511 314l-426 0-6-9-3-15 1-8 3-8 1-9 8-10 5-12 2-2 6 0 3-4 0-4-8 0 2-8 4-1 9 1 5-6-1-3-8-11 2-3 6-5 2-3-1-10 2-11-2-15-5-8-11-8-1-4 2-6 9-8-2-13 4-4 21-13 11-11 1-5-1-4-8 0-2-2 0-4 3-3 5 0 3 5 2 1 6-1 19-8 5 6 12-2 9-5 11-4-1-14 2-5 2-2 4-1 6 4 4 1 12-8 15 0 9-6 6 0 9 2 16-4 10-5 5 4 2 0 2-2 2-5 4-2 15 2 9-1 3 1 32 33 1 4-2 3-10 4 1 3 8 7 2-2 3-8 3-3 5-1 7 2 4-1 1-2-2-6 5-7 17-1 9-6 4-2 6 1 4 1 5 7 2 7 3 2 7 1 8-6 4 0 4 2 8 10 12 5 6 6 3-2 3-5-6-5 1-4 4 0 9 3 7 8 6 2 6-2 3-3-1-2-9-7 3-3 4 1 7 8 9 2 7 7 8 4 4 4 6 18 0 4-4 6 3 12-2 4-9 6-4 5-12 1 0 13-4 6-7 3-11-3-5 3-4 6 0 3 8 6 7 9-1 3-7 7-1 4-2 18 5 8 0 5-4 3-9-2-4 2-4 12 1 3 9 2 3 6-5 21-3 8 1 17-3 5-1 4 3 11zM175 60l-2-1 0-4 3-4 2 5-3 4zM500 296l1-3-3-2-1 4 3 1z"/><path fill="#303030" d="M509 314l-420 0-8-9-4-14 1-5 4-10 2-10 2-5 5-4 3-10 10-4 8-10 8-15-9-13 2-3 5-4 1-3 0-11 2-12-3-15-5-9-9-6-2-4 1-4 3-4 8-4-4-11 1-4 26-16 9-11 3-9 2-2 18-7 3 1 4 3 4 1 13-3 8-6 10-2 2-4-2-13 3-5 3 0 5 4 5 0 5-1 8-7 5-1 10 2 7-6 4-1 12 2 7-3 16-3 4 3 3 0 6-3 5-7 3-1 22 3 7 5 23 23 2 3 0 4-4 2-8 1-1 3 2 4 11 9 3-1 3-9 2-3 12 1 7-3 1-3-1-7 2-3 10 1 9-4 7-6 4-1 8 2 6 12 5 4 8 0 8-5 4 0 8 11 13 6 6 6 5-1 8-9 4 0 7 5 4 1 10-1 8-5 4 0 6 7 10 5 3 4 4 16-3 9 3 13-3 4-11 7-4 1-6-2-3 2-2 5 2 12-4 6-5 2-8-3-4 0-13 10 1 3 8 6 8 9-8 9 0 14-3 8 1 3 5 6 0 4-3 2-8-2-5 2-7 15 2 3 9 3 3 3-3 21-3 3-4 1-6-8-2 1-2 4 1 3 7 4 3 7-2 3-11 3-1 5 4 6 8 2 4 9 0 3zM295 42l2-3 1-3-3-2-3 1-2 2 0 4 2 2 3-1zM140 70l-2 0 1-2 2 0-1 2z"/><path fill="#343434" d="M508 314l-417 0-7-9-5-13 1-5 6-9 1-11 2-3 6-4-1-8 1-3 9-2 4-7 6-5 4-10 9-10-2-2-7-2-3-4 6-11-1-13 2-11-2-15-6-12-7-3-2-4 1-4 2-3 9 0 1-2-6-13 0-4 3-3 11-4 14-9 13-21 14-7 3 1 6 5 18-3 9-7 10-2 2-5-2-11 2-4 5 3 11 0 11 4 2-1 0-2-6-3-1-2 1-3 2-2 5-1 10 2 12-7 10 2 10-4 5 2-3 5-2 4 3 5 4 1 4-3 9-11 9-6 5-6 3-1 16 2 7 3 5 4 8 11 12 9 2 3-1 3-3 2-8 0-1 4 4 8 11 9 3-1 2-2 3-10 3-1 7 2 7-3 5-4 2-7 7-1 21-12 6 2 4 9 7 6 12 1 5-4 3 0 6 9 12 5 9 8 6-1 9-9 3 0 11 6 12-1 7-4 2 0 5 6 10 4 3 4 2 13-1 11 2 13-2 3-9 5-3 1-6-3-7 5-1 8 2 10-3 5-4 1-7-3-5 0-14 9-2 3 1 3 7 6 2 4 1 6-3 6 2 12-1 3-2 2-7-4-2 2 1 3 4 6 1 8-8 7-2 8-4 8 1 3 10 4 2 2-2 15-1 4-2 1-7-7-4 1-4 10 7 9-8 6-2 4 5 10 9 5 4 8zM522 219l-3 0 0-2 2 0 1 2zM91 290l1-3-4 0 1 4 2-1z"/><path fill="#393939" d="M506 314l-413 0-6-10 0-4 9-10 6-4 0-2-3-3-7-1 0-12 8-8-2-8 5 0 3-2 4-8 6-6 4-10 8-8 1-3-1-4-7-4 2-11-2-13 2-12-1-13-4-10 5-6 1-4-2-9-8-13 0-3 2-3 10-3 9-6 7-2 9-19 3-3 23-1 8-2 6 1 6-2 8-7 10-3 5-14 7-1 10 3 7 0 4-4-2-7 10-1 12-5 2 0 1 2 14-4 2 11 4 4 3 0 16-16 13-10 3-1 12 2 10 4 5 4 6 12 8 3 4 3 1 3-3 2-9-3-1 8 5 12 11 9 3 0 3-2 5-11 7 2 12-8 6-6 25-13 4 1 2 6 10 7 10 2 6 5 8 0 13 4 10 9 6-1 8-8 4-1 10 5 16 2 2 3 3 8 2 2 3-1 1-9 4-1 5 2 3 3 1 7 0 20-4 7 0 4-4 2-3-3-5 0-9 10-2 11 3 7-2 4-4 0-7-3-5 1-14 9-3 4 1 4 7 7 1 6-2 5-6 5-4 10 0 4 4 9 0 6-5 7-2 8-5 11 1 2 11 6 0 10-2 3-7-4-4 1-5 13 3 9-9 9 9 14 10 6 2 4zM113 139l-3 1-2-2 1-4 3-1 4 2 0 2-3 2z"/><path fill="#3d3d3d" d="M501 314l-406 0-5-9 1-4 5-8 9-4 1-3-2-5-8-7-1-5 8-7 8-17 7-8 2-9 9-9 2-4-1-5-6-5 0-10-2-11 3-12 0-12-4-11 4-7 1-10-8-15 0-3 17-11 10-2 6-8-1-7 4-5 3 0 5 2 8-4 20-1 8-3 9-7 9-2 5-12 2-2 4-1 10 2 8-1 4-2 3-7 10-5 10 3 6-4 4 0 5 9 6 6 14-13 5-8 12-8 4-1 17 4 6 4 2 5 1 14 8 22 1 2 5 3 3 6 9-1 7-7 2 1 1 6 3 1 3-1 2-2-2-7 1-5 23-16 6-1 9 0 9 2 9 6 7 1 6 5 11 0 10 4 6 7 4 1 8 0 9-9 3-1 10 6 13 3 3 2 5 9 6 3 4 6 6 4 1 5-2 3-15 8-4 6-6 6 0 6-2 3-9 5-6 0-3 7-8 6-3 4 0 5 6 8 1 5-8 8-3 14 3 10 0 5-5 9-3 10-5 10 2 3 9 4 1 4-1 2-6-1-3 1-7 16 2 8-1 3-4 3-7 0-3 4 2 3 10 4 4 8 10 10zM563 87l-3 1-3-2-1-6 2-2 3 0 3 2 1 4-2 3zM159 94l4-2-1-6-9 6 1 2 5 0zM539 146l-2-2 2 0 0 2z"/><path fill="#424242" d="M496 314l-399 0-4-9 0-4 5-7 8-2 3-5-2-5-9-10 0-3 7-6 5-11 10-14 2-10 9-9 2-4-1-5-5-7 0-7-4-13 6-14 6-3 2-6-2-3-8-1-3-5 3-8 1-10-1-5-2-6 0-3 10-14 10-1 8-5 12-4 1-3 0-7 2-3 7-2 13 1 15-6 5-5 8-1 2-2 4-10 3-3 9 2 10-2 6-3 5-7 4-3 5-1 8 3 8-3 3 2 7 12 4 2 6-9 8-7 5-8 16-8 16 3 5 4 1 4-1 13 6 9 5 17 5 6-1 9 1 3 4-1 8-6 5-2 10 2 7-2 2-3-4-8 2-5 20-13 4-2 19 1 9 7 6 2 6 3 13 1 7 3 4 4 1 5-9 9 0 2 4 2 4 0 2-2 2-10 13-2 11-9 5 2 5 6 7-1 6 2 3 2 5 8 14 14 0 2-14 10-6 9-4 2-8 1-6 5-6 9-2 8-10 10 0 10-5 6 4 10 0 7-3 8 3 8 1 5-10 15 0 8-5 9 2 7-1 11-7 9 0 9-8 5-3 6 1 3 11 4 11 17zM533 134l-3 0-1-3 4-1 1 2-1 2zM137 198l4-4-1-3-7 5 2 2 2 0z"/><path fill="#474747" d="M493 314l-393 0 0-5-4-5 1-3 3-4 9-4 2-6-1-4-8-10-1-3 6-6 4-11 12-15 1-9 9-10 1-7-2-9 7-3 5-9-1-3-3-1-7 5-4 0-2-2-2-5 2-6 7 0 2-8 5-12-1-3-2-2-4-2-5 0-2-2 4-20-1-10 5-11 3-2 9-2 14-6 6-1 1-2 0-10 2-3 7-1 10 3 8-6 10-3 5-4 8 1 6-15 4-1 6 4 5-4 13-5 6-8 3-2 10 3 10-2 8 13 3 3 3 0 2-2 4-8 9-8 4-7 16-8 15 3 4 3-1 5-7 4-2 5 2 3 9 5 4 4 5 16 4 8-1 12 1 2 8-3 11-8 11 2 10-2 2-2 0-5-4-7 1-3 8-4 12-9 13-1 10 1 7 9 13 4 12-1 6 3 2 3 0 4-8 10 1 3 6 3 4 0 3-2 4-10 12-3 9-8 4 1 3 8 2 2 2 0 6-3 6 1 12 14 3 9-4 6-6 5-4 7-12 3-7 5-6 10-3 9-8 10-1 8-6 9 5 11 0 5-3 8 4 8 0 5-2 3-9 8 1 12-5 9 1 7 0 5-2 3-5 1-2 2 0 15-6 7-4 10 2 2 11 3 3 7 6 6 1 3z"/><path fill="#4b4b4b" d="M490 314l-385 0 1-14 6-6 2-7-1-5-8-9 0-3 4-6 3-9 9-11 3-2 7 0 2-2-1-3-6-3 0-4 8-10 2-13 5-6 7-11-2-4-6-5-2-6 1-6 6-9 0-3-4-5-8-5-2-4 1-6 6-7-5-9 4-10 3-3 13-2 9-4 8 0 2-4-3-11 3-3 5-1 10 5 11-8 8-2 5-2 8 1 2-2 3-11 2-2 7 6 3 1 5-10 15-6 5-9 10 3 9-1 7 12 4 4 3 1 5-4 4-10 5-4 6-2 4 4 2 0 8-3 3-12 4-2 8 0 4 3-1 2-8 5-2 7 4 5 11 5 3 4 3 14 5 8-4 13 2 4 4-1 18-12 12 2 8 0 4-2 2-3 2-6 7-5-1-9 1-2 6-4 12-3 9 2 7 9 14 3 10-1 5 2 3 3 0 4-8 10 2 4 7 3 7-1 5-10 13-5 7-5 2 1 3 7 5 4 2 0 6-5 5 1 10 12 1 6-4 8-4 3-3 8-12 4-8 6-6 9-4 11-7 8-1 9-5 6-1 4 6 12-1 4-5 7 6 7 0 5-3 5-9 4 2 14-6 10 2 9-2 3-7 3-1 17-8 15-5 5 2 2 9 0 5 1 3 7 6 6 1 3zM318 37l-2 0 2-1 0 1zM315 60l1-3-2-3-4 0-3 2 0 2 3 2 5 0zM132 189l-3-1-1-3 1-2 4 2 0 2-1 2z"/><path fill="#505050" d="M487 314l-379 0 1-12 7-6 1-3-1-11-7-8-1-4 7-16 9-8 8-2 4-3-1-5-6-4 0-3 7-8 2-12 4-4 9-16-2-5-6-4-3-5 1-6 7-9-1-5-9-12 3-6 2-9-1-2-6-6 2-8 4-3 19-3 7 0 4-2 2-6-3-10 3-3 13 4 12-8 14-2 9 2 4-13 8 3 3 0 7-12 7-3 7 1 5-9 16 0 10 17 3 2 11-7 9 2 5 0 2-2-1-7 2-2 6-3 6-1 8 8 10 5 3 3 3 13 4 8-1 5-4 5 0 3 2 4 3 2 4-1 18-12 12 3 14-5 4-3 6-9 4-12 6-5 8-3 7 3 4 7 2 2 16 3 10-1 4 1 2 3 0 3-7 7-1 3 3 5 8 3 7 0 8-11 15-5 16 10 2-1 2-5 4-1 9 11 0 4-9 8 0 9-2 3-12 5-12 12-6 14-5 7-2 10-7 10-1 4 6 5 1 5-2 4-7 3 0 3 9 5 2 5-3 4-8 2-3 3 3 15-7 10 3 8-2 2-5 1-2-2-1-4-2 2 3 15 0 7-7 16-8 7 1 3 2 1 14 0 2 3-1 6 6 3 2 3z"/><path fill="#545454" d="M472 314l-362 0 2-11 9-7 2-3-4-5-1-10-6-6 2-5 4-2-2-7 8-9 10-4 3-2 0-7-5-8 7-7 0-10 5-4 2-7 7-10-3-9-6-3-2-4 1-5 6-6 2-3-7-15 0-10 1-11-6-5 1-6 3-2 23-2 6-3 4-6-2-10 1-2 12 3 4-1 5-6 3-2 14 0 6 3 3-1 4-3 2-9 6 1 4-1 6-11 4-3 4 0 8 3 3-8 5-2 10 0 9 16 5 2 12-7 15 1 2-2 0-6 2-3 5-2 4 1 9 8 8 3 3 3 2 12 4 8-3 4-7 0 0 5 3 7 9 5 4-1 6-5 12-6 0 7 29-13 6-6 7-16 5-5 6-3 3 0 3 2 4 12 8-1 14 1 7-1 4 1 1 5-8 9 2 5 6 4 12 2 12-12 10-2 5 1 8 6 8 8 1 15-2 3-11 5-12 12-11 21-2 11-9 11 1 8 5 4-7 7 0 5 2 3 7 2 2 4-2 2-8 2-4 3-1 6 4 8 0 4-3 4-11 6-4 5-1 3 6 11 0 7-6 17-7 4-2 4 1 3 2 2 13 2-3 12zM541 98l-3 0-2-2 1-9 8 7-1 3-3 1zM215 95l2-3-1-4-6 1-2 2 0 3 3 2 4-1zM501 118l-2-8-3-2-3 1-2 3 1 2 9 4z"/><path fill="#595959" d="M469 314l-357 0 2-10 11-8 2-3-5-5-1-4 1-13 0-14 3-4 7-3 7-7 0-5-3-10 10-7 0-2-4-2-1-3 6-5 2-7 4-5 2-6-3-11-7-5-1-2 9-13-6-12-1-8 0-7 2-12-1-2-5-2 0-3 7 0 6-3 9 0 5-2 7-6 3-11 12-1 8-7 7 2-3 7 1 2 6 3 4 0 4-4 3-6 5-5 4-7 9-4 8-11 4-1 6 3 4 1 2-2 2-7 6-3 6 2 8 13 6 4 5-1 9-6 16 1 2-3 1-7 4-3 5 2 9 9 7 2 2 3 0 10-6 3-2 5 4 13 0 8 2 2 6-2 8 2 9-6 3 7 4 0 9-10 10-3 19-11 7-16 6-7 5-3 2 0 2 2 1 10 3 3 3 1 9-3 21 1 0 4-8 7 3 6 6 5 15 3 8-8 7-5 8 0 5 1 6 5 5 7 1 9-1 6-9 5-8 8-3 1-4-2-2-11-3-6-4-4-3-1-2 1-4 7 1 3 6 6 9 14-8 19-1 11-5 5-7 3 4 16-3 8 0 4 8 7-8 4-3 4 0 7 3 10-2 3-10 6-7 8 0 4 6 8 1 8-6 15-8 5-1 5 2 6 10 3-1 10z"/><path fill="#5d5d5d" d="M465 314l-352 0 3-9 13-8 2-2-1-5-5-3-2-4 2-12-1-10 1-3 2-2 7 0 2-6 5-8-1-11 0-3 5-2 7 1 2-3-5-12 3-7 5-5-1-11-3-10-6-7 6-8 1-4-5-13-2-12 7-19 3-2 5 2 14-10 6-10 11-3 4 0 6 6 7 2 3 0 6-5 3-7 9-11 8-4 8-11 4-1 7 3 5 1 2-3 1-6 5-3 5 2 3 8 5 5 8 3 7-1 8-5 18 1 1-2 1-8 2-2 4 2 4 4 2 5 0 3-3 4 3 6-1 8 7 11 0 11 4 3 7-1 7 2 6-3 7 4 5-1 8-11 10-3 20-12 6-15 9-9 2 1 2 10 4 4 4 0 11-3 9 2 2 1-5 5 2 4 10 10 11 2 4 3-3 13 8 8 6 14-3 10-4 7 1 8-2 4-5 3-8-2-3 2 1 3 5 6 3 10-2 11 2 8-6 10 2 15-17 14-2 3 1 7 6 7 1 6-6 15-8 5-1 5 1 6 7 7 1 7zM308 82l-1-4-3-1-1 3 2 2 3 0zM513 124l-3-1-2-9-3-6-6-6 0-4 1-3 9-6 7-1 6 3 6 6 2 4 0 6-2 5-8 5-7 7z"/><path fill="#626262" d="M461 314l-346 0 3-7 4-4 5-2 8 2 3-1-4-6-2-8-7-5 3-11-1-11 1-1 6 0 2-1 2-9 4-7 1-13 3 0 9 3 2-1 1-2-1-8-5-8-1-3 3-5 7-2 1-2-3-7-4-15-4-8 5-11-7-22 0-6 2-5 4-4 7-1 7-10 13-12 9-5 4 1 6 5 9 3 3-1 7-7 4-8 7-9 9-6 7-9 4-1 17 5 1-2-1-8 3-2 4 1 2 7 8 6 14 3 2 8 5 3 3 0 2-3-1-5-5-6 2-3 7-1 13 6 6 6 2 10 8 8 1 4-1 7 2 5 3 2 8-1 9 3 13-1 6-2 6-10 11-4 7-6 13-7 6-12 3-3 2-1 5 6 6 3 15-2 1 2 1 6 13 12 10 1 4 3 1 3-2 11 7 7 6 14-3 11-7 5 4 7-1 5-5 2-9-2-3 3 0 4 7 8 3 11-3 8 1 8-5 9 0 14-10 11-9 4 4 14 4 5 2 4-5 14-9 5-2 3 2 10 6 8 1 6-1 0zM525 109l-6 0-5-2-6-9 3-6 4-2 4 1 7 7 2 6-3 5zM144 274l1-2-2-1-1 3 2 0z"/><path fill="#666666" d="M460 314l-342 0 3-7 3-3 3-1 8 3 6-3 0-3-6-7-1-7 2-4 11-5 2-3-1-5-9-4 0-2 0-11 6-7 0-9 3-2 6 2 3 3 1 5 2-1 2-3-2-18-6-10 2-4 8-2 1-4-5-8-6-21 4-12-7-21 0-6 1-4 3-3 8-2 7-11 14-11 8-2 9 4 9 2 4-1 7-6 3-10 8-9 8-5 6-8 4-2 16 6 11-3 9 4 9 2 2 1 4 8 6 3 5-1 2-3-1-5-4-7 1-2 4 0 10 5 6 6 2 10 8 5 2 3 1 4-3 7 4 6 0 6 11-5 13 4 15-3 4-3 6-8 10-4 6-7 13-6 10-10 6 2 15 2 14 11 7 8 10 0 2 3-2 7 0 5 9 8 3 10 0 8-3 5-9 0-2 1 2 6 6 6 0 3-3 1-9-2-3 1-2 4 1 5 7 9 2 9-7 23 0 15-9 11-3 1-5-2-3 4 1 3 3 6 1 11 5 5-2 8-4 6-15 7-2 2 2 4 5 1 2 2 7 9 1 7zM522 106l-5-1-4-5-1-4 3-3 5 1 5 5 0 5-3 2zM131 281l-2-1 3-7-2-7 1-2 6 3-4 12-2 2z"/><path fill="#6b6b6b" d="M458 314l-338 0 2-5 3-3 10 3 5-3 3-3-1-4-5-6-1-6 3-4 11-6 2-8 0-2-10-5-2-5 1-5 5-3 8 2 4 0 5-6 1-4-3-23-4-5 1-1 5 1 2-1 3-11-6-8-5-19 2-12-6-22 0-8 3-2 8-2 8-13 13-10 7-1 19 5 12-6 3-14 7-7 8-6 5-7 4-2 6 1 10 6 12-3 15 6 7 8 7 3 5 0 3-3 0-11 9 2 3 4 4 12 7 3 3 3 0 4-5 8 4 5-1 7 3 2 13-5 15 4 14-5 11-10 9-4 7-9 10-4 9-6 15 0 15 6 14 14 3 1 4-2 2 1-1 14 9 6 4 15-1 4-3 2-13 0 4 13-8 4-2 4 1 9 6 6 3 9-7 15-1 22-7 8-3 2-6-1-3 5 0 4 4 9-3 12 5 5 0 5-4 4-15 6-2 2 1 4 3 6 7 3 6 5 2 6-1 1zM521 102l-4-1-1-5 2-1 2 2 2 4-1 1zM324 108l0-4-2-1-3 2 1 3 4 0zM152 242l-3 0 0-3 3 0 0 3zM452 271l3-2-1-2-5-2-2 1 0 5 5 0z"/><path fill="#707070" d="M457 314l-335 0 2-4 2-2 10 4 8-7 0-5-6-7 0-5 3-4 11-4 6-13-2-3-7 0-5-3-2-3 1-5 4-1 9 2 3 0 4-3 3-7-2-23 5-8 1-12-2-4-5-6-4-17 2-12-5-13-2-11 1-4 3-2 9 0 7-16 12-10 6-1 18 6 15-6 2-3-2-7 2-5 7-7 7-5 6-8 3-2 5 1 10 7 12-2 14 4 6 7 9 5 9-2 2-3 2-6 4 0 6 14 9 4 2 4-3 3-5 2-2 0-4-6-5 1-6 4-1 5 28 16 15-5 15 6 15-8 9-9 9-4 7-10 10-3 7-5 15-1 15 5 14 14 6 4 1 12 9 4 4 14-3 4-11-2-3 2-1 3 4 10-8 8-1 13 1 3 7 3 2 6-9 15 2 20-6 7-9 2-3 2-2 8 4 9-1 7-2 3-8 0-2 3 0 4 2 3 10 2 0 3-7 5-8 2-3 3 1 5 3 7 13 7 2 4 1 3-1 0z"/><path fill="#747474" d="M456 314l-317 0 7-12-1-4-5-6 0-4 3-3 10-1 3-2 1-9 5-6-2-8 3-2 5-1 1-2-1-16-2-16 1-3 5-6-1-13-1-5-5-5-1-3 0-9-2-7 3-9-7-12-1-14 3-1 6 2 5-3 3-4 3-14 10-9 6 0 16 7 18-7 4-7-4-5 1-4 13-11 5-8 4-2 4 0 11 8 12-2 12 4 6 6 10 5 9-1 8-5 4 6 0 5-12 7-4 5-1 3 4 4 7 1 7 7 14 5 17-5 5 2 5 5 5 0 16-9 8-8 9-5 8-11 9-3 6-3 15-1 15 4 5 6 13 12 1 3-1 10 9 14-3 1-6-1-3 2-1 5 4 10-7 6-2 5-1 16-3 9 4 8-4 11 6 8 0 5-4 4-9 2-3 3-4 12 5 8 0 4-3 4-5-1-3 1-3 7 1 6 7 3 1 2-4 3-7-1-3 6 0 5 5 11 3 2 10 3 3 4 0 2-1 0zM336 102l-4 0-1-3 2-1 3 0 2 2-2 2zM173 175l-1-4-3-2 0 5 4 1zM476 189l-1 0 0-2 1 2zM152 261l-4 0-3-1-1-3 1-2 3-1 5 2 2 3-3 2zM132 314l-8 0 3-3 3 1 2 2z"/><path fill="#797979" d="M456 314l-314 0 1-3 6-5 0-2-3-8-5-5 1-2 3-2 11 1 4-2 2-4-2-7 2-2 4 2 2 0 6-16 0-4-3-13 2-3 5-3 0-3-2-2-6 0-2-9 3-4 7-3 4-6 0-6-2-9-7-5-4 0-3-4 2-6 8 2 1-3-5-16-2-11-4-6 18-22-3-3 2-7 3-3 4-2 9 5 1 2-3 3-11 4 7 2 7-2 18-9 11-3 5-6 8-16-1-6 6-9 4-2 4 2 7 7 10 2 5 3 9 1 6 3 7 2 2 2-3 3 0 2 7 13 6 7 7 3 6 6 6 4 13 0 9-4 8-1 0 3-5 4 1 2 17-3 18-8 17-13 6-11 3-2 14-3 9 1 9-2 8 1 3 3 1 5 6 2 9 9-2 10-5 3-7-6-3-15-5 1-3 2 2 9 4 7 3 2 7 1 4 5-1 12 5 10-2 3-7 3-2 3-5 28 2 10-13 41-1 10-7 9-8 28 1 5 8 17 4-4 5-1 4 2 2 5zM231 93l-1 1 0-2 2-2 1 1-2 2zM311 102l-3 0-3-8 15-4 2 0 1 3-1 2-11 7zM162 153l-2-4 1-5 5 1-2 6-2 2zM452 257l-2-1-1-2 4 0-1 3z"/><path fill="#7d7d7d" d="M251 82l-3 1-3-2 3-6 3-2 5 4-2 3-3 2zM430 314l-273 0 5-8 14-33 12-58 0-16-10-40-2-11 1-6 11-7 28-10 10-5 10-8 10-14 14-5 11 0 14 4 6 6 8 11 11 11 19 12 17 5 10 0 20-5 18-8 30-19 9-4 4 0 12 22 5 7 7 4 1 2-6 20-4 40-6 28-16 44-6 24 1 8 5 9zM455 103l-4 0-2-2 1-5 6 1 1 3-2 3zM470 121l-4-1-2-2-1-8 2-3 3 2 5 6 0 3-3 3zM191 117l-4 0-1-1 0-3 3-3 4 1 2 3-1 2-3 1zM175 226l-4 1-1-4 1-2 1-1 5 3 0 2-2 1zM455 314l-9 0 0-4 3-1 3 0 3 5z"/><path fill="#828282" d="M251 79l-3 0 3-3 2 2-2 1zM424 314l-255 0 4-11 6-10 4-15 10-61 0-19-3-38 2-11 11-7 37-17 18-13 6-1 12 2 26 19 21 11 20 6 21-1 23-5 37-12 5 0 14 16 2 38-2 25-3 18-17 54-3 15 0 5 5 11-1 1zM454 314l-6 0 0-3 4 0 2 3z"/><path fill="#868686" d="M420 314l-240 0 1-5 8-13 9-77 2-44 2-11 3-7 9-7 16-8 24-8 13-3 53 19 19 5 23 0 43-5 13 0 6 2 9 16 4 28-1 15-4 23-17 63 0 6 5 11zM452 314l-3-1 2-1 1 2z"/><path fill="#8b8b8b" d="M416 314l-227 0 9-14-1-31 7-69 5-22 5-11 8-7 12-6 18-5 11-2 23 3 43 11 71 2 16 4 5 5 3 8 3 16 1 11-4 31-14 58 1 8 5 10z"/><path fill="#8f8f8f" d="M409 314l-209 0 6-15-3-29 1-25 2-16 7-25 10-18 6-8 7-4 20-6 9-1 18 0 41 7 50 5 20 5 7 3 9 17 2 18 0 24-8 49 1 7 4 12z"/><path fill="#949494" d="M404 314l-196 0 7-15-6-30 0-24 3-14 6-17 11-13 14-9 19-6 22-2 14 0 46 4 14 3 19 8 13 9 6 8 2 8 3 26 0 20-3 19 0 11 6 14z"/><path fill="#999999" d="M398 314l-185 0 5-10 2-6-6-31 0-19 3-14 7-17 9-10 13-7 19-6 23-3 24 1 29 3 14 3 17 8 7 4 9 9 4 12 3 19 0 17-2 32 1 6 4 9z"/><path fill="#9d9d9d" d="M391 314l-172 0 6-16-6-32 1-16 3-14 7-14 7-8 12-8 18-5 22-4 45 3 18 4 16 8 14 12 5 15 3 28-3 31 4 16z"/><path fill="#a2a2a2" d="M385 314l-161 0 5-16-4-31 1-13 2-12 5-10 7-11 12-9 17-5 20-4 30 1 14 2 17 4 13 7 13 11 5 13 3 26-3 32 4 15z"/><path fill="#a6a6a6" d="M379 314l-150 0 5-16-3-21 1-22 6-19 7-10 12-8 15-6 18-3 27 1 15 2 16 5 7 3 6 4 8 7 4 5 2 7 3 26-3 30 5 12 0 3-1 0z"/><path fill="#ababab" d="M375 314l-142 0 5-14-2-24 1-19 6-17 7-9 10-8 14-5 11-2 32-1 14 2 16 6 10 6 6 6 4 4 3 7 3 26-3 27 5 15z"/><path fill="#afafaf" d="M371 314l-133 0 4-15-3-23 1-9 2-11 6-14 6-8 9-7 12-4 12-3 28-1 15 3 14 5 10 6 7 7 6 12 2 20-3 27 5 15z"/><path fill="#b4b4b4" d="M366 314l-124 0 4-15-2-30 2-12 6-12 8-9 6-4 10-4 19-4 19 0 16 3 12 4 15 13 6 14 2 14-4 27 5 15z"/><path fill="#b8b8b8" d="M362 314l-116 0 4-15-2-17 0-11 3-13 4-10 9-9 11-6 22-5 22 2 20 5 13 12 7 13 1 11-3 28 5 15z"/><path fill="#bdbdbd" d="M358 314l-109 0 5-15-3-18 0-8 5-18 4-6 7-6 11-6 9-2 12-2 11 0 18 3 9 4 11 9 7 13 2 7-1 12-3 18 5 15z"/><path fill="#c2c2c2" d="M354 314l-101 0 4-15-3-22 3-11 3-8 4-5 6-6 10-5 9-3 20-1 18 3 8 4 10 9 6 11 1 15-2 19 4 15z"/><path fill="#c6c6c6" d="M350 314l-93 0 4-15-3-20 5-16 4-6 6-5 10-6 7-2 19-1 18 4 6 2 8 8 6 10 2 12-3 21 4 14z"/><path fill="#cbcbcb" d="M347 314l-88 0 4-14-3-19 5-16 5-6 6-5 15-6 17-1 18 3 6 3 8 9 5 11 1 7-2 21 3 13z"/><path fill="#cfcfcf" d="M344 314l-83 0 4-14-2-19 5-15 4-4 9-7 7-3 10-2 16 0 17 6 9 10 3 11-2 22 3 15z"/><path fill="#d4d4d4" d="M341 314l-77 0 3-14-2-18 6-14 11-10 16-5 16 0 15 5 9 10 3 10-2 20 2 16z"/><path fill="#d8d8d8" d="M338 314l-72 0 3-13-1-19 4-11 11-10 15-5 16 0 14 5 7 8 3 10-2 19 3 15-1 1z"/><path fill="#dddddd" d="M336 314l-68 0 3-13-1-17 4-10 10-10 14-5 15 0 13 5 7 6 2 6 1 9-2 13 2 16z"/><path fill="#e1e1e1" d="M333 314l-63 0 3-12-1-17 5-10 9-8 14-5 12 0 13 4 6 6 3 9-3 16 3 17-1 0z"/><path fill="#e6e6e6" d="M331 314l-58 0 2-12-1-15 4-10 10-8 13-5 11 0 12 5 5 5 3 9-3 14 2 17z"/><path fill="#ebebeb" d="M328 314l-52 0 2-13-1-14 4-8 9-8 12-4 10 0 10 4 5 5 2 7-3 14 2 17z"/><path fill="#efefef" d="M324 314l-45 0 2-14-1-12 4-8 8-6 12-4 10 1 7 4 3 4 2 6-2 11 1 18-1 0z"/><path fill="#f4f4f4" d="M321 314l-39 0 2-14-2-11 4-7 8-6 10-3 8 0 6 3 3 4 2 6-2 9 1 19-1 0z"/><path fill="#f8f8f8" d="M318 314l-33 0 2-14-1-10 3-6 9-6 7-2 8 1 4 3 3 6-2 8 0 20z"/><path fill="#fdfdfd" d="M313 314l-23 0 2-13-1-11 3-3 8-5 8 0 4 3-1 9 0 20z"/></g></g><g transform="translate(711.40,13.40)" clip-path="url(#pc)"><g filter="url(#fE)"><rect x="-15" y="-15" width="630" height="330" fill="#000"/><path fill="#070707" d="M580 314l-365 1-97-1 7-9 1-8-10-7-14-13-8-14-7-6-3-5-7 1-3-1-3-9-9-17-5-1-7 1-2-1-3-9-10-11 0-10-2-4-9-9-7 4-5-1-17-10-10-8 0-7 2-2-2-4-1-9 1-155 11-4 7 9 4 2 5-3 3-9 13 0 0 7 9 11 9 7 9 3 10 7 16 1 10 8 6 2 18 0 9-6 8 4 23 3 3 3 1 10 0 6-2 8 17-8 2-3 1-7 2-2 5-2 16-2 12 16 9 3 8 8 10 0 6 1 9 8 23-4 9 7 11-8 6-9 7-7 7-14 10-6 15-4 6 0 3 3 10 29 4 2 13 2 11-4 23 2 11-4 9 0 8 5 25-17 10 2 11-6 24-3 3-3-3-7 1-1 14 5 12 1 11 3 4-2 12-11 10 2 3 4-2 6 0 3 11 10 11-1 4 7-7 13-2 23 2 18-2 10-8 10 6 9-5 10 3 1 8-1 1 3 0 5-3 5-4 4-23 8-2 4 3 10-1 4-8 7 6 6 0 3-4 6-8 1-1 2 2 5 8 0 6 6 11 5 3 4 0 15-5 19 3 4 6 0 1 5-6 1-3 2-4 13-3 1-8-1-3 4 2 5 3 4 13 6 2 2zM79 273l-2-1-1-2 1-2 3-2 2 3-3 4z"/><path fill="#0b0b0b" d="M555 314l-264 1-170-1 5-7 2-10-27-23-6-12-6-6-4-7-3-1-5 2-2-1-8-17-1-9-3-2-12 0-3-5-11-12-2-13-9-12-5-1-4 5-4 1-19-12-6-7 2-8-2-3-3-2-1-8 1-153 10-2 8 8 4 1 5-2 5-6 3 0 14 14 14 10 8 2 11 7 8-1 5 1 16 10 19 0 9-4 29 7 3 3 2 6-1 5-3 8 0 2 2 2 4-1 19-9 2-9 3-3 14-2 2 1 11 16 9 3 7 9 3 1 6-4 5 0 4 2 6 7 3 1 10-4 12-1 2 2 3 5 7 3 3-1 3-5 5-5 4-8 9-9 7-14 7-4 12-1 6-4 4 1 2 3 2 8 4 7 2 11 3 3 18 3 17-4 8 2 9 0 7-4 5-1 7 2 7 7 7-6 8-4 11-9 9 2 10-6 7 1 7-4 16-1 4-7 19 1 13 4 8-5 7-6 7 0 2 2-3 7 2 3 11 11 12-1 4 5-1 3-7 9 1 11-3 15 2 16-2 9-9 12 6 8-4 7 0 4 3 3 8 0 1 3-1 4-5 4-20 6-4 3-1 5 1 13-8 7 0 3 4 5 0 3-2 2-7 2-2 2 0 4 3 6 8 2 16 7 3 5-2 7 2 10-6 15 4 8-3 13-3 3-9-1-3 1-2 6 3 9-6 7zM575 314l-10 0 1-2 2-1 7 3z"/><path fill="#101010" d="M553 314l-255 1-175-1 6-7 1-11-29-24-5-12-5-5-4-7-12-6-5-9 0-3 3-3-3-5-4-3-11-3-11-6-6-8-1-12-8-12-9-2-5 4-3 0-6-4-10-4-4-5 1-11-3-3-5-2-1-6 1-152 10-1 7 6 4 1 13-5 9 10 11 6 10 7 8 3 12 7 7-1 8 2 12 6 7 1 19-2 7 2 7-1 10 6 7 0 2 3 1 5-5 11 4 4 6 0 12-7 8-2 4-12 10-2 2 1 3 6 5 3 2 8 10 2 5 7 4 3 4 0 10-4 10 9 4 1 10-4 10-1 2 2 2 7 11 3 3-1 4-7 5-5 3-9 10-9 6-13 10-4 12 1 3-4 3 1 1 6 5 8 2 14 23 6 1 2-1 6 4 2 4 0 5-6 6 2 5-1 4-7 9 0 4-5 3-2 7 2 7 9 3 0 6-7 10-4 9-9 8 3 10-6 10 0 7-4 17-1 5-6 15 0 14 4 13-4 12 8 7 7 4 2 9-1 1 4-8 9 2 12-5 19 2 12-1 9-8 13 5 8-4 11 3 3 8 2 1 2-5 5-18 5-4 3-3 6 2 13-8 6-1 2 2 10-7 3-2 3 1 7 4 7 21 7 3 4-2 6 3 11-7 19 3 7-1 9-2 2-8-1-4 2-2 6 0 8-4 9zM106 49l2-3-3-2-2 1 0 3 1 1 2 0zM473 62l0-4-3 0 0 4 2 1 1-1zM79 232l-1-3-5-1 3 4 3 0z"/><path fill="#141414" d="M551 314l-252 1-172-1 3-6 3-13-9-6-4-6-8-4-10-9-5-11-5-5-4-7-7-7 1-9-2-4-18-15-8 0-7-3-7-8-1-11-4-8 5-6-1-5-4-1-8 4-10-1-7 1-11-3-5-5 1-8-1-4-4-3-5-2 0-153 9-1 12 5 11-2 6 9 14 4 6 4 6 7 8 1 5 2 10 11 7 2 2-6 3-2 15 7 3 2-2 9 2 5 4-1 7-5-4-7 0-2 8-2 6-1 7 3 7 1 8 5 8 0 1 5-5 11 4 4 6 1 7-2 8-6 9-2 3-9 5-3 11 10 0 6 1 3 4 2 7-1 3 7 11 3 9-4 3 0 13 9 4-1 8-4 6 0 3 2 0 6 2 3 8 0 6 2 3-2 5-8 5-5 2-9 11-9 5-12 3-2 7-2 5 1 13 5 4 6 1 15 11 0 8 3 2 2 1 8 9 3 8-3 22-3 4-4 2-8 3-2 6 3 5 7 3 2 4-1 5-8 4-2 12-1 6 5 4 1 4-4 0-9 4-4 12 0 7-5 5-1 6 0 8 2 5-6 8-2 7 0 13 4 13-2 9 5 10 9 4 2 5-1 0 2-4 2-2 4 0 6 3 7-1 6-2 6-5 7 3 11 0 11-8 10-1 3 4 9-3 13 9 4 0 2-3 2-14 3-3 2-5 10 2 10-1 3-8 6-1 10-5 4-2 3 3 11 3 6 20 8 0 5 4 12-2 8-8 16 1 3 4 3 1 5-3 1-7-2-4 3-6 13-1 12z"/><path fill="#191919" d="M548 314l-419 0 6-14 4 0 7 1 3-1-5-3-4-6-11-1-5-9-10-4-5-5-6-3-4-11-6-6-3-6-6-6-2-13-14-12-4-7-3-1-7 3-6-3-3-5-5-5 1-7-2-7 3-7-1-6-4-2-12 4-12-6-7 4-6 0-4-4 0-12-5-4-6-2 0-148 10-2 10 3 10 0 4 8 5 5 6-2 4 0 7 5 7 9 14 2 8 12 9 8 3 0 2-3 1-11 3 0 4 1 7 5 0 13 2 3 10-5 8 0 3-2 0-3-6-3-2-3 2-2 4-1 9 4 9 1 7 4 6 2-1 4-4 6 4 6 6 3 11-2 8-7 10-2 5-7 8 6 3 9 12 9 9 1 6 4 7-6 4-1 11 8 3 0 12-5 4 0 3 3 0 8 4 3 7-2 7 3 4-2 10-14 2-11 12-8 5-11 9-3 14 3 4 3 2 6-1 10 2 4 3 1 8-1 4 1 3 3-1 5 2 3 15 5 15-5 11 1 6-2 2-2 3-10 2-2 4 3 3 7 3 2 6-2 5-8 4-2 8 1 9 4 5 0 5-4 1-9 2-4 14 0 10-6 8 0 16 11 2-3-5-6-1-3 2-3 5-2 8 0 15 5 9-2 6 2 14 13 1 6-1 8 4 4 0 4-2 7-6 8 2 10 0 13-8 9 1 6 3 6 0 4-4 5-6 5-6 2-5-1-3 1 0 2 7 1 3 4 0 3-5 11 2 10-8 7-2 10-9 5 7 19 5 5 10 4 2 5 7 7 2 6-3 8-9 13-2 9-4 5-5 9-6 6 2 11zM28 19l-2-2 0 2 2 0z"/><path fill="#1e1e1e" d="M545 314l-413 0 5-7 6 0 9-4 4-3 0-2-9-5-6-4-9-2-6-8-11-5-3-9-5 3-3-1-3-10-7-6-8-12-3-13-13-11-6-10-3-1-6 2-3 0-1-2 5-6-2-6-4-1-6 3 1-20-3-6-3-2-12 3-5-2-4-6 0-11-4-2-3 1-2 2-3 15-5 1-2-2-1-12-7-5-6-1 0-145 11-2 17 2 7 13 1 8 2 2 5 1 10-4 12 9 8-1 3 0 8 16 8 6 4 0 4-2 2-4 2-9 4 1 3 3 0 15 3 3 4-1 8-4 10-1 7-8 8-1 4 1 5 5-6 6 1 4 14 8 14-1 8-8 9-1 7-3 3 2 4 8 12 10 10 2 5 6 3 0 5-8 4-2 5 2 8 7 16-6 2 3-3 10 13 3 5-2 7 1 4-1 10-12 2-6 1-9 11-7 10-12 4-2 12 3 4 2 2 6-2 9 3 5 3 2 10-1 2 2 1 7 2 4 9 1 8 3 15-5 8 1 16 0 4-3 12-3 9-10 5 2 1 8 2 0 6-4 8-1 6-3 2-3 1-10 12 0 5 2 4-7 4-2 6 0 16 12 3-1 5-5-6-8 6-4 5 0 18 7 10 0 11 9 2 3 0 6-5 7 0 3 2 2 5-1 1 2-1 5-7 9 2 13-2 3-6 2 3 6-3 6 0 5 3 13-2 4-5 4-5 1-7-2-5 5-2 4 1 2 9 1 3 2 0 3-5 11 2 9-7 7-3 9-3 1-9 0-2 3-1 4 1 2 7 2 4 11 6 8 9 5 3 5 7 6 1 5-3 9-7 10-3 9-6 12-10 10 0 3 3 7-1 1zM428 73l-1-1 0-2 1 1 0 2zM527 303l0-4-3 0-2 1 1 3 4 0z"/><path fill="#222222" d="M543 314l-408 0 1-2 7-1 13-8 3-3 0-2-19-13-6-2-6-5-8-5-7-13-7-3-11-7-3-7-5-7-2-10-13-11-5-10-8-6-3-9-7-9-2-8-5-9-3-1-7 3-5-1-2-4-2-13-2-3-10 0-11 5-9-4-6-1 0-16 7 5 3-7-2-3-8-3 0-117 12-2 14 2 6 12 1 7 2 3 7 3 12-2 8 7 4 2 9-2 3 3 3 10 11 7 6 1 4-2 5-12 2 2 0 4-3 10 8 4 12-5 9-1 11-9 5 0 3 1 1 3-3 7-2 11 8-3 12 6 13-2 3-2 6-7 14-1 20 18 14 8 5 0 5-8 5-2 7 6 0 3-3 7 2 2 3 1 4-3 0-6 2-2 9-3 1 1-2 7 1 3 17 6 6-3 8-1 10-8 2-5 2-16 12-7 10-11 4-2 13 4 1 5-2 8 0 3 7 6 8-1 3 1 2 11 3 4 2 1 7-2 8 4 15-6 7 2 18 0 17-8 7-8 2 2-1 9 1 1 3 0 5-2 6-5 17-5 2-3 0-5 2-2 5 0 7 6 4 1 2-3-2-9 2-3 3-1 5 1 11 10 4 1 13-4 5-9 6 0 15 5 4 6 7 0 2 4-5 11 1 5 3 5-5 10 2 10-6 1-2 4 1 27 2 6-3 3-4 2-10-1-6 6-3 6 1 3 4 2 7-1 2 2-5 12 2 9-6 6-3 8-12 2-10 12 5 5 7-3 4 2 1 6 6 9-4 7 0 3 4 2 6-6 4 1 4 6 0 3-6 3-2 3 11 6-6 11-2 8-7 13-10 11 2 11zM3 23l2-2 0-3-3-2-3 0-2 2 0 2 3 3 3 0zM551 261l2-3-2-2-4 0-2 2 2 3 4 0zM527 306l3-4-1-5-4-2-6 3 0 3 2 4 6 1z"/><path fill="#272727" d="M541 314l-398 0 7-6 11-6 1-3-1-3-13-7-8-8-7-3-11-7-8-13-17-9-3-7-5-7-2-10-14-12-4-8-8-7-4-14-14-22-4-2-6 3-2-1-1-7-5-11-14-2-12 5-6-5 7-17-1-2-14-6 0-30 2-1-2-1 0-8 0-50 8-4 7 3 4 0 3-2 1-3-2-5-5-2-4 0-6 4-6-1 0-11 12-3 13 2 4 10 1 8 4 5 9 3 10-2 10 9 11 0 2 10 14 8 15 5 10 2 10-4 9-1 13-9 3-1 2 1 0 2-7 17 3 5 3 0 7-4 3 0 3 2 2 6 2 1 7-7 11-1 7-8 11 0 14 10 7 7 13 9 7 0 6-9 4-2 5 5-3 9 3 4 6 0 8-4 7 4 16 4 14-2 4-2 9-10 2-21 11-5 9-10 5-3 10 3 1 4-2 11 8 8 10 0 3 11 3 5 4 1 6-2 8 3 15-6 26 2 7-4 11-4 2 1 3 4 3 0 11-4 6-5 8-2 9 1 3-2 2-7 9 4 6-2 1-3-2-9 3-3 5 2 9 9 6 2 7-2 6 1 4-10 4-3 4 0 10 5 5 7 8 2-4 9 1 13-5 8-8 5 4 7 1 10-1 25-2 3-7-1-4 1-11 16 6 4 9 2-4 10 1 9-4 5-3 7-11 2-7 8-8 2-2 3 1 3 8 9 3 1 8-1 7 6-4 14 1 2 6 4-8 5 1 5 8 5 4-1 4-3 3 1-11 29-11 12 2 11zM339 98l4-2-1-4-5 2 0 3 2 1zM-12 143l-3 0 0-10 3 2 4 6-4 2zM100 228l-1-2-2 1 1 2 2-1zM524 257l6-7 0-3-2-2-3 1-5 9 1 3 3-1zM526 308l6-3 1-4-4-7-4-2-8 4-1 3 4 7 6 2z"/><path fill="#2b2b2b" d="M10 15l-10-3-10 1-5-1 0-4 11-3 10 0 4 3 0 7zM540 314l-394 0 4-5 13-7 1-4-2-3-14-8-7-10-15-8-10-12-17-9-9-17 2-2 4 3 5-1 2-2-1-4-4-2-8 0-16-12-4-7-8-8-1-12-2-5-11-12-4-8-9-3-8-14-11-2-6-3-8 6-4-1-1-5 2-6 3-2 5 0 2-4-4-4-15-4-3-7-2-1 0-19 4-1 1-2-1-3-4-2 0-52 10-2 10 1 7-2 16 6 10 0 8 6 8 4 0 4 2 2 9 3 26 12 11 1 8-4 10-1 10-5 1 3-3 6 0 5 3 7 4 2 9-4 5 6 5 2 4-1 3-8 3 0 5 2 9-12 8 0 13 8 4 4 2 4-3 4 0 1 8 1 7 5 13 1 9-11 3 3-1 10 4 4 6 0 8-2 7 3 7 0 8 3 9-1 7 2 6-4 7-10 2-21 2-3 4-2 2 1 1 9 2 2 4 0 4-3-5-14 5-6 5-3 4 1 4 2-2 12 2 3 9 9 8-1 5 14 3 3 5 1 6-1 9 1 14-6 26 3 8-6 6-2 9 4 9-3 6 0 4-5 3-2 5-1 10 2 8-6 10-1 7-6-4-6 1-2 3 1 4 7 15 7 9-1 4-3 1-9 3-4 2-1 4 0 7 5 10 12 0 14-2 5-4 5-9 2-2 2 8 14 2 11-1 9-3 7-9 4-16 19 1 3 8 2 6 3-2 9 2 7-5 9-2 2-10 1-7 8-9 2-2 8 1 4 8 8 13 2 4 3-3 9-3 4-9-3-6 2-4 10 0 6 3 1 10-6 4-1 6 8 12 10 1 3-5 15-8 8-5 1-9-10-12 6-2 4 8 10 5 0 9-2 5 7zM167 87l3-5-2-5-7 7 3 3 3 0zM341 100l3-2 2-4-1-5-1-2-6 3-3 5 1 5 5 0zM265 108l1-2-2-2-2 3 0 1 3 0z"/><path fill="#303030" d="M7 10l-14-1 11-2 2 1 1 2zM538 314l-390 0 5-5 11-6 1-4-1-5-15-8-5-11-6-3-9-9-29-17-3-9 7-6 0-6-5-4-10-2-3-3 0-6-2-3-8-1-11-9-2-5 2-7 0-3-4-6-12-12 0-3 5-3 0-2-4-2-7 1-5 0-4-8-6-7-10-1-4-3-2-5-1-9-2-4-15-2-2-2 0-6-7-2 0-15 5 0 2-4-2-4-5-2 0-49 8-1 12 1 8-1 16 5 9 0 9 8-1 3-4 4 0 3 3 1 10-3 7 1 29 13 10 2 9-5 14 0 3 10 4 7 4 1 8-1 12 6 9 7 2 6 1-1 1-5 4-8 2-12 5-7 6-1 15 9 1 3-4 5 0 2 3 3 13 6 2 3 0 7 2 2 3 1 2-2 1-8 13-5 9 8 14 0 0 2-7 10 1 3 4 2 11-6 2-7 2-2 17 1 8 4 4-1 10-9 3-12-1-8 3-9 1 0 1 6 3 4 9-1 7 1 0-8-6-6-2-5 3-5 4-3 3 1 2 3-2 13 8 4 2 5-1 2-8 2-1 6-6 7 0 6 2 2 3 1 5-1 3-2 6-13 1-6 5-3 3 2 4 11 10 5 7-1 15 0 6-5 13 0 12 3 4 5 3 1 2-2-2-4 0-4 2-3 4-2 3 0 8 4 10-3 7 3 2-1 2-7 2-2 3-1 12 2 8-5 16-5 12 1 7 7 13-7 2-4 2-10 2-1 4 0 4 4 2 6 8 5 1 4 1 9-4 7-5 3-9 1-2 3 9 13 3 12 0 6-3 5-6 3-12 17-9 9 2 4 9 3 4 3-3 7-14 4 1 2 5 2 9 0-2 6-12 4-7 8-8 1-5 13 2 3 7 7 7 3 7 1 3 3-1 4-2 2-9-2-9 5-3 6 0 12 2 2 3 0 10-6 5 0 9 10 0 8 3 9-2 7-5 5-4-1-5-10-2-1-17 10-1 4 9 11 4 1 10-2 3 2 1 3zM377 106l1-3-3-2-3 4 2 1 3 0zM30 118l2-3-1-2-3-4-3 1-2 3 1 3 3 3 3-1zM548 119l0-1-1 0-2 1 3 0zM2 139l-2-2 2-3 2 2-2 3z"/><path fill="#343434" d="M535 314l-385 0 3-4 12-6 2-5-1-5-15-9-6-12-6-3-11-10-23-14-4-8 6-6 0-4-3-6-7-7 0-5-2-1-4 0-8-7-12-3-5-4 0-5 7-5 2-5-2-3-3 1-3 0-14-13 1-2 5-4-2-4-6-3-10 1-2-2-2-6-8-7-9 0-4-2-2-6 0-11 4-8-3-6-5 1-8 6-3-8-2-2-3-1-9 3 0-11 6-1 3-5-3-6-6-1 0-47 8 0 9 2 14-1 6 2 6 4 7-2 3 0 5 6-5 7 2 5 4 1 12-3 6 0 19 9 10 7 10 0 9-4 11-1 10 18 4 1 8-1 9 5 7 4 3 7 4 2 4 0 1-2 4-22 2-4 4-1 5 5 2-5 6 0 3 2 0 3-6 5 8 7 12 6 3 11 5 2 12-4 5 3 0-2-5-1-1-4 2-3 4-1 11 7 1 10 4 4 5 2 3-1 8-5 7-9 13-1 10 6 10-7 7-2 1-2-1-7 2-6 2-2 10-4 4 1 3 4-5 12 0 4 3 3 5 1 6-1 7-11 7-6 4 6 8 5-2 9 1 2 2 1 9-3 3-8 14 4 6-4 3-5 5-1 10 1 9 7 7 1 3-4-3-9 4-3 10 3 10-3 3 2 3 5 2 1 2-2 5-11 14-1 7-4 14-5 14 2 2 3 2 6 5 3 2-1 2-7 4 0 2 6 3 3 1-5-2-7 4-9 0-7 4-1 2 3 1 6 11 6 1 10-4 6-3 3-10 0-3 1-3 6 7 7 3 7-2 2-9 1-10 5-5 18 1 2 2-1 3-2 0-10 5-1 7 1 8-8 4 2 1 6-4 3-9-2 0 12-8 13-9 8 0 3 1 3 10 4 2 2-1 2-9 4-10 1-3-2-2-6-1 1-5 12 0 3 2 1 5-5 3 1 2 4 2 11-3 3-8 1-5 11-7 6 0 1 8 3 5 7 6 1 3 3-3 3-9 2-4 6-2 4 3 6 0 9 2 1 6 0 9-6 4-1 5 4 4 6-3 6-7 2-12 12-10 5-2 4 12 14 4 1 9-1 2 1 0 1zM336 62l-2 0-2-3 1-3 3-2 2 4-2 4zM542 101l3-3-5-1-3 3 2 2 3-1zM31 127l3-13-5-6-3-1-3 1-4 3 0 2 9 12 3 2zM93 215l-2-1 1-1 2 1-1 1zM540 294l-3 0-2-4 2-5 3-2 2 1 1 3-1 4-2 3z"/><path fill="#393939" d="M518 314l-366 0 3-3 12-6 1-7 0-5-15-9-6-12-7-3-10-10-19-13-3-7 2-7-1-4-11-20-18-11-10-2 0-2 4-1 2-3 1-10-3-4-7-2-6-5-1-3 3-5-5-7-6-4-9 0-4-6-9-8-9 1-4-2-1-8 1-4 2-2 4 3 8 10 4-2 1-15-4-7-10-5-5-4-12 5-13-8 4-9-1-4-4-4-6-2 0-43 8 0 7 3 17 0 3 4-4 9 4 3 5 0 6-3 7 7 5 1 6 0 8-3 5 0 7 5 11 5 1 2-2 2 0 3 4 3 5 1 4-3 12-2 7-4 8 0 12 17 3 2 8-1 11 5 5 3 3 7 4 2 5 0 3-3 1-8 4-7 0-5 1-1 1 6 2 3 10-1 16 9 2 3 0 7 2 2 6 2 11-2 18 9 10 3 11-3 8-9 8-3 5 0 8 6 4-1 9-6 4 0 7 4 1-3-4-15 2-3 9-5 3 3-3 12 2 7 6 2 9-2 3-2 5-7 3-1 4 3 6 1-2 12 4 2 12-3 8-6 7 3 10-3 6 4 4 0 2-2 1-3-7-2-2-2 1-2 3-1 3 0 13 7 7 1 6-4 1-3-3-6 2-2 9 2 9-3 3 2 2 5 4 1 4-2 3-7 4-4 11-1 7-4 13-5 12 2 5 10 7 4 6-2 3 3-1 4-6 1-2 1-1 5 0 4 4 1 10-2 3 2 1 3-2 2-17 7-3 11-2 9 1 5 10-2 1-6 2-2 3 3 0 3-4 4-2 8-12 11 2 4 8 8-4 3-7 0-3-3-2-7-3 2-7 17 0 11 2 6-2 7-2 3-9 5-6 10 0 4 3 1 9-6 3 0 2 3 0 7-6 13 4 9 0 8 1 2 3 1 8-1 6-6 4-1 4 2 3 5-2 4-9 1-3 8-5 6-11 5-3 3 1 4 7 7 4 8zM37 45l-3-1 2-2 3 1-2 2zM561 88l-5 0-3-3-2-13 2-4 11 2 4 4-1 7-6 7zM-14 101l-1 1 0-7 5 2-4 4zM207 109l0-1-1-1-3 1 4 1z"/><path fill="#3d3d3d" d="M516 314l-361 0 13-9 3-9-1-4-14-7-3-4-1-6-3-4-10-5-8-8-9-7-3-7-6-3-1-3 0-8-11-21-21-16-1-12-2-6-11-7-2-10-7-9-7-4-1-6-9-2-3-22-4-7-15-11-3 0-9 5-10-6 0-13-4-4-7-2 0-40 6 0 6 4 16 1 2 2-2 8 5 4 13 1 8 3 11 2 7-4 4 1 6 5 7 4 5 9 7 3 4 0 5-4 16-5 6-1 3 3 11 15 3 1 6-1 4 1 11 6 5 7 5 2 5 0 5-2 1-9 2-2 7 2 4-3 3 0 6 5 6 2 3 2-1 3-8 3 1 3 3 3 4 1 22-2 15 8 15 4 16-3 3-7 9-6 4 2 2 4-10 5-1 2 11 0 4-4 14-9 3 1 7 5 10-4 18-1 8 5 11 2 16-4 6-4 7 3 6-3 3 0 10 4 10-7 11 2 6-2 5-3 1-7 12-3 2 1 1 5 7 1 6-3 3-7 6-3 8 1 1 6 4-1 1-3-4-3 2-3 14-7 11 3 2 2 2 6 6 5 0 13 1 3 3 1 9 1-12 8-4 11-2 17 2 1 7 0 2 3-3 4-9 4-9 12-7 18-2 13 3 5-1 3-3 2-4-3-8 6-2 3-1 13 1 4 4 4 3-1 6-4 3 1 0 6-5 11 4 10 0 8 3 4 9 0 3 3 0 6-3 6-4 3-8 2-4 5 1 4 9 8 2 6zM561 85l-4 0-2-2-1-9 1-3 7 1 4 3-1 5-4 5zM324 94l-1-2 1 0 0 2zM23 134l-3 0-2-2-1-4 2-3 3 1 3 4 0 3-2 1zM531 172l-3 1-1-4 3 1 1 2zM535 269l-6 0-1-3 2-2 3-1 3 3-1 3z"/><path fill="#424242" d="M514 314l-353 0 10-9 3-9-2-6-4-3-11-3-2-3 0-6-5-6-10-4-8-9-7-5-2-9 2-4-1-3-4-3 1 6-2 1-3-2 1-6-6-8-8-15-13-13-5-1-3-3 0-10-3-6-10-9-1-7-5-7-3-7-9-13-6-5-2-7-9-14-15-12-13 5-7-3-1-3 1-7-1-4-6-6-7 0 0-19 7-2 7-10 6-1 4 3 0 8 3 3 18 2 22 6 3 0 5-3 13 9 5 6 9 4 7 1 5-5 11-5 5 0 5 3 8 13 1 5 3 2 3 0 2-5 4 0 4 3-1 5 18 6 6 2 8 0 10 3 9 0 10 4 6 0 16-2 5 2 7 5 20 5 34-2 4-3 4-4 9-6 9 7 11-6 8 1 6-1 2 0 5 4 16 3 9-4 13-3 7 3 8-5 8 4 4 0 10-7 12 2 38-10 5-3 0-4 4-4 4 1-1 5 1 1 11-1 10-5 1-2-1-8 2-1 3 0 7 5-1 6 6 2 2 2 2 22-4 13-4 27-9 16-8 25-7 10-8 7-2 8 1 10 5 9 3 1 4-2 3 0 0 4-5 3 0 2 7 24 4 4 6-1 4 4-1 5-2 3-11 3-4 4-3 5 1 3 11 7 2 7zM560 81l-2 1-1-2 1-5 2 0 1 2-1 4z"/><path fill="#474747" d="M502 314l-330 0 5-13 0-7-3-6-19-19-32-42-28-33-45-72-19-24-15-16-5-8-1-7 5-2 8 0 18 2 27 8 10 7 16 6 72 22 44 9 31 7 17 2 35-3 45-6 36 2 29-2 28-5 52-15 32-6 9 1 2 3 0 9-4 30-2 11-17 39-7 13-9 11-2 8 1 11 10 18 11 32 0 3-8 8-3 7 0 6 6 11zM-13 73l-2 1 0-5 4 2-2 2zM8 96l-5 0-3-2 1-9-3-9 1-2 4 1 11 13-1 5-5 3zM113 85l-5 0-5-4 6-5 6 0 4 3 0 3-6 3zM404 113l-1-2 2-1 1 2-2 1zM228 117l-3 0-1-2 2-1 2 0 1 2-1 1zM129 250l-2-2 0-2 2 1 0 3zM143 264l-2 0-3-2-1-3 1-2 4 2 2 3-1 2zM511 314l-3 0-4-6 0-2 2-1 4 2 1 3 0 4z"/><path fill="#4b4b4b" d="M495 314l-316 0 4-15-1-6-3-7-21-21-32-43-27-31-44-71-21-27-12-12-2-4 1-4 4-2 5 0 31 7 7 3 8 5 16 7 74 22 43 9 31 7 18 2 31-2 50-7 35 2 30-2 28-5 52-15 27-5 7 0 2 4 0 6-3 26-3 11-16 39-6 11-9 11-3 9 0 9 1 6 10 18 10 28-1 4-7 8-2 6 0 8 4 11zM7 94l-4 0-2-2 3-7 4 1 3 4 0 2-4 2z"/><path fill="#505050" d="M489 314l-305 0 4-15-1-7-4-8-22-23-31-42-27-31-44-70-21-28-10-10 0-3 7 0 26 6 12 8 16 6 75 23 44 9 30 7 19 2 33-2 50-7 32 2 27-1 34-6 53-15 28-5 1 4-2 17-4 21-17 40-15 23-3 11 3 13 10 18 8 26-7 11-2 6 0 10 3 10zM7 91l-2 0 1-3 3 2-2 1z"/><path fill="#545454" d="M484 314l-299 0 5-15-6-16-21-23-31-42-27-32-36-56-23-33-7-14 11 1 11 2 11 7 19 9 72 22 74 15 19 2 35-1 42-7 41 2 33-2 28-6 52-15 22-3 2 5-1 18-5 21-14 33-15 21-3 12 1 9 10 25 6 23-6 12-4 11 4 15z"/><path fill="#595959" d="M478 314l-292 0 5-15-6-17-20-22-32-43-34-41-24-39-28-41-2-8 5-2 11 3 34 17 67 22 71 14 21 2 27-1 53-5 41 0 34-2 44-10 41-13 11 0 3 7 1 11-4 21-15 33-15 23-3 11 1 10 9 24 4 22-11 25 3 14z"/><path fill="#5d5d5d" d="M473 314l-286 0 6-14-7-18-21-23-31-42-34-42-52-79 0-5 3-2 10 3 35 18 34 13 31 9 35 8 51 6 35 0 51-4 78-3 42-9 23-6 18-8 8 0 3 4 2 9-3 22-15 34-15 22-3 12 1 10 8 21 2 17 0 9-4 8-11 16 6 11 0 3z"/><path fill="#626262" d="M468 314l-280 0 6-14-7-18-18-20-34-46-34-42-52-80 3-2 8 2 35 19 33 13 32 10 34 7 52 6 40 0 126-7 15-2 43-10 23-10 7-1 3 3 2 8-2 21-14 33-15 23-3 12 0 10 7 20 0 25-4 11-5 5-9 6-2 3 1 3 9 10 0 2z"/><path fill="#666666" d="M462 314l-272 0 5-11 1-4-8-18-17-20-33-46-30-37-18-24-19-31-7-15-1-4 3 0 38 14 34 15 33 10 37 6 38 3 67 0 101-6 38-7 45-13 2 4 2 8-1 15-12 29-15 25-3 12 0 11 4 15-2 28-4 9-11 9-4 6 1 6 8 11z"/><path fill="#6b6b6b" d="M455 314l-262 0 5-10 1-5-1-6-7-13-49-68-35-43-26-40-4-8 1-3 10-2 11 2 39 18 36 12 33 6 41 3 66 0 100-6 69-14 8-1 3 6 0 12-8 26-16 32-3 18 1 17-4 24-2 6-10 10-4 9 1 7 6 9 0 2z"/><path fill="#707070" d="M450 314l-254 0 6-9 1-5-2-8-6-12-43-64-40-50-24-36-2-4 0-3 6-4 8 1 37 19 36 13 33 6 42 4 67 0 88-4 27-4 46-10 10 0 3 7-1 11-6 18-16 37-5 30-5 22-10 17-4 9 1 6 7 13z"/><path fill="#747474" d="M445 314l-246 0 6-8 2-6-2-8-6-13-34-54-49-62-22-34-2-5 0-2 4-1 6 1 33 20 36 14 26 5 50 5 78 1 81-4 25-4 38-9 12-1 3 4 0 5-4 18-19 47-12 42-12 29 0 8 8 12z"/><path fill="#797979" d="M439 314l-237 0 6-9 1-5-2-9-6-13-32-55-44-57-12-27 2-1 18 9 37 13 41 7 35 3 80 0 81-4 58-9 12 0 0 10-5 19-39 106-1 9 7 13z"/><path fill="#7d7d7d" d="M433 314l-228 0 6-9 1-6-8-21-32-57-29-37-6-11-3-13 2-1 9 0 36 8 29 3 55 4 63-1 80-4 40-5 18 3 1 8-4 17-36 99 0 10 6 13z"/><path fill="#828282" d="M427 314l-218 0 6-13-4-14-25-50-11-20-8-11-20-23-3-8 1-6 3-2 7-1 55 8 55 3 64-1 80-4 29-4 8 1 7 2 5 5-1 12-35 105-1 7 6 11 0 3z"/><path fill="#868686" d="M422 314l-211 0 6-10 1-4-2-7-5-13-21-44-12-22-7-10-19-20-2-5 1-4 2-2 4-1 80 8 73 0 101-5 24-4 9 2 6 5 0 9-28 85-6 25 0 4 6 10 0 3z"/><path fill="#8b8b8b" d="M416 314l-202 0 6-11-1-12-38-80-6-9-18-20 0-3 5-1 26 1 48 5 75 0 102-5 22-3 5 1 3 5-2 12-27 86-4 16 0 7 6 11z"/><path fill="#8f8f8f" d="M399 314l-179 0 4-10 0-9-36-75-4-28 12-2 118 0 71-2 20 1 21 3 1 2 0 10-3 21-6 20-19 51-2 8 2 10z"/><path fill="#949494" d="M385 314l-160 0 4-11 0-7-36-70-2-10 2-8 4-6 3-2 50-3 137 0 17 1 9 4 3 4 2 8-2 17-12 30-21 39 2 14z"/><path fill="#999999" d="M372 314l-142 0 4-10-1-8-33-60-6-15 1-6 5-5 9-2 42-5 45-1 50 1 40 2 18 4 4 4 2 5-2 16-8 19-6 12-19 23-6 10-1 5 4 11z"/><path fill="#9d9d9d" d="M365 314l-130 0 3-10-1-9-29-50-5-12-3-14 3-3 8-3 15-3 26-3 43-1 73 2 16 2 16 5 3 4 1 7-4 16-6 12-8 14-22 28-2 7 3 11z"/><path fill="#a2a2a2" d="M360 314l-119 0 2-11-1-8-27-47-7-16 0-10 6-4 13-4 31-3 39-2 46 1 24 2 16 3 12 5 2 3 0 8-7 21-8 14-21 26-3 6-1 6 3 10z"/><path fill="#a6a6a6" d="M354 314l-108 0 3-12-2-7-28-48-5-12 0-10 6-4 9-3 30-3 39-2 44 1 20 2 16 2 7 3 6 6 0 5-2 8-10 22-25 33-2 7 2 12z"/><path fill="#ababab" d="M350 314l-100 0 3-11-1-8-15-23-14-25-4-13 0-6 3-3 7-3 13-2 29-3 28-1 52 2 16 2 14 4 5 7-3 13-12 24-18 21-4 8-1 7 2 10z"/><path fill="#afafaf" d="M346 314l-92 0 3-10-1-8-16-25-12-23-4-12 1-6 7-5 18-4 50-3 50 2 16 3 11 4 3 3 0 4-2 13-13 25-20 25-1 7 2 10z"/><path fill="#b4b4b4" d="M342 314l-84 0 2-10-1-8-24-41-5-16 0-7 7-4 13-4 51-3 47 2 16 3 9 5 2 3 0 6-5 17-10 17-19 23 0 7 1 10z"/><path fill="#b8b8b8" d="M339 314l-78 0 3-9-1-9-24-42-4-12-1-5 2-4 5-3 10-3 49-3 46 2 12 2 9 4 2 3 1 5-3 15-11 21-18 20-1 9 2 9z"/><path fill="#bdbdbd" d="M336 314l-71 0 2-9-1-9-21-37-5-15 1-8 6-3 14-3 24-3 19 0 40 3 11 3 7 3 2 3 0 4-1 10-4 9-10 17-14 17-1 10 2 8z"/><path fill="#c2c2c2" d="M332 314l-63 0 1-9 0-9-21-37-2-12 1-7 7-4 15-3 36-2 28 2 10 2 11 6 2 3 0 7-6 16-19 29-1 9 1 9z"/><path fill="#c6c6c6" d="M328 314l-56 0 1-18-19-36-2-11 2-5 5-4 11-3 28-2 32 2 11 3 7 4 2 6-1 9-7 15-14 22 0 18z"/><path fill="#cbcbcb" d="M326 314l-51 0 0-18-17-35-1-8 2-6 5-3 13-3 26-2 25 2 9 3 5 3 2 6-1 12-8 16-10 15 1 18z"/><path fill="#cfcfcf" d="M324 314l-48 0 1-18-14-31 0-7 2-6 14-5 24-2 18 1 15 6 2 6 0 8-2 7-13 22 1 19z"/><path fill="#d4d4d4" d="M322 314l-44 0 1-18-13-29 1-5 4-5 11-4 24-1 14 1 10 5 3 4 1 7-12 25 0 20z"/><path fill="#d8d8d8" d="M320 314l-41 0 1-18-9-24-1-5 2-4 11-5 14-2 20 2 10 5 2 7-10 24 1 20z"/><path fill="#dddddd" d="M317 314l-36 0 1-18-5-12-1-8 0-7 2-3 9-3 15-2 14 3 6 4 1 10-7 19 1 17z"/><path fill="#e1e1e1" d="M314 314l-31 0 1-18-4-11-1-6 1-6 3-3 8-4 10-1 7 2 9 5 2 7-5 17 0 18z"/><path fill="#e6e6e6" d="M312 314l-27 0 0-18-4-14 1-5 3-4 8-3 7-1 8 2 7 5 1 5-4 16 0 17z"/><path fill="#ebebeb" d="M311 314l-24 0 0-14-2-16 0-4 3-3 11-4 6 1 6 4 2 7-3 13 1 16z"/><path fill="#efefef" d="M309 314l-20 0 1-13-3-14 2-5 4-3 10-1 4 2 2 3 1 6-1 9 0 16z"/><path fill="#f4f4f4" d="M307 314l-16 0 1-14-3-10 2-4 5-4 7 0 5 6-1 12 1 14-1 0z"/><path fill="#f8f8f8" d="M305 314l-12 0 1-14-2-10 6-4 5 0 3 4-1 24z"/></g></g><g transform="translate(711.40,352.50)" clip-path="url(#pc)"><g filter="url(#fF)"><rect x="-15" y="-15" width="630" height="330" fill="#000"/><path fill="#070707" d="M562 314l-348 1-69-1-2-5 2-13-4-13-3-1-10 1-6-3-4-5-4-12-6 2-9 1-2-11 2-10-2-6-3-1-9 2-5-6-4-10-8-2-5-5-9-4-1-2 1-8-3-4-8-1-11-5-3 3-2 6-2 0-1-2 0-4 7-7-2-5-6-8-3-2-8-1-3-11-3-2-7 0-5-7-9 3-1-171 39 0 2 0 2 4 3 2 9-4 8 1 6 5 7 11 7 1 10 5 5 1 5-2 5 2 2 2-5 5 4 6 2 0 6-7 6 1 10 5 12-3 6-3 2 2 0 7 3 3 3 1 3-2 4-7 8 0 2 2-2 10 8 10 1 10 3 4 11 1 8 7 8-2 4 0 12 7 10-2 8 1 9 9 3-1 6-5 12 5 7-4 4-1 6 2 6 6 3 1 12-5 7-6 18 5 7 4 7-1 14-4 5-9 4-2 8 4 10-5 11 10 6 1 4-2 3-8 9 0 5-5 4-2 6 2 4 7 16-1 16-15 13-6 8 2 3-1 4-4 4-10 5-3 8-2 8-9 4-1 9 0 8-5 14-4 8 1 12 13 10 5 5 8 6 4 2 3 0 5-5 6 1 3 6 8-3 12 4 14-4 13 1 4 9 9-7 10-1 3 3 4 8 5 1 3-8 16-9 7-8 8 1 10 3 8-6 6-1 9-4 4-7 1-4 7 2 5 10-2 5 4 2 4 0 10 5 7 1 4-1 4-8 11-7 27-11 13-1 4 1 8zM605 29l-4 0-1-3 4 1 1 2zM566 202l0-2-1-2-3 0-2 1 2 3 4 0z"/><path fill="#0b0b0b" d="M561 314l-265 1-143-1-6-8 1-8-6-18-12 1-6-3-5-16-4-8-6-1-6 5-3-2 1-11-3-7-3-2-7 2-3-1-3-4-4-12-8-1-12-8-3-10-2-4-13-4-18-22-8-3-4-9-9-3-6-6-6-3-4-5-1-127 2-21-1-10 38 0 4 12 0 4 1 2 1-6 8-5 5-2 5 1 5 3 5 11 6 8 3 1 7-2 9 2 7 10 4 3 3-1 5-6 4 0 10 4 12 0 16 8 7-2 1-5 2-1 1 2-2 5 13 13 1 19 4 5 3 0 1-6 3-1 12 6 11-3 13 8 12-1 6 1 8 7 10-3 3 0 6 4 4 8 3 2 4-4 0-10 3-2 6 2 6 8 3 1 21-11 15 3 6 5 2 0 21-6 8-10 8 4 11-6 10 10 5 1 7-1 5-7 8-1 8-6 2 1 0 5 2 2 20-1 4-2 5-7 9-8 13-5 2 2 2 4 2 1 11-12 3-9 4-2 8-1 8-11 4 0 7 2 7-1 7 2 3-2-1-6 2-2 7-3 6 2 11 12 10 6 4 9 6 2 2 3 0 3-4 3-1 4 7 12-2 11 3 14-4 13 1 4 7 10-8 11 2 4 8 6 2 3-5 14-9 7-9 10 0 18-11 7-10 1-2 5 6 5 1 4-4 3-8 2 6 6 3 6 4 3 6-1 2-7 5 0 2 4 1 12 5 8-9 15-3 16-5 13-9 13 1 11zM574 204l-2 0-1-2 1-3 2-1 3 3-3 3z"/><path fill="#101010" d="M559 314l-401 0-5-9 0-5-6-12-2-12-11 2-5-2-2-12-5-5-4-8-4-1-11 1-4-16-3-1-8 2-2-1-7-17-9-1-10-7-6-13-12-5-12-12-6-10-8-3-5-8-9-3-11-13-6-3-1-133 1-8 3-2 1-2-4-6 0-4 36 0 2 17 5 4 3-1 3-7 4-4 4-2 5 1 5 4 2 9 8 10 3 1 9-3 5 1 3 3 4 7 7 6 3-2 5-6 4-2 9 5 11 0 15 9 9 0 7 3 7 6 1 19 2 4 5 4 4 0 5-5 9 3 11-3 13 8 15-1 4 1 7 7 10-2 4 1 3 2 6 9 4 3 5-5 1-11 4-1 2 3 1 4-5 9 1 2 3 2 4-2 14-12 10-3 13-2 4 1 2 2 0 3-3 5 1 2 2 0 7-7 20-6 8-7 8 1 10-6 4 2 6 8 5 1 9-2 7-5 6-2 10 3 22-2 18-17 9-1 7 5 5 0 3-8 8-7 3-7 9-2 9-13 3 0 6 3 7-2 9 2 4-3 2-8 4-2 4 1 12 13 11 7 0 10 5 3 0 10 7 10-2 10 4 14-4 10-1 5 2 5 4 6 1 3-3 3-8 3-1 7-6 6-1 4 10 6 2-1 2-7 2-2 5 2 1 3-3 11-7 5-11 14-2 15-8 7-9 2-3 3 0 6 5 5-1 2-9 1-3 3 0 3 6 4 7 9 6 2 10 1 4 13-6 16-3 14-3 2-6 0-2 3 0 4 4 6-8 13 3 8-1 2z"/><path fill="#141414" d="M558 314l-260 1-136-1-3-7 0-3 4-4 8-1 1-1-1-2-9 0-8-3-4-6 0-9-2-5-3-1-9 3-4-1-2-3-1-9-5-6-3-7-4-2-9 2-3-1-5-16-11 1-2-1-4-10-2-9-9 2-9-5-3-4-5-10-20-14-10-14-9-4-4-8-9-2-11-13-7-4 0-131 0-5 4-1 2-3-4-12 16 0 2 3 4 1 8-3 2 3 3 14 3 4 3 1 5-2 7-10 7-1 4 4 1 8 10 14 2 0 9-5 4 0 3 2 5 9 7 7 3 0 6-9 4-2 9 5 11 0 9 6 0 6 2 2 18-2 5 2 3 5 0 17 8 9 5 0 6-4 9 2 9-4 4 2 11 9 10-4 5 1 9 8 10-2 5 1 12 17 2 1 5-2 9 0 10-6 7-7 14-2 7-3 3 2-4 6 1 3 2 2 4 0 11-9 11-1 13-7 9 2 4-6 5-3 4 2 3 6 7 2 11-2 12-7 10 3 8-2 14-1 4-2 7-8 9-6 6-1 9 6 6-1 4-11 9-4 8-6 10-14 7 2 8-3 9 2 4-3 5-8 5 0 11 11 10 7-1 9 5 6 2 9 6 8-2 10 4 14-4 10 0 16-9 8 0 8-5 9 1 3 9 8 1 5-1 5-2 4-7 7 0 9-2 5-6 6-8 2-3 2-3 11-6 5-2 5 1 3 7 5 6 8 14 6 1 7 2 5 0 5-5 18-3 2-6 1-4 6 0 5 3 7-7 11 4 7 0 3zM162 291l1-2-1-2-5 0 0 2 2 3 3-1z"/><path fill="#191919" d="M556 314l-391 0-2-8 10-5 2-3-1-2-6-5-4-8-9-2-7-11-4 0-8 2-3-1-2-10-9-15-4-2-9 3-3-1-3-10 1-10-1-2-2 0-7 6-4 0-2-1-4-7 0-5 2-2 6-1 0-3-9-4-9 6-7-2-5-6-4-9-7-6-2-6-11-3-12-14-8-5-1-4 3-4 0-2-16 0-11-12-8-6 0-132 6 2 4 7 3-1-5-8-3-17 9 0 5 6 10 2 8 13 4 3 4 1 9-4 8 0 8 9 6 12 6 6 9 0-1-2-6-7 1-4 4-2 5 2 5 14 5 3 6 6 3-1 1-9 4-8 3 0 7 5 10-1 5 5 3 8 3 3 22-1 3 1 1 3 0 16 10 10 5 0 7-3 9 1 6-3 3-1 12 13 5 3 3-1 3-6 5-1 10 10 9-3 6 2 5 6 5 10 3 2 7-3 10-1 17-9 13-1 7 6 5 0 10-9 12 0 11-6 4 0 6 4 10 0 8-3 18-3 11-6 10 3 8-3 13 0 5-2 7-9 11-5 4 0 8 5 8-1 3-3 0-6 2-3 5-2 6 2 15-20 15-4 8 1 10-9 4 1 18 15 0 9 5 6 2 10 5 6-1 9 5 14-4 8-1 15-10 11 0 9-4 10 1 3 6 6 2 12-2 3-9 6 3 8-1 6-5 4-8 2-4 3-4 11-6 7-3 5 1 3 14 14 11 6 0 8 6 7-5 16-8 4-4 6-1 7 2 7-1 3-11 7 9 6 2 4-1 1z"/><path fill="#1e1e1e" d="M555 314l-386 0-1-6 8-8 1-3-8-8-3-9-9-1-6-9-3-2-13 1-8-21-3-4-6-3-8 4-3-2-2-9 2-9-2-3-6-1-4 5-3 2-5-4-1-4 1-3 9-1 0-3-2-3-12-5-8 6-6-1-4-5-2-5 2-4 7-4-1-2-4-1-7 4-4-2-2-3 1-6-2-3-10-2-4-4-5-1-10-11 1-8-2-4-3-1-15 2-19-20 0-126 3 1 8 9 3 0 2-3-6-12-2-14 2 0 4 7 15 6 7 9 5 4 4 0 12-2 5 1 4 4 6 11 8 10 14 4 7 0 7 6 5 1 4-3-1-9 3-6 8 4 10-1 10 15 3 1 11-1 10 3 1 5 0 6-2 2-5 0-1 2 3 2 6 0 11 10 5 0 8-3 9 2 8-5 3 2 6 9 10 6 4-2 3-5 3-1 13 13 3 0 3-5 7 2 9 14 3 2 18-5 15-6 13-1 8 4 5 0 4-3 6-6 12 0 10-6 4 1 6 4 13-1 8-3 17-3 10-6 10 3 8-4 14 0 4-2 6-7 5-3 10-2 8 4 15-3 2-2-2-7 2-2 3 2 1 6 3 1 9-12 8 3 4-2 5-5 0-4-11 0-1-4 3-3 14-4 8 0 11-8 5 1 14 14 0 8 6 8-1 10 5 4-1 6 5 8 2 7-2 3-5 2 3 9-1 9-11 12 1 9-4 12 5 7 0 6 3 6-2 2-7 2-6 6 7 5 1 5-4 5-8 1-4 3-5 13-9 9-2 5 8 10 15 12 3 14 5 2 1 2-3 11-9 5-7 17-5 8-5 2-8-3-5 4 3 5 8 0 12 4 2 2 1 3zM76 24l-3 0 0-3 3 0 0 3z"/><path fill="#222222" d="M553 314l-382 0 3-8 12-13-2-3-3-2-3 4-4-1-3-3-2-8-2-3-9-1-9-9-13-1-6-12-1-7-8-8-4-3-6 4-3-1-1-6 2-8-9-8-5-8-15-8-7 8-3 0-3-3-2-4 1-4 10-3-2-6-7-3-8 3-2 0-1-10-2-4-9-1-5-6-6 1-3-2-3-6-4-13-4-1-11 1-5-1-19-20 0-121 3 1 7 9 5-1 3-4-5-12 0-2 2-1 13 6 14 12 13-3 5 0 4 5 1 8 6 3 8 10 21 5 10 6 9-1 7 3 4 0 1-4-9-7-2-4 1-1 14-1 2 2 5 9 5 5 13-2 8 4 1 6-6 2-2 3 2 4 3 2 8 1 11 9 12-3 8 2 9-2 8 8 10 6 4-1 6-4 2 0 12 13 4-1 6-3 3 0 8 12 5 3 8-4 36-8 14 2 4-2 7-7 10 1 11-5 9 4 9-1 10 2 4-4 9-3 8-2 9-5 9 3 9-4 16-2 4-2 5-6 4-2 6 0 8 4 10-4 18-2 3-2 5-8 11 0 8-5 3-6 0-8 2-2 8-2 9-7 5 1 3 3 3 7 6 3 2 8 4 6-1 12 5 11 4 5 2 4-1 3-8 4 6 9 0 6-1 4-12 12 2 11-5 12 3 10 0 6-6 6-8 4-2 3 0 3 3 3 9-1 2 1 0 3-3 2-6-1-2 1-6 8-3 11-11 10-3 6 7 5 5 6 12 10 3 17 6 4 0 3-2 4-7 4-8 16-8 5-13 5-5 4 7 7 19 3 3 2 0 2zM92 224l-3-1 0-3 4 1-1 3z"/><path fill="#272727" d="M551 314l-27 0-1-3-2-1-2 4-9 0-337 0 1-5 3-4 10-4 1-7-3-5-5-3-4 2-3-1-3-9-4-3-7-1-8-8-13-2-6-10-2-8-13-14-3-1-2 4-2 0 0-3 2-2-2-5-9-9-5-7-11-7-12-16-4-2-9 0-4-14-9 0-7-6-7 1-8-18-4-2-12 1-5-1-10-10-4-8-5-2 0-117 11 10 5-2 4-4 1-3-3-6 1-1 11 6 12 9 11-4 6 0 3 4-1 9 10 3 7 12 7-1 14 4 9 6 11-1 10 4 9-7 11 6 9-3 5 1 3 2 0 3-5 3-1 4 2 5 4 3 9 2 9 7 12-2 16 3 20 11 12-3 11 11 6 0 8-2 8 11 9 4 2-1 2-5 4-2 11-2 10 1 13-5 13 2 11-10 9 1 11-3 3 1 3 5 7-4 5-1 10 6 4 1 11-7 5 0 5-7 4-3 3 0 7 2 9-5 16-1 5-3 7-7 5 0 8 6 3 1 8-7 21-3 7-9 9 0 7-3 6-6 4-11 7-4 6-6 4 0 3 4-3 8 4 2 7 0 2 2 5 11-2 11 5 12 6 6 0 3-2 1-10 0-1 2 10 11 1 5-3 2-11-5-3 1 0 6 6 7-3 10 3 6 0 3-6 10 2 15-3 4-8 5-4 5 0 4 3 7-7 9 1 6-1 4-20 15-2 5 1 1 6 0 6 1 6 7 10 8 4 11 0 9 5 6-6 4-3 9-5 8-13 7-16 5-2 2-1 3 2 3 5 1 6 5 19 2 2 2zM119 42l-5-2 0-3 5-1 1 3-1 3zM72 207l-3-1-1-3 0-2 2-2 3 1 2 2-1 3-2 2zM522 226l0-2-2 2 2 0z"/><path fill="#2b2b2b" d="M516 314l-341 0 3-6 7-2 5-4-1-8-4-6-10-5-9-9-7-3-7-7-13-4-9-15-17-17-17-20-10-7-10-14-5-4-10-2-2-14-11-1-6-4-8-1-7-14-2-2-5-1-10 1-5-1-10-10-4-9-6-2 0-75 0-7 2-2-2-3 0-26 10 10 5-1 11-8 5 0 4 3 4 9 2 1 9-8 5-1 3 0 1 5-3 9 11 0 4 2 3 6 0 8 1 2 10-5 7 3 7 1 9 7 10-2 12 3 9-5 11 6 8-4 3 0 2 3-4 4-1 5 4 6 6 5 6 1 9 6 12-1 4 2 10 0 24 12 11-2 10 10 15-1 6 8 12 7 3-1 2-7 2-2 11-2 11 1 12-5 14 3 10-11 8 2 10-3 3 6 6 3 3-1 3-6 3-2 3 1 7 5 8 1 16-7 8-8 9 1 10-7 16-2 5-2 6-6 4 1 5 7 5 1 5-2 6-7 21-3 7-9 10-2 9-4 4-4 3-8 3-2 5 0 7 3 11 2 4 8 1 13 5 14 3 5-2 1-6-1-4 2 1 7 8 7 0 2-9-4-4 1-2 3 0 4 5 10-1 3-3 3-8-1-2 4 0 6 9 16 2 10-2 3-7 5-7 12 0 3 3 4 0 2-7 3-3 3 0 5 4 3 0 3-7 6-13 7-8 15 2 3 4 1 7-7 7 0 5 6 11 9 3 12-1 20-3 7-4 5-15 7-8 1-8 6-2 5 2 6 0 6zM552 30l-1 0 0-2 3-2 0 3-2 1zM-3 117l0-3-2 0 0 3 2 0zM309 117l1-1-1-1-4 0 1 2 3 0zM543 146l1-3-2 0-1 2 2 1zM535 238l1-4-3 0-1 3 1 2 2-1z"/><path fill="#303030" d="M514 314l-337 0 1-3 10-6 3-3 0-5-4-7-17-14-33-23-6-8-29-30-5-7-9-7-13-17-4-2-8-2-1-5 2-8-1-3-14-1-13-5-3-3-4-9-4-3-5-1-10 1-7-3-6-6-2-4 1-4 4-9-1-5-2-2-5 2-1 8-6 1 0-29 2-1 2-3-1-2-3-1 0-41 4-1 1-3-2-11-3-2 0-15 3 2 5 8 4 0 13-7 5-1 3 2 3 10 3 3 7 1 7 3 11-3 4 1 4 5-1 11 2 5 3 0 9-5 3 6 2 1 2 0 4-6 3 1 5 8 4 2 3 0 3-5 3-1 13 3 9-3 6 4 9 1 7 15-1 2-7 2-1 2 2 2 8-1 9 4 20-1 2 2 1 3 3 1 10-3 15 4 10 6 13 2 2 3 0 7 4 4 3-1 1-5 2-1 9-1 5 6 16 9 4-2 5-9 10-2 5 1 5 3 0 6 2 2 4 1 5 0 2-2 0-3-10-4 0-2 2-3 5-2 6 0 10 5 3 0 2-2 2-8 3-3 6 1 9-2 6 6 15 7 5-8 16 0 20-9 14-5 7-6 11-1 11-3 13 5 8-2 6-3 3-6 21-4 7-9 10-2 10-4 9-12 20 4 3 5-3 6 8 14 1 6-2 3-7 4 0 9-5 7 1 15-3 2-7 0-1 1 0 14 3 8 8 8 0 7-2 3-7 3-5 11-8 0-5 2 0 7 3 7 1 17-3 3-12 6-8 18 1 3 9 5 7 7 4 7 1 10 13 7 2 3 0 3-4 7-15 8-4 0-1-3 8-6 0-5-4 0-9 7-2 10-10 11 4 7 0 5zM38 25l-3-1 0-3 3-3 3 0 0 4-3 3zM492 86l1-3-1-4-2-3-3 0-1 2 2 7 1 1 3 0zM546 149l1-5-1-4-3-1-3 1-2 3 0 3 5 3 3 0zM550 256l-5 0-5-5-1-10 2-6 4 1 5 5 2 11-2 4z"/><path fill="#343434" d="M-15 23l0-9 2 2 1 4-1 2-2 1zM513 314l-335 0 14-12 0-4-4-8-17-14-34-24-18-21-16-16-6-8-8-6-14-19-11-4-1-4 4-8-1-3-10-4-4-8-5 1-5 4-3 0-3-2-5-8-3-3-8-3-10 2-9-6-4-6 4-13-2-8-4-1-6 3-1 6-3 2 0-25 4-2 2-4-1-3-5-1 0-38 6-1 3-2-3-10 0-6 14-8 8-1 7 11 5 3 12 3 12-3 5 1 2 4-2 13 2 5 11-1 10 4 6-2 4 4 10 4 2-1 2-6 2-2 16 4 6 4 12-3 3 3 2 7-8 7 0 4 4 2 9 1 15 4 2 2-1 5 2 3 4-1 2-7 11 3 9-2 13 0 12 7 10 3 4 9 5 5 4 0 6-7 3-1 6 6 8 1 7 7 3 1 4-2 6-9 9-3 5 2 4 8 5 3 8-1 3-3 0-6-7-3 2-2 7 0 11 4 16 1 2-2-2-8 5-2 4 1 16 11 3 0 8-9 16-1 15-7 9-2 11-6 5-6 17-3 16 7 8-4 4 0 5 8 4 1 4-5-2-11 1-2 5-3 11-3 6-7 21-5 13 5 5-6 3 0 11 13 1 7-8 6 0 10-6 9 2 8-1 4-3 1-8-3-4 3 0 3 4 6 1 13-2 3-7 2-3 9 9 7 1 4-7 6-8 3-1 11-7 7 10 5 0 10-2 3-11 7-8 20 2 3 17 13 3 6 2 12 11 5 2 5-2 5-4 1-2-1-4-7-4 0-13 9-1 10-4 4-6 4-8 0-4 2 0 3 3 4 10-1 3 3 1 5zM551 49l-8-1 0-2 1-3 4-1 13 3-6 4-4 0zM31 57l1-4-1-2-2 0-1 4 3 2zM339 104l-3-1 1-3 3 2-1 2zM56 147l2-3-1-3-6-2-4-5-4 1-2 4 1 3 7 2 4 4 3-1zM555 152l-4-1-1-3 0-5 2-2 4 1 2 4 0 4-3 2zM517 179l0-3-2-1 0 4 2 0zM512 197l2-2-1-5-5-4-2 3 0 4 6 4z"/><path fill="#393939" d="M511 314l-333 0 12-9 3-3 0-4-4-8-17-14-35-25-18-21-16-15-5-8-8-7-15-21-9-3 0-2 3-5 1-4-3-4-9-6 0-4 2-8-1-3-6-4-6-6-6 3-6 11-12-5-3-3 0-8 3-10-1-3-4 3-2 8-4 7 0 5-6-1-5-3-2-3 4-14-2-10-3-1-13 4 0-14 6-3 2-5-3-4-5-2 0-35 9 2 3-1 2-3-6-11 0-5 3-3 9-5 4 1 5 4 9 9-1 7 3 6 1 8 4 6 3-1 2-6-4-11 0-6 20-5 3 4-2 17 1 4 15 0 13 6 10 0 8 5 2-1 3-8 2-2 10 2 9 7 11-3 3 3-1 3-6 5-5 7-6 1 1 2 3 0 3-3 9 4 9 0 11 3 3 2 2 7 5 3 9-6 7 0 7 4 8-5 7 0 10 7 8 3 3 6 9 8 5-1 8-5 6 4 8 1 6 6 6 2 3-1 5-10 9-3 3 1 5 8 4 2 13-2 4-8 2-1 10 2 5 5 2 1 13-6 1-3-2-5 2-2 6 2 13 13 11-14 24-1 6-7 22-8 4-6 10-2 6 0 10 5 5 5 2 6 1-9 5-5 4 1 5 7 4 0 3-1 3-5 0-12 4-3 10-2 6-8 16-4 10 2 6 5 8 10 3 13-1 4-6 7 2 9-2 1-4-2-3 0-5 2-2 3 0 4 4 8 0 7-2 3-5-1-3 1 1 9-3 7 1 3 8 3 1 3-6 6-8-2-3 1 3 11-2 5-3 0-6-5-5 1-1 7-4 4-2 6 2 6 7 4 2-1 2-8 2-2 9 1 3 4-3 7-9 4-2 2-4 14-5 9 3 3 7 5 4 5 7 5 2 5 1 13-5 7-9 5-2 11-2 3-6 3-11 2-5 4 7 11 2 1 7-3 2 1 1 3zM566 71l-2-1 1-2 2 1-1 2zM111 76l2-3-2-2-4 0-4 3 8 2zM463 100l-5-4-3 1 3 3 5 0zM555 149l-2-1 0-3 3 1-1 3z"/><path fill="#3d3d3d" d="M495 314l-316 0 12-9 2-3 0-4-4-9-52-39-17-21-16-14-5-8-8-7-10-14-4-11-4-4-3-10-9-7 1-14-7-7-4-7-6-4-3 6-7 10-3 2-6-2-2-2-1-4 3-12 3-2 8-1 1-1-11-11-7 1-8-3-6-9-4 1-3 7-2 2-12 4 0-10 7-4 3-5-3-6-7-2 0-29 3 2 4 0 7-3 3-4-1-5-6-8 0-5 9-4 12 6 3 4 0 7 4 7 1 9 3 4 4 3 4 0 2-7 0-5-3-8 0-4 17-6 1 4-3 17 2 4 19 0 5 3 6 7 7 2 6 5 19 2 3-1 1-9-9-3-2-2 2-3 5 0 3 2 2 5 10 5-3 3-8 4 0 4 4 3 6 2 19-1 9 2 2 2 4 8 6 4 10-6 5 0 7 6 5 8 4 2 3-1 0-2-4-10 3-3 4-1 11 7 5 7 15 9 6 0 7-5 6 4 6 0 6 6 10 3 4-1 2-9 4-3 6 1 9 7 13 0 4-2 4-7 4-1 6 3 1 6 6 1 5-1 15-11 6 3 3 7 7 0 2-2 6-11 5-3 9 1 7 4 10 3 2-1-4-8 2-5 15-6 9-1 2-2 1-5 5-2 6 1 3 4-1 3-3 5 1 3 5 4 6 0 13-6 0-9 2-3 3 0 6 6 4 1 4-2 4-5-1-9 1-4 4-2 10-2 5-8 14-4 11 3 6 6 8 14 1 8-3 3-5 2-3 8-10 6 0 6 2 11-1 2-6 3-2 3 1 8-3 9 4 8-7 1-3 3 0 3 3 7-1 3-2 0-7-3-6 1-6 19 2 7 8 6 1 3-3 15-6 9 3 4 9 6 2 4-1 6 1 2 6-2 2 1 3 8 0 6-4 7-7 3-3 3-2 10-2 3-15 3-7 3-6 0-2 1 0 5 10 5 4 5-1 1zM526 79l1-2-2-2-5 2 3 3 3-1zM6 133l-4-1-1-3 3-9 0-10 1-2 2-1 6 5 1 3-3 13-5 5zM523 201l-3 0-2-3 1-5 3-2 4 1 2 3-1 4-4 2z"/><path fill="#424242" d="M493 314l-313 0 14-11 0-5-5-11-52-38-17-21-15-13-5-9-8-6-10-14-3-11-5-7-4-10-7-6 1-10-1-4-18-22-10-6-7-8-13-1-8-10-8 1-6-10-8-3 0-20 17-6 5-5-10-14 0-4 6-2 12 5 2 4-2 8 5 4 2 8 3 6 10 6 4-1 1-11-3-14 3-2 8-2-3 18 4 5 21 1 11 10 13 6 17 2 7 6 5 3 10 2 11-2 8 2 4 2 5 8 6 5 4-1 6-6 4 0 5 4 4 8 6 4 4 0 3-1 0-10 1-1 3-1 6 3 5 7 9 3 8 6 6 0 7-2 6 3 23 8 5-2 2-9 3-2 4 1 10 5 10 0 8 1 22 0 13-3 3-6 4-1 3 2 0 5 7 2 11-3 1-1-1-5 1-3 4-4 5-1 4 1 6 4 9 3 4 1 4-2 1-3-4-7 0-3 13-5 8 2 8-2 10 8 8 1 14-6 3-10 5 3 5 1 10-5 6 0 7-4 16-1 2-4-1-6-3-2-9-2 0-6 3-3 9-2 12 3 6 6 2 10 5 3 1 6-3 2-5-3-2 1-1 10-2 4-4 0-5-3-3 2 0 4 3 6 1 10-9 12 2 8-2 7 0 7-6 7-1 8-8 0-3 2-6 15 0 12 10 9-3 14-4 5-9 0-3 3 2 3 7 2 12 6 2 4-2 6 1 4 4 4 7 0 2 3 0 5-3 5-7 2-3 3-2 4 0 8-2 3-21 5-6-1-3 2-2 5 1 3 11 6 2 4zM507 83l-4 1-3-6 1-5 4-2 6 0 2 3-2 6-4 3zM-9 105l-6 1 0-7 10-4 2 1 0 5-6 4zM438 109l-2-2-1 2 1 1 2-1zM8 119l0-5 1 2-1 3zM328 122l-4 1-2-2 0-3 2-3 3 0 3 2-2 5zM31 137l-3-1-2-2 2-10 3-3 5 1 3 2 0 4-4 7-4 2zM7 127l-1 1-1-2 2-4 1 2-1 3zM523 198l-2-2 2-2 2 2-2 2z"/><path fill="#474747" d="M11 40l-3 1-3-2-4-4 0-3 12 3 1 3-3 2zM488 314l-306 0 12-10 1-5-4-12-17-14-15-8-6-7-15-9-10-11-6-11-17-13-3-9-9-6-4-7-5-6-3-11-7-13-1-9-5 0-3-2 0-13-10-15-9-10-10-4-6-9-5-2-10 0-6-10-9-1-7-7-8-3 0-14 16-6 9-5 5 0 2 1 8 12 11 8 5-1 2-7 2-1 18 2 7-1 10 10 14 6 14 1 12 8 13 5 9-3 8 1 17 17 6 0 4-6 3-2 3 3 4 9 7 3 7 1 6-2 0-7 2-1 6 6 12 4 8 6 25 4 19 5 6-2 2-7 2-2 12 4 11-1 7 4 11-2 40-1 14-2 4-3-1-8 5-4 4 1 15 8 4 0 5-1 3-3 0-3-3-8 4-3 4-1 3 2 1 3-2 8 5 1 7-1 3-3-4-5 2-3 4 1 6 4 8 1 16-5 6-8 8 1 8-3 8 0 9-5 9 0 4 4-2 11 4 6 1 4-2 4-9 3-3 9 1 6 5 6 0 12-5 7-2 6-11 4-5 15-2 18 1 1 4-1 4 3-1 14-2 2-3 1-15-1-4 3-2 4 0 4 2 2 7-2 21 9 0 3-5 2 5 7 6 12-6 12 0 7-1 3-19 5-8-1-5 4 0 9 10 9 1 1-1 0zM541 96l-4-1-5-4 3-9 0-8-4-5-9-3-1-2 2-2 6-2 6 0 6 2 3 4 1 4-2 4-1 20-1 2zM506 79l-3 0-1-3 1-2 3-1 3 2-3 4zM-10 103l-5 1 0-3 7-1 0 2-2 1zM32 132l0-3 2-1 0 2-2 2zM523 269l-3-1-2-3 1-3 4-2 2 1 1 3-1 4-2 1z"/><path fill="#4b4b4b" d="M481 314l-289 0 5-3 4-8 0-7-4-8-26-23-21-16-3-1-3 4-7-5-6-9 1-5-17-16-15-22-9-20-7 1-7-10-1-7 6-3-13-21-21-24-5-5-3-1-1-2-15-12-7-10-4-13-6-7-1-3 5-3 5 1 6 10 7 5 1 5 20-1 13 0 3-7 4-1 3 3 3 7 4 3 18 6 4-2 4 0 3 2 0 4 2 1 13 4 10 6 37 14 21 8 14 0 7 5 2-2-2-6 4-2 8 1 7 5 7 9 15 2 4 0 6-3 5 1 4 3 31 0 49-7 32-3 9-2 0-3-4-5 1-3 2-1 10 4 4 5 5 0 50-11 42-14 15-2 1 2-2 11 9 2 1 2-2 2-8-1-2 1-6 13-1 4 5 7 3 7 4 4 1 4-7 11-6 2-5-1-2 2-4 26-3 10-4 7-11 11-2 7 1 8 5 6 1 0 5-6 10 5 0 3-5 4 0 2 13 10 3 4 1 5-4 5-9 7 3 4 6 0-1 1-9 3-12-2-6 2-5 5 0 10 6 11zM-2 78l-5-2-4-4 0-5 4-3 3 0 2 2 1 9-1 3zM539 67l-4 1-3-4 6 0 1 3zM52 73l-4-1-1-4 7 0 0 2-2 3zM144 101l-5-1-1-3 2-3 6 0 5 3 0 2-7 2zM427 107l-2-1 0-2 2 0 0 3zM311 134l-10-4-8 2-3-4 3-2 8 2 10-1 2 3-2 4zM504 159l1-2-1-1-1 2 1 1z"/><path fill="#505050" d="M16 61l-4 0-1-3 3 0 2 3zM472 314l-269 0 4-9 1-6-1-6-5-9-10-10-46-36-27-27-15-22-15-34-15-24-11-14-13-13-17-13-1-3 0-3 4-2 8-1 19 0 30 9 60 24 50 18 32 6 30 3 41 0 43-6 44-5 68-15 43-13 5 0 1 2 0 4-11 25-3 14-3 41-3 9-3 7-11 11-3 6-1 6 1 8 5 8 24 18 2 5-5 6-22 10-6 5-2 5-1 6 1 6 4 8-1 1zM397 117l-2-1 3 0-1 1zM227 126l-5 0-4-4 3-2 5 1 3 3-2 2zM512 161l-2-1 2-7-5-7 1-4 2-2 3 2 1 7 4 3-6 9z"/><path fill="#545454" d="M468 314l-261 0 3-8 1-7-1-6-5-10-28-26-29-22-25-26-16-23-16-34-15-24-11-14-24-24 0-2 5-2 12 0 15 4 27 9 51 21 51 18 31 6 30 2 45 0 42-6 24-1 21-3 68-15 40-11 0 2-8 22-2 13-3 14-1 27-2 9-4 6-10 11-3 6-2 8 2 9 4 8 22 20 0 2-23 14-5 6-5 12 2 7 4 7-1 1z"/><path fill="#595959" d="M467 314l-260 0 4-8 1-7-2-7-4-9-23-22-35-28-23-25-17-23-16-34-15-23-10-14-20-19-2-5 4-2 8 0 14 4 78 32 38 12 23 6 41 5 57 0 43-5 45-4 52-10 23-6 25-8 3 0 1 6-6 14-4 19-2 36-4 11-12 13-3 7-2 7 1 9 3 6 9 10 8 14-6 7-14 11-7 13 0 4 6 13z"/><path fill="#5d5d5d" d="M466 314l-258 0 3-7 1-8-1-7-5-10-28-27-30-23-26-29-14-19-10-24-11-20-19-26-19-19-1-3 4-2 14 3 25 13 26 11 56 19 37 8 41 4 57 0 102-9 55-11 27-10 5-1 1 3-5 13-3 20-3 36-4 11-12 13-3 7-1 7 1 11 4 8 7 7 4 12-5 9-11 10-8 14 0 4 7 12z"/><path fill="#626262" d="M465 314l-257 0 4-7 1-8-1-7-5-10-29-28-29-22-26-30-14-19-10-23-11-19-19-28-18-18 0-2 5 0 9 3 31 17 33 13 31 10 34 8 52 6 62 0 104-8 15-2 44-10 25-10-6 27-4 42-4 11-12 13-4 14 1 11 5 9 5 6 2 11-3 10-10 9-9 15 0 4 8 12z"/><path fill="#666666" d="M462 314l-253 0 3-7 1-8-1-7-5-10-28-28-30-25-33-41-7-10-13-28-21-32-5-11 2 0 28 10 39 16 36 11 33 5 38 3 67 0 100-6 39-7 37-10-4 59-4 11-12 14-4 14 1 12 8 16-2 16-19 26 1 6 8 11z"/><path fill="#6b6b6b" d="M455 314l-246 0 3-7 2-8-2-7-4-10-56-57-36-45-18-33-13-20-3-9 6-2 11 2 39 18 36 12 33 6 41 3 66 0 100-6 68-13 4 9 0 8-3 31-4 11-10 15-5 14-1 14 3 18-2 10-14 22-2 6 1 7 6 9 0 2z"/><path fill="#707070" d="M450 314l-240 0 3-7 1-8-1-8-5-9-19-20-69-85-21-36-10-14-1-6 6-2 8 1 35 19 36 13 33 6 42 4 67 0 88-4 27-4 38-9 10 0 5 4 2 6-5 30-4 11-12 24-5 19-1 24-13 25-3 8 1 5 7 13z"/><path fill="#747474" d="M445 314l-235 0 3-7 2-8-2-7-4-10-18-20-39-55-31-38-18-30-10-13-1-4 4-1 6 1 33 20 36 14 26 5 50 5 78 1 81-4 25-4 38-9 11 1 2 3 1 5-7 26-16 38-10 39-13 32 0 8 8 12z"/><path fill="#797979" d="M439 314l-228 0 3-7 1-8-1-8-5-9-14-16-17-28-20-29-26-33-12-20-7-17 2-1 18 9 37 13 41 7 35 3 80 0 81-4 58-9 12 0 0 10-5 19-15 36-24 70-1 9 7 13z"/><path fill="#7d7d7d" d="M433 314l-222 0 3-7 2-8-2-8-4-10-12-14-26-47-29-36-6-11-3-13 2-1 9 0 36 8 29 3 55 4 63-1 80-4 40-5 18 3 1 8-4 17-36 99 0 10 6 13z"/><path fill="#828282" d="M427 314l-215 0 3-7 2-8-2-8-4-10-10-16-27-49-27-33-3-8 1-6 3-2 7-1 55 8 55 3 64-1 80-4 29-4 8 1 7 2 5 5-1 12-35 105-1 7 6 11 0 3z"/><path fill="#868686" d="M422 314l-209 0 5-10 1-5-2-7-5-12-34-66-7-10-19-20-2-5 1-4 2-2 4-1 80 8 73 0 101-5 24-4 9 2 6 5 0 9-28 85-6 25 0 4 6 10 0 3z"/><path fill="#8b8b8b" d="M416 314l-201 0 5-11 0-6-2-7-37-79-6-9-18-20 0-3 5-1 26 1 48 5 75 0 102-5 22-3 5 1 3 5-2 12-27 86-4 16 0 7 6 11z"/><path fill="#8f8f8f" d="M399 314l-179 0 4-10 0-9-36-75-4-28 12-2 118 0 71-2 20 1 21 3 1 2 0 10-3 21-6 20-19 51-2 8 2 10z"/><path fill="#949494" d="M385 314l-160 0 4-11 0-7-36-70-2-10 2-8 4-6 3-2 50-3 137 0 17 1 9 4 3 4 2 8-2 17-12 30-21 39 2 14z"/><path fill="#999999" d="M372 314l-142 0 4-10-1-8-33-60-6-15 1-6 5-5 9-2 42-5 45-1 50 1 40 2 18 4 4 4 2 5-2 16-8 19-6 12-19 23-6 10-1 5 4 11z"/><path fill="#9d9d9d" d="M365 314l-130 0 3-10-1-9-29-50-5-12-3-14 3-3 8-3 15-3 26-3 43-1 73 2 16 2 16 5 3 4 1 7-4 16-6 12-8 14-22 28-2 7 3 11z"/><path fill="#a2a2a2" d="M360 314l-119 0 2-11-1-8-27-47-7-16 0-10 6-4 13-4 31-3 39-2 46 1 24 2 16 3 12 5 2 3 0 8-7 21-8 14-21 26-3 6-1 6 3 10z"/><path fill="#a6a6a6" d="M354 314l-108 0 3-12-2-7-28-48-5-12 0-10 6-4 9-3 30-3 39-2 44 1 20 2 16 2 7 3 6 6 0 5-2 8-10 22-25 33-2 7 2 12z"/><path fill="#ababab" d="M350 314l-100 0 3-11-1-8-15-23-14-25-4-13 0-6 3-3 7-3 13-2 29-3 28-1 52 2 16 2 14 4 5 7-3 13-12 24-18 21-4 8-1 7 2 10z"/><path fill="#afafaf" d="M346 314l-92 0 3-10-1-8-16-25-12-23-4-12 1-6 7-5 18-4 50-3 50 2 16 3 11 4 3 3 0 4-2 13-13 25-20 25-1 7 2 10z"/><path fill="#b4b4b4" d="M342 314l-84 0 2-10-1-8-24-41-5-16 0-7 7-4 13-4 51-3 47 2 16 3 9 5 2 3 0 6-5 17-10 17-19 23 0 7 1 10z"/><path fill="#b8b8b8" d="M339 314l-78 0 3-9-1-9-24-42-4-12-1-5 2-4 5-3 10-3 49-3 46 2 12 2 9 4 2 3 1 5-3 15-11 21-18 20-1 9 2 9z"/><path fill="#bdbdbd" d="M336 314l-71 0 2-9-1-9-21-37-5-15 1-8 6-3 14-3 24-3 19 0 40 3 11 3 7 3 2 3 0 4-1 10-4 9-10 17-14 17-1 10 2 8z"/><path fill="#c2c2c2" d="M332 314l-63 0 1-9 0-9-21-37-2-12 1-7 7-4 15-3 36-2 28 2 10 2 11 6 2 3 0 7-6 16-19 29-1 9 1 9z"/><path fill="#c6c6c6" d="M328 314l-56 0 1-18-19-36-2-11 2-5 5-4 11-3 28-2 32 2 11 3 7 4 2 6-1 9-7 15-14 22 0 18z"/><path fill="#cbcbcb" d="M326 314l-51 0 0-18-17-35-1-8 2-6 5-3 13-3 26-2 25 2 9 3 5 3 2 6-1 12-8 16-10 15 1 18z"/><path fill="#cfcfcf" d="M324 314l-48 0 1-18-14-31 0-7 2-6 14-5 24-2 18 1 15 6 2 6 0 8-2 7-13 22 1 19z"/><path fill="#d4d4d4" d="M322 314l-44 0 1-18-13-29 1-5 4-5 11-4 24-1 14 1 10 5 3 4 1 7-12 25 0 20z"/><path fill="#d8d8d8" d="M320 314l-41 0 1-18-9-24-1-5 2-4 11-5 14-2 20 2 10 5 2 7-10 24 1 20z"/><path fill="#dddddd" d="M317 314l-36 0 1-18-5-12-1-8 0-7 2-3 9-3 15-2 14 3 6 4 1 10-7 19 1 17z"/><path fill="#e1e1e1" d="M314 314l-31 0 1-18-4-11-1-6 1-6 3-3 8-4 10-1 7 2 9 5 2 7-5 17 0 18z"/><path fill="#e6e6e6" d="M312 314l-27 0 0-18-4-14 1-5 3-4 8-3 7-1 8 2 7 5 1 5-4 16 0 17z"/><path fill="#ebebeb" d="M311 314l-24 0 0-14-2-16 0-4 3-3 11-4 6 1 6 4 2 7-3 13 1 16z"/><path fill="#efefef" d="M309 314l-20 0 1-13-3-14 2-5 4-3 10-1 4 2 2 3 1 6-1 9 0 16z"/><path fill="#f4f4f4" d="M307 314l-16 0 1-14-3-10 2-4 5-4 7 0 5 6-1 12 1 14-1 0z"/><path fill="#f8f8f8" d="M305 314l-12 0 1-14-2-10 6-4 5 0 3 4-1 24z"/></g></g><g transform="translate(711.40,691.60)" clip-path="url(#pc)"><g filter="url(#fG)"><rect x="-15" y="-15" width="630" height="330" fill="#000"/><path fill="#070707" d="M554 314l-439 1-72-1 3-11-2-10 7-7 1-3-4-6-9-2-3-6 3-17 4-6-16-10-11-13-17-8-5-4-4-6-5-2 0-20 3-7 0-2-3-2-1-6 1-114 7 4 4-1 2-4-1-7 1-3 9-2 5-5 16-7 9-17 10 0 6-4 2 1 1 2-4 8 5 9 3 2 16-8 15 3 5-8 3-1 3 1 6 5 9 3 8 1 5-4 5-1 6 2 6 4 3 0 8-4 1-3-2-5 7-8 3-1 9 0 13 6 14-1 8 5 9-4 5 0 18 11 2 6-1 10 7 14 2 1 3-2-1-7 2-5 7-7 3-19 24-14 10 1 4-14 7 0 3 6 15 4 11-3 8 6 8-4 4 1 7 9 8 2 3 2 4 10 6 6 1 10 4 8 3 1 5-3 3 0 5 6 2 0 15-6-1-7 2-3 6-1 10 0 5-8 2-8 2-2 7 1 2 5 2 2 5-1 7-14 10-8 8 0 20-7 4 1 6 5 10-4 20 6 4 3 7 11 11 3 1 3-2 6 2 3 6 3 15 2 3 1-1 4-5 8 8 5 3 4 1 4-4 8 10 7 1 6-1 25-7 6-2 4 0 6 3 7 0 3-6 8-4 10-6 7-9 5-1 9-4 6 1 5 7 3 2 5-2 2-9 5-10 11-1 6 2 2 5 2-1 4-3 2-13 3-6 11-2 13 3 13-1 2-7 3 2 6 6 9-6 12 2 2 13 2 4 6-1 3-8 8zM-13 222l-2 0 0-6 4 2-2 4z"/><path fill="#0b0b0b" d="M551 314l-260 1-246-1 4-11-1-9 6-8 1-4-4-6-3-2-8-1-2-5 4-15 2-2 7-1 2-3-1-3-4-3-8 0-6-3-7-5-7-11-20-8-5-4-3-6-7-2 0-19 4-2 2-6-1-3-5-1-1-5 0-75 1-14 2-5-2-5 0-12 7 3 3-1 4-4 1-8 1-2 10-3 5-5 16-6 4-13 3-4 6 2 6 6 5 8 3 2 4-1 14-7 15 4 2-2 3-6 2-2 7 5 16 5 7 5 1-1 1-7 3-2 6 2 7 5 10-4 12-10 3-6 2 0 15 3 12 1 8 6 3 0 8-5 5 0 5 5 7 2 4 3 1 5-1 9 6 7 3 8 5 2 2-2 1-12 8-7 1-17 2-4 22-11 7 2 5-1 3-5-1-7 1-5 2 0 2 0 1 9 2 1 9-1 10 2 8-1 9 5 8-4 4 1 5 8 9 2 2 2 4 11 6 7 6 21 9-2 4 5 3 1 14-8 11 0 0-4-5-5 0-3 5-1 11 1 9-15 8 5 9-3 2-2 3-11 10-8 9-1 18-6 4 2 7 7 10-7 19 4 4 4 7 11 9 4 0 2-2 4 1 3 16 8 10 0 0 3-5 4-1 9 9 1 3 5-1 3-6 6 0 2 16 7 0 6 0 7-8-3-3 3 1 4 6 3 1 6 0 4-6 5-2 3 0 8 3 7 0 3-5 7-4 10-15 12-6 14 2 8 7 6-10 6-8 9-3 8 1 9-10 5-7 11-2 15 2 10-3 1-8-2-2 1 0 3 5 6 3 8 5 5-5 10 0 6 3 1 11 0 5 4-1 4-7 5-2 3z"/><path fill="#101010" d="M546 314l-247 1-251-1 3-9 2-12 5-8 0-3-5-10-11-2-1-2 4-12 6-3 3-3 1-4-1-3-5-4-9 0-4-1-8-7-7-12-23-8-3-6 3-8-1-3-2 0-4 7-6 0 0-16 5-2 3-9-2-4-6-1-1-4 1-75 4-19-1-3-3-3 0-8 7 3 3 0 5-6 3-10 12-1 9-9 10 0 6-2 1-3-4-4-1-2 2-5 2-2 9 5 5 8 3 2 6 0 15-7 16 5 3-2 3-5 19 5 18 11 24-14 14-11 5-2 15 3 5 4 9 3 4-1 7-5 4 0 5 9 7 2 0 12 9 6 5 11 6 2 3-4 0-12 9-6 1-19 2-4 15-6 17-2 8-5 11-2 17 1 12 6 6-6 3 0 4 9 9 2 2 2 4 13 6 7 3 8 1 4-2 6 2 4 4 2 7-2 10 3 3-1 5-7 5-3 5 0 7 4 2-13 9-2 8-10 9 0 10-3 2-3 2-11 9-7 9-1 16-6 5 2 6 8 4-1 9-6 18 3 13 18 3 8 13 8 6 5 1 5-1 8 1 2 4 1 6-2 2 2-1 3-6 6 0 5 10 3 9 4 0 4 0 3-9-1-4 4 1 6 5 4 2 4-1 4-5 4-1 3 0 9 3 9-6 7-3 10-15 11-7 13 0 6 5 12-7 5-8 10-2 6 0 10-8 4-8 12-3 20-8 1-3 4 0 3 6 7 2 8 3 5-3 12 1 5 4 3 11-2 4 3-2 3-8 4-3 4zM355 13l1-4-3-2-1 5 3 1zM139 31l-4-2-1-3 1-2 3 0 3 3 0 3-2 1z"/><path fill="#141414" d="M541 314l-242 1-248-1 6-22 7-7-8-15-8-3-2-3 1-6 6-4 3-5 0-7-7-5-9 0-5-2-6-6-5-9-3-3-18-5-4-2-2-5 3-9-3-5-3-1-3 8-6 2 0-14 7 0 2-12-2-5-7-1-1-5 1-73 5-8 1-17 8-7 6-13 11 1 10-9 8-1 11-4 0-2-2-6 1-1 5 1 4 7 4 2 16-3 6-4 5 0 11 6 5-1 6-4 5-1 23 15 4 0 10-4 7-9 26-15 10 3 7 5 12 2 4-1 6-5 3 1 1 3 0 4-7 5 2 7 3 1 4-5 2 0 2 9 9 0 4 2 5 12 9 4 3-4 0-13 2-2 8-4-1-12 3-12 14-4 18-3 6-4 4-1 5 1 4 4 10-5 11 2 4 3 1 8 4 4 8-2 4-4 5 1 1 5 14 18 1 5-3 6 6 9 3 1 9 0 12 3 4-2 1-8 5-4 5 1 6 8 2 0 2-3 2-14 8-3 6-8 10-1 12-5 2-3 0-10 7-6 25-7 4 2 4 7 2 2 6-2 9-6 17 2 11 17 4 9 13 8 7 7 0 6-6 7 10 4 1 13 11 1 8 6-8 2-5 6 1 6 6 8-6 7 0 13 2 7-6 7 0 9-6 6-10 6-5 9-5 4 0 3 5 11 0 4-12 15-2 6-1 10-7 3-5 9-5 5 1 9-2 7-9 4-3 4 0 4 6 7 1 8 3 6-2 13 5 11-1 7zM367 19l0-2-3 0 1 2 2 0z"/><path fill="#191919" d="M539 314l-485 0 2-14 4-8 4-2 8 3 3-4-1-3-10-5-7-15-8-3 0-3 9-11 1-6-3-4-7-4-10-1-3-1-5-6-6-10-4-3-8-3-10 0-3-2-2-4 4-10-7-10 0-15-3-3-7 0 0-73 6-9 2-11 11-24 4-4 10 1 9-7 13-4 9 1 18-4 7 2 7-7 5 1 7 5 8 2 6 6 2-1 3-3-3-6 1-2 6 6 10 2 8 5 6 0 10-3 7-11 12-8 13-5 10 6 21 4 4 14 4 4 9 2 8-2 4 1 2 5-1 9 6 2 4 5 2 1 3-3 3-5 1-16 10-3 0-5-1-10 2-8 7-1 6-5 18-3 10-5 3 1 5 6 8-2 6 2 4-3 4 0 2 8 5 5 22 5 9 11 1 4-3 7 9 11 3 2 9-1 12 4 9-4-2-8 4-3 5 2 3 8 5-1 3-4 1-13 9-3 5-7 17-5 6-3 2-4-1-9 6-6 25-5 3 2 2 7 3 2 6-3 11-7 15 3 2 3-6 2-2 4 0 3 4 0 5-4 4 1 9 16 10 6 9 9-1 6-8 5 1 5 11 2 2 15 9-1 4 2-6 10 0 6 3 8-3 6 0 14 1 6-5 7 0 9-4 5-10 7-6 8-6 5-1 4 5 9 1 5-12 16-3 14-6 3-5 10-7 6 2 8-1 5-10 7-3 4 1 4 5 8 1 8 3 5-3 13 4 12 1 6zM-12 198l-3 1 0-11 4 1 2 2-1 4-2 3z"/><path fill="#1e1e1e" d="M537 314l-480 0 1-13 3-6 4-2 8 3 3-2 1-5-1-5-8-2-3-3-6-14-5-4 0-3 8-11 1-4-5-5-9-5-12-3-4-7-6-7-1-7-2-2-19 2-4-1-1-3 3-10-6-11-1-14-3-4-8 0 0-17 1-5-1-5 0-41 4-4 5-10 2-8 5-7 1-9 3-9 4-3 9 2 11-9 11-4 10 3 6-3 8-2 7 3 4 0 3-1 3-5 2-2 8 6 8 2 7 7 16-5 4 1 7 5 17-2 4-3 2-8 3-3 10-7 12-2 7 3 15 1 7 2 3 4 2 10 6 5 12 3 5-3 3 1 1 4-6 3 0 5 13 10 4 1 5-2 5-8 0-15 3-1 7 0 2-1-2-17 1-4 8-3 5-5 18-5 8-4 2 1 5 7 8-1 13 2 10 9 7 1 8 5 5 1 8 7 1 3-3 7 6 6 5 7 3 1 10 0 7 5 3 0 14-4 9-1 4-2 3-6 1-9 1-3 5-1 10 0 1-7 2-2 15-5 5-4 1-4-2-8 5-5 23-3 5 8 5 1 16-10 6 1 3 4-5 11 4 1 12-4 3 1 9 13 17 15-1 4-8 4 2 10 2 1 8 1 2 13 3 2 6 0-2 6 1 13-2 6 2 11-3 7 1 5-4 5 2 11-4 4-8 4-8 11-7 5-1 4 5 11-1 3-4 9-6 7-3 13-6 3-5 12-8 5 0 3 3 7-1 3-10 7-3 4 1 5 6 9 1 8 2 5-3 12 5 18zM295 27l4-2 1-3-1-3-4-2-3 2-1 4 1 3 3 1zM373 63l-3-9 0-18-2-4-2 0-3 4 2 9-3 9 1 3 6 5 4 1zM425 53l0-2 1 1-1 1zM-15 197l0-8 3 2 1 2-1 3-3 1z"/><path fill="#222222" d="M535 314l-476 0 2-15 3-2 4 1 3 3-1 5 2 1 5-11 3-8-1-7-9 0-4-3-3-5-1-9-4-6 1-4 7-7 1-6-20-12-6-2-4-6-6-5-1-8-4-4-4-1-6 3-13 0 1-12-5-10-3-16-2-3-9 0 0-12 4-10-4-11 0-17 1-5-1-8 5-5 5-9 7-6-1-6 5-9-2-7 2-7 2-3 3 0 8 5 6-8 7-5 7-3 4 0 8 4 6-4 5-1 9 4 14-6 12 4 5 6 4 2 15-5 11 5 20-1 11-4 1-5-2-5 7-8 9 0 11 2 12-1 5 1 4 3 3 11 2 3 5 3 11 4 5 11 11 9 6 1 5-2 6-8 1-15 10 0 3-3-2-19 10-4 5 8 7-1 4-5-2-9 12-5 7 7 9-2 12 2 10 9 10 2 1 3 0 6 1 7-2 12 8 11 9 2 4-1-1-3-7-9 1-3 2-1 6 3 5 9 12 0 8 5 3 0 13-3 7 0 6-3 7-8 2-11 14 0 2-2 1-7 2-3 12-3 5-3 4-6-2-9 3-4 6-1 6 1 2 2 1 6 3 1 16-2 14-10 5 0 1 4-7 8 1 4 7 2 11-3 4 0 9 11 6 5 2 5 7 4-1 3-8 2-1 3 5 14 2 1 7 0 2 11 7 6 1 10-3 8 3 11-3 6-11 4 1 8-5 6-1 4 3 7 0 3-6 9-7 4-2 3 0 24-7 8-2 11-7 4-3 13-11 6 2 12-7 4-7-6-5 1-2 2 1 4 8 3-1 10 8 9 0 9 3 6-2 10 4 15 0 3zM585 145l-2-1-1-4 2-4 3-1 3 2 0 4-2 3-3 1zM529 225l2-2-1-4-2-1-3 0-1 2 1 3 4 2z"/><path fill="#272727" d="M534 314l-473 0 3-5 5 3 6-4 9-28-3-3-11 2-3-2-2-4-1-10-2-6 6-6 2-9 0-3-10-4-16-11-10-9-2-8-5-4-5-2-8 3-8-1-1-11-5-9-3-16-3-3-9-1 0-8 3-4 3-9-3-22 2-16 9-14 8-8-2-8 5-8-4-6 1-6 2-2 3 0 5 8 3 1 3-3 3-9 7-6 7-2 14 6 7 6 9-4 6-6 5-1 6 2 8-2 7 6 4 1 14-4 11 5 9-2 23 2 4-4 1-15 2-3 30-1 4 1 4 3 1 9 2 3 7 5 11 4 6 12 11 9 6 1 7-3 6-8 2-14 10-1 4-3 1-4-2-8 2-6 3 0 4 6 9-3 4-3 3-10 5-3 9 5 10-3 10 2 4 2 7 7 8 2 2 14-1 12 4 9 3 4 14 3 13-6 5-1 3 1 4 5 3 1 13-4 8 1 3-1 9-8 8-13 13-3 2-9 3-3 12-2 11-8 32-7 12-9 3 0 0 3-7 6 0 4 2 3 10 4 7-4 6 0 4 3 10 11 1 7-3 8 4 8 2 10 3 3 5 1 5 8 6 7 0 6-4 6 4 13-1 3-3 2-11 0-3 3 0 2 5 6-7 12 3 11-4 7-9 6-2 14-7 4 0 3 5 2 1 2-7 6 0 11-3 2-6-2 1 15-2 4-3 2-4 0-4-9-4-3-3 1-1 6 6 8 1 10-3 1-12-1-3 2-1 3 0 7 8 4-2 8 7 2 5 5 0 4-2 5-9 7 2 2 8-2 1 10 5 17zM492 11l-4 1-1-2 4-2 2 1-1 2zM381 59l-3-1 0-3 3 1 0 3z"/><path fill="#2b2b2b" d="M532 314l-459 0 4-6 5-12 2-10 3-7-1-3-4-2-11 3-4-4 0-13 4-7 1-15-2-2-8-2-8-5-8-9 1-4-1-3-2-1-4 2-2-1-4-7-8-5-4-2-9 4-5-2-2-10-5-11-4-15-2-2-10-2 0-3 3-4 5-12-3-21 3-16 6-6 4-9 6-7-1-8 2-4 5-5 4-1 3 1 4 4 2 0 1-3-3-6 2-8 5-7 5-3 3 0 5 4 6 2 7 7 3 1 12-3 5-5 7 1 8-5 12 6 5 0 9-4 9 6 11-3 24 2 3-1 2-3 2-14 2-4 27-1 4 3-3 11 8 2 18 7 3 3 4 12 12 8 6 1 6-2 4-4 5-9 2-10 9-1 4-2 6-10 14-9 5-10 4-1 9 3 12-3 10 3 7 8 6 4 4 10-1 13 7 13 15 4 17-7 3 1 4 5 3 1 13-4 12 0 20-21 11-4 4-10 15-4 22-10 21-4 6 8 17 10 3-2 0-7 5-1 12 13 0 5-4 10 5 7 2 11 3 3 7 4 10 11-1 5-6 4 7 14-3 4-11-1-5 5 0 4 4 6-5 7-2 7 0 3 3 4 0 3-3 4-6 2-2 3-2 5 0 8-7 3-2 3 1 9-3 7-10 7 0 2 3 7 0 10-4 2-6-10-5-1-3 0-2 3 0 5 5 9 1 6-3 1-12 1-4 6 0 7 6 6 0 8 10 2 3 4-1 6-10 7-2 3 3 3 8 2 7 21zM11 60l-3-2 2-3 2 2-1 3z"/><path fill="#303030" d="M530 314l-453 0 7-18 1-9 6-7-8-10-1-7-2 1-6 8-2 1-2-1 0-10 4-8-1-7 1-7-1-4-3-3-6-1-4-2-1-3 1-5-1-4-16-12-12-4-9-6-7 5-5-1-2-3 0-6 3-6-8-5-6-17-8-2-1-2 7-17-2-22 2-3 5-1 2-2 1-19 1-4 7-8 0-10 3-3 4-1 8 4 4-1 1-4-1-9 4-6 1-5 2-2 3 1 2 2 0 3-3 3 4 4 2-1 0-6 3-1 4 1 6 6 4 1 13-2 6-3 6-1 7-4 16 4 10-3 1 2-4 8 1 3 4 1 7-7 9-5 13 2 16 0 5-7 2-13 3-2 8-1 13 2-1 11 1 3 12 1 17 6 3 8-1 10 7 0 11 5 6 1 6-3 3-3 7-10 1-9 11-2 6-2 4-10 12-9 5-10 4 0 8 4 12-4 10 3 14 17 1 4 0 12 4 11 4 5 14 4 18-8 3 1 3 5 3 1 13-4 13 1 22-23 11-4 4-9 14-3 9 2 12-12 14-4 6 0 5 7 18 10 5 0 5-4 2 0 5 3 2 3 0 4-4 12 5 6 3 11 10 8 8 10-2 2-8 0-3 3 3 5 8 6 3 6-4 3-9-3-5 6-1 5 3 7-7 17 2 7-8 4-5 15-5 2-4 7 2 9-1 4-11 10-1 3 4 6 0 4-2 1-9-6-6 0-2 4 0 6 4 9 0 4-2 1-12 1-4 8 0 7 6 8 0 7 3 2 8 1 3 3-2 5-12 8-1 3 12 7 7 15 1 3-1 0zM282 68l2-4-3-2-2 1-1 3 1 2 3 0z"/><path fill="#343434" d="M529 314l-449 0 2-10 5-6 0-10 3-3 6 0 0-2-2-5-7-8-1-10-2-1-8 0-1-11 1-8-1-4-4-5-6-3-4-12-8-5-10-10-9 0-7-3-2-3-1-7-9-7-10-2-3-5-3-12-9-4 7-16-2-20 10-7 1-7-1-7 0-6 8-12 0-9 4-2 8 3 4 0 4-5 0-10 3-1 5 3 4 0 4-1 3-5 9 5 8-2 14-1 2 1 3 6 3 1 1-2-2-5 1-3 3-3 4 0 12 3 5 8 7 3 5-2 7-9 4-2 5 0 7 3 9-2 8 3 3-3 6-10 0-9 4-2 7-1 7 2 0 10 2 3 17 3 13 4 2 4 0 5-6 9 0 3 14-1 12 4 11 0 8-11 6-5-1-6 1-2 4-1 4 2-8 7 3 5 5 2 4-2 1-4-2-7 8-3 1-2-2-8 1-4 13-10 5-8 8 4 14-5 5 1 5 3 7 11 7 7-1 13 7 14 5 5 11 6 9-7 9-4 3 1 3 6 2 1 15-6 14 3 6-9 6-7 7-3 4-6 12-4 8-9 7-2 8 6 14-13 8-1 6-6 4 1 3 6 9 8 6 0 8 4 10-3 3 0 2 4-5 14 7 7 2 10 10 12-5 6 3 13-7 16 0 12-7 19-5 5-2 9-8 7-6 10 4 9-1 4-10 8-3 8-8 0-4 3 0 10 2 10-3 1-6 0-8-6-3 3 3 8-2 8 7 13 1 8 3 2 8 1 3 3-4 5-23 12-1 3 3 1 10-3 5 2 4 4-2 7 9 2 4 4 0 3zM584 110l-2-3 3 1-1 2zM540 160l0-2-2 1 0 2 2-1zM14 199l-3-1-1-2 1-4 2-1 3 1 1 2 0 3-3 2zM501 283l0-4-3 0-1 3 4 1zM97 303l0-5-4 1-1 2 2 2 2 1 1-1z"/><path fill="#393939" d="M527 314l-445 0 1-7 3-4 3 1 7 4 3-1 2-10-2-7-1-9-4-9-4-5 0-7-3-3-7-2-3-5-1-4 2-6-4-11 2-7-2-1-5 1-2-1-4-6-7-5-10-12-6-1-7 2-4-2-2-4 2-6-8-13-2-1-5 5-8-1-3-4-3-14-7-3 4-8 1-6-1-19 9-5 2-4 1-7-1-9 0-5 6-9 2-8 2-1 8 2 4-1 4-4 2-8 1-1 7 1 10-3 7 1 11-2 6 1 10 7 5 1 5-3 1-2-4-6 4-2 6 2 4 5 5 4 9 2 7-3 6-9 4-2 4 1 6 5 6-4 4 0 3 2 2 5 3 1 3-3 4-12 7-7 0-5 3-2 5 2 1 8 3 4 16 4 10 0 5 3 1 7-7 9 0 3 2 3 10-1 8 0 15 4 6 5 3-1 2-2 1-11 3-4 3-1 8 4 4-1 3-3 2-8 6-6-2-11 3-5 15-11 7 1 14-5 6 1 5 4 4 11 7 6 0 10 7 16 17 17 2-1 6-10 8-4 3 1 1 8 2 3 18-11 4 0 12 5 6 0-2-7 2-5 7-7 9-1 0-6 2-2 10-2 5 6 4 0 0-2-3-4-1-4 3-5 4-3 4 1 6 7 2 0 8-10 20-8 8 6 5 6 7 0 7 4 13-3 0 4-4 11 7 9 0 6 5 8 0 7 5 16-4 10-4 25-5 12-6 7-1 8-11 7-3 7-1 6 4 7 0 4-11 7-4 5-7 3-2 3 0 19-5 1-8-6-4 1-2 2 2 11-1 7 7 13 0 9 3 2 10 2 1 3-5 4-7 2-2-1-4-6-4 0-6 3-2 5 1 11 1 2 5 2 10-4 4 1 2 3 0 13 9-2 4 2 0 3zM540 164l4-5-1-3-2-1-4 2-2 3 1 3 4 1zM94 293l-4 0 0-4 5 1 0 2-1 1z"/><path fill="#3d3d3d" d="M511 314l-427 0 1-5 2-2 11 4 4-4 1-12-5-20 3-7-1-5-5-6-15-6-2-4 4-6-6-11 3-8-4-4-7-1-8-7-6-14-12-3-5-6-9-6-8-11-3 0-5 6-4 0-3-3-2-8 0-10-3-8 0-9-2-13 2-2 10-6 2-11 4-6-4-7 7-14 10 0 4-3 6-9 15-4 7 1 11-3 20 10 5 0 11-4 14 4 16-5 0-6 3-2 4 2 1 6 3 2 4-1 2-6 3-2 3 2 1 5 5 1 7-4 1-9 3-4 7-2 8 3 10 2 6 5 8-2 5 1 2 3 0 3-7 9 1 7 3 4 10-3 17 2 5 2 4 5 4 1 4-2 5-7 1-9 11 1 7-5 2-6 5-7-1-12 3-5 11-7 8-1 17-6 5 2 3 3 1 5-1 8 3 3 6 1 0 9 10 18 15 17 4 2 2-1 3-10 6-4 2 1 4 12 2 1 15-6 4-8 18 5 7 0 2-2 1-3-5-5 0-3 5-7 3-1 11 1 2-2-3-6 3-2 4 0 4 6 4 1 5-1 4-3 0-2-7-7 2-5 5-1 6 10 3 0 2-2 3-8 3-3 12-5 10-1 5 3 5 7 8 1 7 4 9-1-3 11 5 7 0 6 5 8 0 7 5 8 3 8-5 10-3 26-5 11-9 8-8-2-5 3-2 3 0 4 4 6-2 15 3 9-3 2-6 1-5 7-8 7-2 3 1 8-1 6-2 1-9-4-4 1-2 3 1 12-2 8 7 9 2 6-3 8-11 5-4 5 1 13 1 3 5 2 13-2 3 1 0 16zM31 119l1-2-2-2-1 2 2 2zM514 279l-5 0-1-4 4-1 5 0 1 2-4 3zM525 314l-7 0 4-3 3 1 1 2-1 0z"/><path fill="#424242" d="M509 314l-409 0 3-7 2-10-4-20 2-7-1-4-3-8-9-8-1-8-10-9 0-3 3-5 0-3-7-6-13-8-6-14-12-2-6-7-9-6-10-12-8-5-1 1 2 5 0 4-2 1-3-1-2-6 4-5-7-15 0-8-2-12 3-3 16-7 4 1 6 5 12 3 0-2-9-11-3-1-10 4-4-3 0-5 4-8-3-7 1-3 4-6 3 0 2 3 1 0 13-17 14-4 7 1 8-3 4 0 6 5 19 6 11-3 9 2 22-3 11 1 7-2 9 0 6-2 3-3 2-11 3-2 3-1 7 3 10 1 3 2 5 8 5 4 4 20 11-5 9 3 9-3 4 2 6 6 5 1 5-3 10-13 10-4 4-4 7-12-1-13 2-4 8-5 9-1 18-7 4 1 3 4 0 4-3 5 1 3 14 17 9 17 13 16 4 2 5-2 2-10 4-2 4 4 0 7 3 2 16-5 12-6 15 1 5-1 5-4 1-4-1-4-6-2 3-5 2-1 11 3 7-4 11-1 17-9 2-3 1-7 3-3 12-6 9 0 4 3 4 6 10 2 9 6 1 10 3 3 6 14 0 7 7 8 3 7-6 14-3 21-4 12-5 4-13 3-5 5-1 4 4 10-3 12-9 17-11 11 1 11-2 1-10-1-4 2-2 2 1 12-2 11 7 7 1 6-2 6-11 5-4 6-1 3 2 12 2 3 5 2 12-1 3 1 1 4-1 10zM483 48l-4-2 1-4 2 1 2 2-1 3zM318 59l3-3-2-3-3-1-4 1 0 4 3 2 3 0zM219 64l-3 0-1-1 0-3 2-1 4 1-2 4zM289 89l0-2-1-1-5 2 3 2 3-1zM558 120l2-3-3-3-2 1-2 2 1 3 4 0zM94 314l-7 0 1-3 2-1 5 4-1 0z"/><path fill="#474747" d="M508 314l-406 0 6-19-5-16 2-9-4-13-8-8-1-9-8-4-3-3 0-3 3-6-1-3-7-8-3-7-7 0-2-1-3-9-4-4-12-2-6-7-10-6-8-11-11-10-5-10 0-7-3-9 0-4 4-3 15-2 18 8 4-1 2-3 0-4-7-5-4-9-12 3-3-1 0-3 5-10 6-6 5-10 6-9 6-2 8-1 1 2 0 8 4 4 2-3 0-10 7-5 3 0 5 5 14 6 7 8 12-9 8 1 13-1 9-2 10 1 24-5 3-3 3-10 4-2 6 2 9 0 3 2 4 8 8 9 1 8-2 7 4 4 3-1 8-6 10 3 8-4 3 1 5 5 5 2 6 0 9-6 6 4 7 1 5-2 1-3-3-3-9-1-2-4 3-3 10-6 7-11 1-5-2-10 1-4 7-4 10-1 18-8 3 1 3 3-1 3-3 5 1 4 8 14 8 6 8 15 8 9 5 9 6 1 8-4-1-6 2-3 3 3-1 6 5 3 18-5 12-7 14 2 6-2 8-5 4-5 8 0 5-7 16-10 10-4 3-3 1-8 2-2 11-5 8 0 7 8 10 2 7 6 0 6-5 6 2 9 2 1 6-2 3 1 2 5-2 6 1 2 10 8 2 6-6 9-7 3-3 4-1 11-3 4 7 10-1 5-17 8-5 5 0 4 3 9 0 5-11 23-13 14 0 7-5 0-6 2-4 4 0 13-3 12 2 4 5 4 1 3-2 6-9 3-5 9 1 16 2 3 7 3 13-1 2 4-1 9zM318 61l4-3 0-4-5-4-4 0-4 4 0 3 4 3 5 1z"/><path fill="#4b4b4b" d="M506 314l-402 0 6-15 2-7 0-2-5-4-2-5 3-10-6-15-7-9 0-9-9-3-2-3 2-10-8-9-2-12-2-2-7 1-10-10-11-1-6-7-11-7-9-14 0-2 3-3-1-2-2 0-2 3-4-2-4-3-2-5 2-3 10 0 3-5-1-4-2-1-7 3-4-1-4-3-2-5 4-3 12-1 7 3 7 1 7 4 4-2 3-5 0-6-1-2-5-1-3-3 0-3 2-6-5-2-11 4-1-3 3-6 6-6 5-10 6-8 5-2 3 1 4 9 3 4 3 0 3-5 1-10 4-4 3 1 3 5 8 0 5 3 3 3 3 10 2 2 15-13 14-1 7 1 8-3 10 1 9-3 16-2 3-2 3-10 2-2 15 1 3 2 3 7 9 9 1 6-5 7 2 3 5 4 4 0 9-6 11 4 5-5 2 0 6 5 6 2 6 0 8-3 12 2 6-2 5-3-2-5-10-3-1-2 1-2 10-6 7-13 1-4-3-9 1-4 6-4 10 0 18-8 3 3-3 8 7 12 2 8 7 3 3 3 8 14 6 8 5 10 4 1 12-3 8 3 8-4 12-3 10-6 16 2 18-9 6-1 6-8 12-9 19-9 3-3 0-6 3-3 6-3 6 0 7 8 10 1 4 4 2 5-6 7 3 12 2 2 7 2 0 5 4 6 3 3 6 2 2 4-3 4-10 7-5 13-3 5 0 4 5 9 0 3-16 11-3 4 0 5 3 8 0 5-10 21-4 5-12 10-5 6-6 4-2 3-1 14-3 12 4 13-1 1-6 1-2 2 0 7-3 7 1 14 2 4 10 4 11-1 1 4-1 7zM320 62l4-3 1-4-6-6-6 0-7 5 1 3 3 3 6 2 4 0zM56 112l-1-3-4 1 2 3 3-1z"/><path fill="#505050" d="M505 314l-400 0 3-7 6-9 2-10-2-3-5-3 2-9-5-11 0-11-6-2-3-3 2-7 0-3-12-4 0-11-7-10 0-19-2-1-6 4-4 0-11-7-9-1-8-8-10-5-5-9 0-4 4-2 8 5 4 0-3-9-9 1-6-7 0-3 3-14 2-2 4 0 9 6-2 9 1 3 3 0 5-2 2-4-6-6 7-17 9-4 6-14-1-2-2 0-4 6-11 0-10-5-7-1-1-1 9-15 8 2 5 0 8 5 3-2 6-12 7 2 5-4 4 2 2 3-1 1-7 2 1 5 7 3 5 4 6 0 3-1 4-7 7-5 12-2 6 6 3-1 7-8 10 2 10-4 18-3 2-2 3-9 3-1 12 2 13 13 1 6-5 6-1 3 10 8 5 0 8-6 12 7 8-3 16 3 8-3 11 0 11-3 4-3-3-6-7-5 6-4 8-14 3 0 9 4 4 0 5-3 4-5-1-3-11-7-12 5-3-5 1-5 6-3 8 2 6-5 9-2 1 0 0 7 7 13-3 17 1 3 3 1 9-7 2 0 3 3 5 11 6 7 3 10 3 4 3 1 13-5 3 1 4 5 2 0 7-6 14-3 10-8 13 3 27-10 6-8 7-6 9-6 16-5 7-12 4-3 4 0 7 9 9-1 5 3 0 3-5 3-1 3 4 15 2 3 6 4 7 10 1 5-8 22-5 7 0 5 4 7 0 4-6 6-8 6-3 4 0 5 3 10-1 5-4 6-7 15-27 24-1 15-5 14 1 8-6 7 1 8-3 7 1 17 3 2 13 5 7-1 1 9zM15 133l-6 0-3-4 4-2 7 0 2 3-4 3zM44 171l3-4-6-1 1 4 2 1z"/><path fill="#545454" d="M334 51l-7 0-8-5-1-4 3-4 4-2 4 1 6 11-1 3zM307 48l-4-1 0-4 2-3 4-1 3 4-5 5zM501 314l-394 0 2-6 7-9 4-9-12-28 2-11-1-9-7-8-10-3-2-2-1-9-7-9 0-26-3-1-6 7-5 1-11-7-9-1-4-6 4-6 6-4 3 1 3 9 10-2 2-2-1-3-25-10-2-4 0-3 7-6 4-6-1-3-6-5 3-10 3-4 10-4 5-12 0-4-4-8 3-9 2-2 4 1 4 7 8 9 13-1 7-3 6 4 3 0 16-9 10-10 11 3 9-7 20-2 3-3 1-7 2-1 12 4 9 7 3 4-1 3-9 7-7-2-6 2-2 3 3 3 5 0 6-3 17 9 4 0 8-5 4 2 7 6 7-1 8-4 12 5 6-4 10-1 17-6 1-4-4-7-1-3 8-14 4-1 10 4 14-8 3 4-1 12 6 9 3 2 4 0 0-2-4-4 0-3 4-4 5-1 2 4 1 6 9 8 0 12 7 6 3 0 7-6 5-2 3 2 2 5 2 1 6 0 7-3 7 2 9-1 12 6 3-2-3-7-1-6-6-2 0-3 2-1 5 4 4 0 13-7 12-1 5-3 5-9 11-9 7-4 16-5 6-8 5-1 5 7 8 4 5 10 3 10 11 11 2 8-6 20-6 9 1 5 3 8 0 3-5 6-9 6-2 4 2 19-4 5-6 15-17 14-11 11-1 16-5 11-1 10-5 6 1 9-2 7 1 9-2 9 3 3 11 4 9 7 1 1-1 0zM316 88l2-8-3-5-2 1-1 4 1 7 3 1zM122 92l-6-3-1-2 1-2 4-1 3 1 1 5-2 2zM55 102l-8 0-9-5-1-3 2-5 4-1 13 6 2 4-3 4zM32 152l-4-1-3-5 3-11 3-3 4 2 3 4-2 11-4 3zM36 174l-4 0-3-3-2-4 1-4 4 1 5 3 1 4-2 3z"/><path fill="#595959" d="M331 48l-5 0-4-2-2-3 2-4 3-1 3 1 3 6 0 3zM308 45l-3-1 2-3 2 2-1 2zM494 314l-386 0 2-5 7-8 6-10-12-28 1-22-6-9-14-4-2-10-5-6-1-18 1-10-1-2-7-2-2-3 3-14 3-9-2-1-5 3-8 7-10-3-5-4 1-5 6-12-1-5-4-3 0-5 3-3 11-5 3-3 2-15-4-8 1-5 2-1 2 1 10 17 2 1 8-6 12-1 7 3 12-3 18-16 7 2 7 8 4 2 1-3-4-9 3-5 11-2 11 3 4-2 5-8 5-1 4 1 7 6 1 3-1 2-6 4-10 0-8 3-4 3-1 3 11 4 10-1 7 1 12 6 10-4 3 0 8 8 17-6 14 6 6-5 23-8 5-3 1-3-5-6-1-4 4-10 3-3 5 1 4 5-5 5-2 13 5 4 5 0 2-3 1-9-5-10 14-9 3 3 0 12 5 8 8 4 10-2 4 1 2 6-4 5 0 2 12 10 5 0 7-7 3-1 6 7 18 0 13-2 13 6 3-1 2-3-2-9 5-3 5-6 4-2 8 2 4-1 5-4 5-10 9-8 9-5 17-6 5-5 2-1 5 6 9 5 5 7 2 10 12 11 1 7-5 10-1 9-5 9 0 6 3 7 0 4-5 6-8 6-2 3 0 6 2 11-1 2-5 4-1 12-4 5-16 12-11 12-2 16-4 10-2 11-4 6 1 10-3 6 1 10-3 9 4 4 12 4 3 7zM349 77l-2-1 2 0 0 1zM52 100l-7-1-3-3-1-3 3-1 7 2 3 4-2 2zM32 148l-3 0-1-4 1-7 3-2 3 2 0 3-1 6-2 2zM34 171l-4-1 0-4 4 2 0 3zM53 180l-4 0-1-3 2-4 3-1 2 3-2 5zM515 181l4-3-4-2-3 1-1 3 1 2 3-1zM70 189l-3 0-4-3-1-3 1-2 4-1 5 3 1 4-3 2z"/><path fill="#5d5d5d" d="M328 46l-5-1 0-4 3 0 2 1 1 3-1 1zM491 314l-382 0 3-5 6-5 4-7 5-4-11-22-2-21 2-9-8-10-11-3-4-4 0-9-5-8-3-12 3-12-2-3-6-2-2-3 3-12 4-9 0-5-2-1-2 0-18 11-5-1-4-3 1-5 6-10-2-14 13-9 2-3-1-7 3-5 5 6 3 1 3-1 5-6 3-1 9-1 9 5 14-6 8-9 8-5 4 2 10 10 5 0 3-4-5-9-1-3 3-3 6-2 5 1 3 4 0 4-4 8 2 3 8 1 7 2 9-1 8 0 13 6 11-4 3 2 4 8 2 1 17-9 4 1 7 6 4 0 21-13 14-4 9 3 5-2 2-4 2-8-3-11 8-6 2 2 0 11 5 7 10 6 12 0 0 2-5 4 0 4 17 13 7-1 6-5 4 4 10 0 8 2 17-5 4 2 6 4 4 1 5-4 0-9 9-9 15-1 5-4 4-10 3-3 18-11 21-7 17 11 3 12 10 9 3 7-3 5-7 0-3 2 0 4 6 6-5 13 3 15-3 6-11 8 0 19-2 1-10-1-3 1-2 4 1 5 10-1 1 3 0 5-3 4-18 14-11 11-1 17-7 19-4 7 0 10-2 6 1 11-3 4-8 2 1 3 3 3 9 4 11 1 2 3 0 4zM306 83l-3-2-1-4 4-9 2-1 2 2-3 5 0 6-1 3zM200 81l-5-1-4-2 0-4 2-4 6 0 6 5 0 3-5 3zM94 127l0-3-3 0 0 3 3 0z"/><path fill="#626262" d="M489 314l-361 0 0-5-3-2-2 1 0 6-12 0 4-5 6-3 4-6 5 0 2-3-2-7-5-6-2-7-5-7 1-8-2-11 2-10-10-12-10-2-3-3 0-15-6-6-3-9 1-5 5-6 0-3-10-4-1-2 1-11 5-11-3-11-3 0-5 6-13 8-4 1-3-2 0-4 7-8 0-14 15-14 8-3 7-8 10-1 7 6 3 0 5-4 9-3 6-9 7-4 4 1 4 5 10 6 9-3 13 2 8 4 17-3 14 8 7-5 3 0 6 9 3 2 17-9 4 1 6 6 5 0 5-3 14-11 15-4 14 3 4-4 3-9 2-4 20 13 2 9 19 13 3 1 14-1 11-2 4 3 1 7 5 2 3-2 1-8 8-5 6 1 8 5 8-1 2-3 0-7 1-3 9-7 10 0 4-2 5-5 2-8 3-3 14-6 8-7 15-2 4 6 10 0 4 2 3 11 8 7 3 7-1 2-12 1-3 2 1 7 7 8-2 16 2 11-3 5-6 3-4 0-4-4-4 0-6 7 0 3 2 2 9-3 1 2 0 14-11 1-4 4-1 4 2 6 9-1 2 2 0 3-3 3-17 13-12 13-1 5 0 11-6 19-6 8 0 9-6 5 5 8 0 6-2 2-8 0-2 2 1 4 5 6 9 4 10 1 2 5zM326 74l-2-3 3-3 1 2-2 4zM201 78l-4 1-3-2 0-5 3-1 4 2 2 3-2 2zM168 91l-4-4-2-5 2-3 5-1 4 2 1 4-2 5-4 2zM93 132l4-4 1-4-4-3-4 0-3 2 1 5 2 4 3 0zM74 136l-2-4-4-1 1 3 5 2zM497 199l0-2-1-2-4-3-2 0 0 5 4 2 3 0z"/><path fill="#666666" d="M460 314l-329 0 1-7 3-7 0-5-1-7-6-6 0-8-6-3-2-2 1-7-1-10 3-8-1-5-7-6-4-6-8-1-4-2-1-3 1-10 2-3 4-1 1-2-13-4-5-6 1-4 2-3 8-1 4-4-1-3-5-8-3-1-7 1-3-6 1-4 6-9-1-13 10-11 2-4-4-4-11-4 0-2 6-9 5-2 6 1 7 6 5 0 5-5 9-4 5-8 5-3 3 2 0 7 3 5-2 9 5 3 6-2-4-8 2-3 25-3 13 6 14-3 4 0 10 8 10-6 5 8 4 2 4 0 13-7 3 0 2 2 0 2-6 3-1 3 3 4 4 2 7-3 4-8 8-2 1 1 2 7 4 2 4-2 1-5-8-6 5-8 5-2 13-3 5 2 5 4 2-1 8-6 2-9 2-2 17 11-2 8-7 2-1 2 0 3 3 3 5 1 2-7 4-2 5 2 11 10 7 3 7-2 7 0 5-3 3 0 2 2 0 8 5 4 6 1 4-2 5-5-3-6 3-4 6-1 5 6 3 1 11-2 3-3 0-9 2-3 8-5 12 2 6-10 3-10 10-5 8-1 6-7 8-1 9 13 2-1 5-6 5 0 4 11 6 6 2 4-1 2-3 1-10-1-3 4 2 10 7 10-2 16 3 9-2 3-4 2-8-6-5 0-8 10-1 4 1 3 5 1 7-1 2 2 0 3-1 4-10 3-4 5-1 5 0 6 6 5-5 5-3 1-9-8-1-11-3 1-2 2-5 16 2 3 8 3 1 3-2 5-7 7-1 16-5 18-7 8 0 8-3 2-6-1-3 2 1 4 9 7 2 4-3 3-7-1-5 4 0 3 7 10-5 8zM168 87l-3-3 0-2 2-1 3 2 0 3-2 1zM359 122l1-2-1-1-3 2 1 1 2 0zM83 135l-5-1-5-7 1-4 5-3 3 0 3 9 0 4-2 2zM524 131l2-3-1-3-4 5 3 1zM72 147l-5-1 1-6 7 2 0 3-3 2zM516 191l-4 0 4-3 1 1-1 2zM119 314l-6 0 4-4 2 1 0 3zM486 314l-8 0 1-2 5-2 2 2 0 2z"/><path fill="#6b6b6b" d="M455 314l-320 0 1-4 6-5-2-9 1-8-9-28-6-5 2-10-2-9-3-5-6-1 0-9-11 4-4-1-2-3 0-6 2-4 5 0 8 3 2-2-7-31-2-6-5-3-6-9-8 5-2-2 0-3 3-3 3 0 4 2 1-1 0-4-5-11 0-4 13-12 2-3-2-5-15-6-1-2 1-3 5-4 7-1 4 3 4 7 9 3 5-10 8-6 3-6 2-1 4 9-6 12 1 3 19 1 6-6-5-8 22-5 10 8 4 1 5 0 11-2 3 6 5 2 3 0 7-6 2-1 7 10 4 1 7-2 8 10 8 1 4-1 8-9 9 6 6 0 9-12-1-6 2-5 6-4 4 2 2 6-2 6-7 4-2 3 0 4 5-1 13-10 4-10 7-6 1-7 2-2 11 8 0 3-2 2-8 0-2 7 1 6 6 4 4 6 16 5 9-6 8 7 5-7 3-1 14 11 6 1 21-4 29-12 23-16 1-3 0-6 10-14 6 1 5 4 2-11 2-2 3 0 14 22 1 15 2 7-7 10-7 19-9 17 7 2 10 0 2 1-2 2-8 2-3 3-3 20-4-1-2-2 0-12-3-1-5 1-3 2-4 9-5 4-7 14-9 25-2 12 2 4 4-2 3-9 4-5 1-8 4-7 1-10 3-1 6 1 3 1 1 3-6 9-6 35-8 6-7-1-3 6-7 7 0 8 5 5-2 3-6 1-2 10 2 5 6-2 4 3-1 2-5 4 0 4zM536 91l-9-3-3-3 0-7 3-5 3 2 3 8 4 6-1 2zM480 86l-3-4 4-2 1 2-2 4zM295 110l-4 0-3-3 1-4 4-3 3 1 2 2-3 7zM458 111l-4 0-1-3 1-5 3-2 3 1 2 4-1 3-3 2zM356 114l-3 1-2-2-1-3 1-2 3 0 4 3 0 2-2 1zM179 123l0-5-4-1 0 6 4 0zM80 129l-2-1 0-2 2 1 0 2zM530 144l-3-2 1-2 3 2-1 2zM105 198l-6 1-6-2-2-2 0-3 3-2 5 1 7-1 2 4-3 4z"/><path fill="#707070" d="M340 98l-4-2 0-4 5 4-1 2zM444 314l-295 0 4-17-2-11-12-38-34-90-2-12 2-10 8-7 12-3 16 0 25 3 15 1 11-1 11-4 29 7 21 3 28 0 25-5 18-8 15 8 16 5 21 3 29 1 19-4 17-6 54-26 11-2 1 7 0 16-3 18-6 12-13 17-18 32-10 25-8 25-10 40 5 21zM307 107l-2 0-1-2 2-2 1 2 0 2zM189 118l-3 0-5-5-11-1-2-4 8-4 5 1 9 10-1 3zM102 118l-5 0-4-3 0-3 2-2 6-2 4 2 1 6-4 2zM501 187l-2 0-1-2 3-5 1 4-1 3zM479 228l-2-1-1-5 5-6 1-7 3-1 1 2-3 5-1 9-3 4zM107 223l-3 0-2-2 0-5 1-2 4 0 2 3 1 3-3 3zM474 255l-2 1-3-2-2-5 4-9 5-3 3 4 0 6-1 5-4 3z"/><path fill="#747474" d="M180 109l-6-1 5-1 2 1-1 1zM101 116l-5-1 0-2 1-2 4-1 3 1 0 3-3 2zM434 314l-275 0 6-17-3-14-7-20-12-31-35-74-3-12 1-9 7-5 12-1 53 5 27-2 25 5 25 2 40-2 28-5 19 5 31 4 32 0 21-4 57-19 10-1 4 5 1 7 0 9-2 7-35 64-20 42-8 23-5 21 6 17zM105 221l-1-4 2 2-1 2zM474 253l-3 0-1-5 2-5 3-3 3 3 0 4-1 4-3 2z"/><path fill="#797979" d="M425 314l-256 0 8-15-5-20-7-20-10-23-10-19-22-36-12-23-4-14 1-6 6-3 9 0 53 7 29 1 25 3 34 0 60-2 48 3 34 1 20-4 38-12 18-3 5 1 4 3 1 6-4 14-19 38-22 39-15 23-10 20-5 26 8 15zM474 251l-2 0 0-3 2-5 2 1 0 3-2 4z"/><path fill="#7d7d7d" d="M417 314l-240 0 6-10 2-5-6-23-7-20-11-23-10-19-24-37-9-21-2-11 5-1 27 1 75 6 105-1 80 2 45-11 14-2 13 1 2 3-2 12-14 34-18 33-24 34-8 17-5 16-1 10 1 5 6 10z"/><path fill="#828282" d="M411 314l-227 0 7-15-6-24-8-21-15-33-24-42-3-8-1-12 4-2 7-2 17-2 88 4 118 1 43-1 35-6 18 1 2 3 0 10-6 22-16 33-27 42-9 22-3 16 1 5 6 8-1 1z"/><path fill="#868686" d="M407 314l-218 0 7-13-1-12-13-36-9-21-10-22-15-27-3-9 1-7 6-4 14-3 42 1 42 2 118 0 44-1 27-4 13 3 3 3 1 6-2 11-5 15-12 28-23 37-12 30-2 11 7 12z"/><path fill="#8b8b8b" d="M401 314l-206 0 7-12-2-13-14-39-14-33-15-31-3-9 1-4 4-3 8-2 41-2 40 2 121 0 68-3 7 2 3 3 0 8-2 12-7 22-7 16-20 32-14 32-2 10 6 12z"/><path fill="#8f8f8f" d="M392 314l-187 0 4-13-1-8-8-23-26-59-4-15-1-15 13-3 25-3 82-2 107 1 25 3 12 2 1 6 0 13-3 18-10 20-20 33-12 26-1 7 4 12z"/><path fill="#949494" d="M384 314l-171 0 5-12-1-7-38-84-1-9 4-11 6-4 20-3 82-6 94 3 17 2 20 6 3 4 2 8-1 13-8 19-36 61-1 8 4 12z"/><path fill="#999999" d="M376 314l-155 0 5-13-2-8-39-77-3-7 1-5 3-3 6-4 18-5 57-8 23-1 40 1 52 4 28 7 5 3 4 6 1 6-1 6-13 27-33 50-1 10 5 10-1 1z"/><path fill="#9d9d9d" d="M370 314l-142 0 4-11-1-8-29-54-11-27 0-7 5-3 12-5 21-5 40-6 21 0 38 0 42 3 24 5 12 6 4 3 2 5-4 16-9 21-30 44-2 11 4 11-1 1z"/><path fill="#a2a2a2" d="M365 314l-129 0 3-12-1-7-5-12-25-43-5-14-3-12 1-3 12-7 17-5 49-6 39 0 40 2 23 3 15 6 7 7-1 15-9 21-13 19-15 24-3 11 3 13z"/><path fill="#a6a6a6" d="M360 314l-117 0 3-12-2-8-6-14-25-41-5-14 0-7 2-4 7-6 12-4 26-4 25-3 37 0 40 3 17 2 13 4 6 5 2 5 1 9-2 9-5 11-14 19-14 25-4 12 3 13z"/><path fill="#ababab" d="M355 314l-107 0 4-11-1-7-9-19-25-39-3-14 2-7 9-6 17-5 40-4 33 0 40 2 17 2 11 4 4 4 2 6-1 16-3 8-13 18-12 20-6 12-1 8 2 12z"/><path fill="#afafaf" d="M351 314l-99 0 3-11-1-8-9-19-22-38-3-13 1-5 8-5 15-5 40-5 26 0 43 3 17 3 9 4 3 4 1 5-1 15-20 32-11 22-2 9 2 12z"/><path fill="#b4b4b4" d="M347 314l-91 0 3-12-2-9-9-19-18-31-3-10 0-10 9-6 10-3 39-5 23 0 43 3 16 3 7 5 2 2 2 5-2 12-3 8-15 22-11 22-2 9 2 14z"/><path fill="#b8b8b8" d="M343 314l-84 0 3-10-1-7-3-10-23-44-3-10 0-5 2-3 5-4 9-3 38-5 56 2 14 2 10 4 5 6 0 11-4 11-11 17-12 24-3 9 2 15z"/><path fill="#bdbdbd" d="M339 314l-77 0 3-10-1-8-3-9-21-45-2-10 2-5 9-5 12-3 33-3 46 2 14 3 9 5 3 6 0 9-27 51-1 9 2 13-1 0z"/><path fill="#c2c2c2" d="M335 314l-68 0 2-11-1-8-4-10-18-37-1-9 1-8 5-4 11-4 34-4 43 3 10 3 9 5 2 3 0 5-2 10-23 46-1 9 1 11z"/><path fill="#c6c6c6" d="M331 314l-61 0 2-11-1-10-21-46 0-9 4-6 7-4 9-2 28-3 40 4 8 2 7 6 2 6-2 10-22 43-1 9 1 11z"/><path fill="#cbcbcb" d="M328 314l-55 0 2-11-2-11-15-34-3-11 0-6 4-6 13-5 25-3 33 3 12 4 5 4 3 6-1 7-20 42-2 8 1 13z"/><path fill="#cfcfcf" d="M326 314l-51 0 1-11-1-11-15-36 1-10 3-5 9-4 12-2 25 0 18 3 12 5 2 5 1 8-3 8-13 29-2 8 1 13z"/><path fill="#d4d4d4" d="M325 314l-48 0 1-18-14-37 1-7 5-5 7-3 10-1 23 0 16 3 8 4 4 6 0 5-13 32-1 9 1 12z"/><path fill="#d8d8d8" d="M324 314l-46 0 1-18-10-35 1-3 2-3 8-4 8-1 19-1 15 3 9 6 0 6-8 30 0 8 1 12z"/><path fill="#dddddd" d="M322 314l-42 0 1-15-4-15 0-7 2-13 2-3 10-4 13 0 11 2 6 3 3 13-3 26 1 13z"/><path fill="#e1e1e1" d="M321 314l-40 0 2-15-4-17 4-9 4-5 9-3 7-1 9 3 6 6 4 14-2 14 1 13z"/><path fill="#e6e6e6" d="M319 314l-36 0 1-15-3-16 2-5 5-6 5-3 8-1 9 3 5 4 5 13-1 26z"/><path fill="#ebebeb" d="M317 314l-33 0 2-15-3-15 2-5 5-5 11-3 8 3 4 4 4 10 0 26z"/><path fill="#efefef" d="M314 314l-28 0 1-15-2-13 2-5 5-5 6-2 6 1 4 2 3 4 3 8 0 25z"/><path fill="#f4f4f4" d="M311 314l-23 0 1-16-3-10 2-5 6-5 4-1 6 2 5 4 3 8-1 23z"/><path fill="#f8f8f8" d="M308 314l-18 0 1-16-2-9 2-5 4-3 8 1 4 4 1 5 0 23z"/><path fill="#fdfdfd" d="M303 314l-8 0 1-17-1-8 2-3 4 1 2 3 0 24z"/></g></g><g transform="translate(711.40,1030.70)" clip-path="url(#pc)"><g filter="url(#fH)"><rect x="-15" y="-15" width="630" height="330" fill="#000"/><path fill="#070707" d="M519 314l-442 0 5-13-4-15 1-7-2-3-5-3-3-5-1-6 2-9-6-24-11-15-2 0-4 7-4 0-4-2-6-9-7-7-3-10-6-6 2-19-5-12 10-16-4-11 1-15 9 2 6-2 0-10 3-3 6-2 1-2-1-3-6-2-1-4 2-2 7-1 11-12 5-1 6 3 10-6 10 1 11-2 4-2 3-7 15-2 7-9 10-2 8-6 14-6 7 1 4 8 2 1 14-5 8-7 10 0 14 8 15 4 11 16 3 1 16-2 2-3 2-8 13-11 14-4 16 2 10-5 9 8 10 0 9 8 8 0 7 2 3 4 3 8 2 1 5-2 3-8 2-2 3 2 5 8 4 1 8-4 7-7 19-6 10 0 11-3 16 1 9 5 8 1 5 7 4 2 4 0 9-4 9 0 4 8 5 6 2 10 8 7 4 6 7 19-2 19 6 8 7 16 7 10-2 3-15 2-5 2-2 3 1 5 6 7 4 14-3 6-11 9 0 26-11 17 2 4 7 5 1 3-6 13 0 7-2 7 1 8-8 12z"/><path fill="#0b0b0b" d="M517 314l-439 0 5-13-3-12 2-9-2-4-7-5-2-4 0-4 3-7-6-18-1-9-15-20-4 1-4 8-5-2-11-14-2-10-7-7 2-19-5-10 7-8 4-9-5-8 0-6 3-5 11-2 4-3 1-3-2-6 7-3 2-2 2-5-1-9 4-6 5-5 4-1 6 4 10-8 14 0 12-3 11-7 10 0 3-9 2-3 10 0 6-6 15-7 6 2 3 7 3 1 8-4 8-1 7-6 4-1 6 4 27 8 11 16 4 1 18-3 3-3 2-8 7-4 6-6 8-1 7-3 13 2 9-4 9 7 11 0 8 9 9-1 5 1 3 4 1 9 5 3 11-4 12 3 17-12 8-4 9-3 20-3 19 2 7 4 7 2 4 5 5 2 6 0 9-3 6 0 8 12 2 10 9 9 1 10 9 11 1 4-2 18 7 8 4 11 9 14-3 2-14 1-5 3-2 3 2 10-2 7 10 6 1 4-2 5-11 6-8-4-2 2 1 4 7 5 2 5-2 18-10 17 1 4 8 7 0 3-5 11 0 7-2 7 1 8-6 7-2 5z"/><path fill="#101010" d="M516 314l-229 1-207-1 5-13-3-10 1-11-2-5-8-8 0-4 4-6-7-20 1-9-8-6-8-13-3-2-4-1-5 7-4 0-10-12-1-11-7-7 2-15 2-3 5-2 1-2-2-1-6 3-5-5 0-3 5-5 7-12-1-3-5-5 0-4 3-3 10-2 5-5 3-7 9-13-2-10 5-7 4 0 5 5 2 0 6-8 5-3 10 0 14-3 14-6 5 4 3 0 4-4 0-9 2-3 10 0 6-7 7-1 7-5 4 1 3 7 5 2 9-5 8-1 6-4 3-1 30 10 10 9 4 7 3 1 21-3 5-4 2-7 2 1 0 7 4 1 4-4-3-9 3-5 10-2 6-3 12 2 8-4 9 7 12 0 6 9 4 3 6-4 5 1 2 3 0 7 7 8 12-5 13 3 6-7 5-2 11 2 3-3-2-5 4-3 7-3 18-3 19 3 13 6 5 5 6 2 6 0 10-4 4 1 7 11 3 10 8 8-1 9 1 3 10 10 0 22 7 8 3 10 8 13-2 2-12 0-6 4-2 3 1 10-2 8 2 3 8 4 2 3-2 4-9 5-9-4-4 3 1 5 8 7 1 5-3 18-5 8-6 6 1 3 9 12-5 10-7 2-2 2 3 2 5-1 2 3-2 6 1 9-6 7-1 5z"/><path fill="#141414" d="M514 314l-375 1-32-1-5-2-3 2-18 0 6-13-3-10 1-10-2-6-8-8 0-3 5-7-4-8-4-14 1-3 5-4 1-2-2-2-7 0-5-3-12-16-7-2-6 7-8-8-1-6 6-6 0-2-2-2-10-2-1-4 1-10 8-6 2-5-3-2-9 2-2-2 12-19-1-6-5-4 12-5 13-19 8-7 0-6-5-5 1-3 4 0 3 5 4 1 3-2 5-8 4-3 29-6 10 3 8-2 5-4 2-12 9-1 6-5 8-2 5-3 5 5 7 1 18-5 6-4 5 1 19 7 1 7 3 4 3 1 8-3 6 8 4 1 31-3 6-3 3-4-3-10 3-4 10-1 7-2 9 5 8-7 7 6 13 0 12 16 4-1 3-5 1 5 10 14 7-5 5-2 15 3 6-7 3-2 10 3 4-1 5-4 1-7 2-2 18-4 21 3 9 6 4 5 16 1 13-3 2 2 4 7 3 11 8 8-1 11 11 14 1 20 8 8 2 9 5 11-1 1-9 1-7 5-1 3 0 11-2 9 2 3 9 4 0 5-8 4-10-4-3 2-1 3 1 5 7 8 1 5-2 7-1 8-2 5-4 5-6 3-1 2 2 4 8 10 1 4-3 5-9 4-9 5-1 3 4 3 8-2 4 1 2 11-6 7-1 6z"/><path fill="#191919" d="M512 314l-375 1-30-1-2-3-4-1-3 1-1 3-15 0 6-11 1-6-3-19-9-12 7-8 1-2-8-7-3-13 8-7-1-7-2-2-10 1-5-3-8-13-8-6-2-7-3-3-3-8-11-6-1-4 8-7 2-5-2-3-8-3 0-4 6-9 3-9 11-14 5-11 8-7 4-6 6-4 5-6 5-1 7-6 18-4 6 1 4 7 2 1 6-7 9-1 2-14 8-2 8-6 25 1 16-5 6-4 4 0 10 4 8 11 6 5 3 0 6-1 5 5 3 1 20-1 7 7 18-16-3-10 1-3 2-1 15 0 7 6 11-1 8-3 9-1 3 3 9 14 9 0 6 5 2 9-3 8 3 3 5-3 1-9 6-6 6-1 12 3 3-2 3-5 3-2 10 3 5-1 7-5 4-8 10-4 10 0 15 3 5 4 3 7 2 1 9-1 11 1 11-2 3 3 6 15 7 8-2 6-7 3-1 3 4 3 6 1-1 8 10 6 3 17 6 5 2 4-4 15-8 9 1 13-3 8 1 4 9 4 1 4-6 4-9-5-5 4-1 7 8 10 1 4-3 7 0 7-2 5-3 3-8 3-2 2 2 7 7 8 2 7-2 3-17 7-4 5 1 3 5 3 10-1 2 2 1 6-5 6-1 8zM283 92l-1-3-2 0 0 3 3 0zM40 206l-3 0-3-4 0-4 2-2 4 0 3 3-3 7z"/><path fill="#1e1e1e" d="M510 314l-374 1-27-1-3-4-6-2-4 2-2 4-10 0 8-15 5-5-7-7-3-11-7-9 1-3 9-4 2-4-2-4-10-3-3-9 0-4 7-7 1-14-3-2-7 4-5 2-4-1-3-3-5-11-8-6-1-8-4-6-2-7-7-3-2-2 6-14-2-3-7-4 0-3 7-15 13-13 4-14 8-6 13-13 7-2 6-7 10-4 9-1 4 3 3 7 3 1 8-7 7 1 2-1 2-5 1-9 9-4 4-4 10 0 21-2 11-4 7-4 9 2 2 4 0 6 7 3 9 5 7 1 7 4 20 0 5 7 3 1 4-2 5-7 15-11 9-3 20-3 8-5 7 0 3 3 9 14 3 1 7-1 4 3 2 7-4 10 2 3 4 2 4-2 5-4 0-8 4-5 6 0 12 2 3-1 5-8 12 4 12-4 7 0 5-5-2-7 4-2 9 0 14 3 4 4 1 7 1 1 13-2 11 2 10 0 14 23-2 3-8 4-1 3 11 15 10 8 2 5 1 12-4 6 4 9-1 5-3 3 1 19-3 8-1 7-6 5-3 7 1 4 8 11-3 9 0 7-3 5-9 3-3 5 2 8 6 8 1 5-1 2-15 7-6 8 2 3 14 8-2 7 0 8zM294 53l-3 1-2-2-1-5 3-1 5 2 1 2-3 3zM284 94l1-3-2-3-2-2-3 1-1 3 1 3 3 2 3-1zM536 200l-3-1-1-3 3-1 3 2 0 2-2 1z"/><path fill="#222222" d="M203 56l-1 1-4-6 1-3 2-1 4 0 3 3-1 4-4 2zM508 314l-396 0-2-4-7-4-10 0 2-5 9-3 1-3-3-4-9-4-2-3 1-9 6-1 2-4-1-2-5-4 1-8-1-4-4-3-8-2-3-5 0-5 7-7 2-16-5-4-12 6-4 0-3-2-4-12-8-5-1-9-4-6-1-8-7-4 3-13-7-7-1-3 6-13 14-12 0-11 2-4 9-6 11-11 9-4 6-7 9-4 7 0 3 2 4 8 3 1 9-5 8 0 3-2 6-14 10 1 5-6 13-5 13 0 8-2 10 4 5 6 9-2 4 2 6 5 4 7 16-3 5 1 3 3-1 4 1 3 5 8 3 1 4-1 1-8 7-4 4-8 9-4 6-6 7-2 8 0 24-11 6 2 6 12 4 4 3 1 7-1 4 2 1 6-4 10 3 5 4 2 5-2 8-6 0-8 2-3 6 0 13 2 3-2 2-5 2-2 11 4 9-3 10 0 7-5 1-8 4-2 6 0 11 4 2 3-1 8 2 2 17-4 10 3 9 0 3 3 9 16-2 3-8 5 0 3 12 16 9 8 2 7 0 7-3 7 2 10-3 3-8 3 10 7 2 7 0 7-4 7-2 7-5 7-2 7 1 4 7 8 0 4-6 8 3 5-1 3-9 3-4 6 1 10 5 8 0 4-13 8-8 12 13 10 2 14zM282 96l3-2 1-5-4-4-5-1-2 4 0 4 3 3 4 1zM90 273l-4-3 0-3 4 1 0 5zM90 314l-2 0 1-2 1 2z"/><path fill="#272727" d="M507 314l-390 0 1-7-1-2-6 2-5-3 3-7-2-6-4-3-8-2-2-3 2-3 7 2 2-1 0-7 3-7-1-3-7-4-6-13-9-2-3-3 0-4 6-5 2-4 1-15-3-4-4-2-12 6-4 0-2-2-2-5 2-6-11-6 0-9-5-5-1-8-6-6 2-10-7-8 0-5 5-10 14-10 0-12 2-5 10-6 9-9 9-4 9-9 6-3 6 0 3 3 2 7 3 2 11-3 7 0 5-4 5-11 12-2 6-6 12-6 9 2 2 7 5 3 3-1 5-5 8 4 10-2 4 0 5 4 2 8 2 2 18-2 13 18 5 0 7-2 5 4 4 1 5-1 2-5-2-5-7-6-1-4 3-4 5-2 5 6 3 1 1-3-2-7 2-4 5-2 10 0 23-11 4 1 2 4 0 3-3 4 1 2 7 1 7 4 7-2 4 2 1 5-5 9 4 7 4 2 5-1 13-7 0-8 3-2 16 1 6-7 10 4 8-4 14-1 5-4 4-8 3-2 5 1 7 3 1 3-2 7 4 4 19-6 9 4 9 1 3 3 8 12-3 4-8 3 0 5 18 22 5 14-2 9 1 9-3 2-8 0-1 5 2 4 11 5 2 7-14 33 0 4 7 6 2 5-3 4-7 3-7 18 0 14 2 7-8 4-10 18 1 4 12 8 3 12z"/><path fill="#2b2b2b" d="M505 314l-384 0 2-16-1-5-3-2-6 2-6-8-1-10 4-9-1-4-9-6-7-12-9-3 0-2 10-11-3-15-4-5-4-1-4 0-8 5-4-1-1-3 4-6-1-3-3-2-8-2-2-3 2-5 9-4 1-5-3-3-8 5-5-1-2-7-5-6 0-9-6-9 0-5 6-9 12-8 1-13 1-4 12-7 8-8 9-5 12-10 6-1 3 5 0 5-8 2 2 3 22-5 7 0 7-5 5-11 12-2 6-5 12-7 5 1 3 7 7 5 7-3 8 2 11-5 4 1 3 3 2 8 2 3 4 1 9-3 5 1 14 16 12 1 3 4 12-3 3-4-1-7-7-8 1-4 3 0 6 5 5 1 3-5-4-8 2-3 13-1 22-11 3 1 1 2-5 9 1 2 12 2 7 3 7-2 2 1 1 4-4 6-1 3 5 8 5 2 5 0 8-5 7-1 2-3 0-6 3-2 14 1 6-3 2 4 2 0 4-1 8-7 17-1 8-11 3-2 5 3 0 9 7 6 7 0 6-5 6-2 9 4 8 1 8 8 2 5-2 3-9 2 1 11-2 5 8 2 8 6 2 4 6 16-1 15-2 1-5-1-3 2-2 3 1 5 2 4 12 5 2 5-1 4-7 9-7 21-7 10-3 11 5 2 1 3-4 15 0 9-2 3-8 4 2 12-9 15 3 6 12 9 2 8zM452 74l0-2-2 0 0 2 2 0zM520 224l-4 1-3-2-1-4 2-4 3 0 4 3 1 4-2 2z"/><path fill="#303030" d="M503 314l-12 0 0-4-1 4-11 0-354 0 0-16-2-8-3-2-7 0-3-3-2-10 3-9 0-5-2-3-9-5-6-15 4-10-3-8-1-8-8-6-10-2-4-6-3-3-10-3 2-4 8-3 1-3-1-6-4-4-7 4-4-1-7-10 1-7-6-11 0-4 5-8 11-7 1-14 2-4 6-1 3 5 3 1 4-14 7-7 9-4 10 5 14-2 8 1 16-9 4-11 11-2 8-5 6 0 4-6 15 14 7-4 8 1 9-5 5 0 3 3 1 9 2 3 6 2 8-3 5 1 8 6 6 8 9 2 4 6 2 1 16-9 2-5-1-7 9-4 2-13 20-7 9-4 1 2-7 6 1 4 3 1 14 0 12 6 1 9 6 9 4 2 7-1 8-4 9-1 2-3 1-6 2-2 10 1 5 5 4 0 4-2 10-10 9-1 6 1 10 6 9-3 15 6 3-2 2-8 6-2 7 6 9 0 7 8-1 3-10 1 1 12-4 7 3 3 13 3 5 6 6 18-3 9-5 1-4 4 0 9 2 5 12 5 2 4-1 3-5 5-3 4-4 18-7 9-5 12-5 6 2 4 7 0 1 5-3 17-12 7 4 13-7 11-1 6 5 15 4-2 4 0 3 4 0 4zM106 84l-3 0-1-2 3-1 1 3zM152 90l0-2-3 0 1 2 2 0zM52 145l2-2-1-3-3-1-3 1 0 4 5 1zM518 222l-2-1 1-3 3 2-2 2z"/><path fill="#343434" d="M487 314l-359 0-1-17-3-9-3-3-8 0-3-5-1-6 4-10-1-5-3-3-7-3-3-5-1-11 2-9-4-12 2-5 5-4 0-4-5-1-6 4-13-5-11-11 4-8-5-13-4-2-4 5-2 1-5-7 0-3 6-3-2-3-7-4-1-3 7-2 2-3 0-9 4-7 0-15 3-2 8 6 14-6 1-5-5-2-1-3 3-4 5-3 16 2 12-2 8 4 7-6 9-4 8 4 4 0 2-2 1-4-2-2-8-3-1-3 1-3 11-3 6-3 8 0 5-2 6 3 8 10 5-7 10 0 7-5 5 0 3 3 0 10 13 11 2 1 2-1 3-8 4 0 6 4 7 9 7 2 4 5 3 2 17-9 4-11 8-5 4-12 4-3 7-3 3 1 6 6 12-1 7 2 5 5 2 7 8 10 5 2 9-1 7-3 9 0 8-5 0-4 1-1 3 0 5 4 10 1 11-12 4-2 9 0 12 8 3 0 7-3 16 6 3-2 3-9 3 0 10 22 0 4-4 5 0 3 6 4 13 4 4 4 5 16-2 4-6 4-4 5-1 4 1 9 3 7 9 2 3 3-9 8-2 19-7 9-5 14-7 7 2 5 7 2 2 4-3 14-10 5-3 4 5 11-8 17 3 11-1 11zM501 314l-6 0 2-4 3 0 1 4z"/><path fill="#393939" d="M485 314l-354 0-5-29-3-2-8 0-3-2-1-6 3-10 0-6-3-4-7-3-3-4 0-11 2-7-5-13 1-4 6-5 0-6-3-3-3 0-8 4-3-1-7-2-5-4-4-6 1-8-3-14-11-15 2-16 6-4 1-2-5-6 0-8 2 0 7 3 15-5 3-6 2-9 3-2 10 1 11-3 10 6 6-6 5-2 5-1 12 2 3-4 1-7-2-2-6-2-1-2 14-5 8 0 6-2 5 2 5 11 4 2 5-3 1-6 9 0 6-6 4-1 2 2 0 3-4 7 3 3 19 12 3-2 3-7 3 0 6 5 5 11 6-2 5 5 3 1 5-1 13-7 6-11 7-5 4-11 8-5 3 2-2 6 5-2 8 0 8-2 5 1 3 4 3 9 7 4 4 6 4 2 19-3 7 1 7-4 10-3 13 1 11-13 5-2 6 1 13 7 11-3 17 8 5-4 6 6 3 5-1 4-5 6 1 3 13 6 9 3 2 3 4 14-8 9-4 7 3 22 2 5 1 20-8 11-4 13-7 8 1 7 7 4 1 5-2 9-11 6-3 4 5 11-3 5-4 13 3 11-1 10z"/><path fill="#3d3d3d" d="M483 314l-350 0-5-23 0-9-2-2-10 1-3-2-1-4 4-10-1-6-3-6-7-3-2-2 0-10 3-8-7-13 1-3 7-6-1-8-3-2-5-1-8 3-5 0-6-4-4-5-3-25-3-6-6-5-2-3 2-12 7-8 0-3-5-5 0-3 7 1 17-6 6-14 3-2 7 0 11-2 8 7 3 1 5-7 3-2 8-1 11 1 4-3 6-11 7-4 7-6 3 2 5 11 3 2 4 0 8-5 6 0 5 3 5 6 10 2 9 6 4-2 3-7 3 0 6 7 0 3-3 6 0 2 2 1 10-3 8 2 7-1 13-7 6-10 8-7 3-6 2-1 6 4 7-4 14-4 5 3-1 8 2 3 6 5 13 8 9-2 11 1 7 4 6-8 9-4 6-1 10 3 8-10 12-5 14 7 13-3 8 4 7 6 8-1 3 5-2 3-5 4 2 6 17 9 7 1 5 13-2 3-5 5-4 7-1 7 2 18-7 10 2 3 7 1 1 11-5 6-3 2-5-1-1 1 1 2 4 2 1 5-3 7-6 4-1 3 2 10 7 6 0 5-2 3-12 8-3 4 4 9-4 5 2 7-3 9 3 10 0 10-1 0zM214 75l-1 0 1-1 0 1zM134 116l0-3-2 0 0 3 2 0z"/><path fill="#424242" d="M482 314l-348 0-2-16-2-6 1-8-1-4-3-2-9 2-4-2 0-5 4-9-1-6-3-6-7-4-1-2 0-8 3-7-7-10-1-4 8-9-2-10-3-2-9-3-6 5-4 0-5-3-3-4-3-25-3-9-6-4-1-3 2-9 6-8 0-8 6-4 13-3 7-15 8-1 8-2 4 1 4 6 5 4 4 8 4 0 2-2 1-3-5-9 1-5 10-2 12 0 8-11 8-5 6-6 3 3 3 9 3 3 5-1 9-5 5 0 4 2 6 7 10 2 7 6 3 0 5-1 4-6 2 0 2 4-3 10 2 3 2 1 10-3 9 1 8-2 13-7 6-9 11-9 7-1 8-3 7-1 5-2 2 1-1 5 1 3 11 9 12 6 10-1 7 1 4 2 3 4 3 2 5-4 4-9 8-4 5 0 8 4 3 0 8-9 13-4 3 3-3 4 0 3 5 2 3-2-1-5 8 0 8-4 6 1 8 7 2 4-1 6 7 10 13 5 4 10 2 0 3-5 2 0 3 8-1 2-6 6-3 7-3 14 3 6 1 5-7 12 1 4 7 4 1 7-3 3-8-1-4 3 0 6 6 5 1 3-3 5-8 2 3 16 7 6 0 4-14 12-3 10-8-1-4 4 2 3 8 1 5 6 0 3-4 7 4 9 0 11zM464 300l4-3 0-3-5 0-3 2 1 4 3 0z"/><path fill="#474747" d="M480 314l-344 0-2-8 1-8-3-6 1-7-2-7-3-4-9 4-3-1-1-2 4-12-3-12-7-9 0-3 4-5 0-3-11-13 2-3 8-5-4-14-13-7-4 0-2 5-3 2-5-2-3-4 1-8-3-6 0-9-3-12-6-7 1-6 7-9 0-7 4-3 15-4 3-3 3-9 14-5 2 1 1 2-4 5 0 3 6-3 4 1 3 2 4 7 5 1 5-6-2-9 1-3 6-3 11 0 8-9 14-9 4 9 4 3 5-2 10-5 6 0 8 8 11 3 5 6 11 2 3 7 3 3 11-3 10 0 24-9 3-8 6-6 5-3 7-1 9-4 7 1 15 13 11 7 4 0 11-2 9 8 6 2 7-5 4-9 6-3 6 0 10 8 2 0 4-3 6 1 8-2 10 0 4-6 8-5 4-2 4 1 6 6 0 10 8 12 10 2 3 2 2 8 4 8-4 17-3 8 6 9 0 4-6 7-1 5 1 4 5 6-8 1-7 6 0 3 6 12-12-1-2 0-1 3 0 3 5 4 3 7 1 9 7 8-3 4-12 12-9 4-3 4 0 4 2 2 8 1 3 2 1 3 0 3-5 3-13 2-3 3 1 4 3 2 4 0 7-5 4 1 3 6 0 10zM304 109l2-5-2-2-3 1-2 3 5 3z"/><path fill="#4b4b4b" d="M468 314l-330 0-1-10 1-2 6-3 1-3-3-3-6-1 1-5-4-10-2-9-5 0-4 6-2 1-2-1 4-9-6-23 0-10-3-6-8-7 0-3 2-1 8 1 2-2 0-3-6-8-3-11-22-8-6-11-5-19-4-7 1-5 7-9 3-7 21-8 10-1 9-4 3 2 5 7 6-1 7-5-2-9 2-4 3-1 9 0 10-9 8-1 3 0 7 4 4 0 13-7 6-1 8 8 11 4 3 7 8 0 4 2 7 11 9-2 4 5 5 1 4-2 1-7 5-2 17-4 11 4 3 0 4-15-1-1-8 0 0-3 4-4 8-1 9-5 6 1 28 20 4 1 9-3 9 8 8 2 9-5 3-9 5-3 5 0 9 9 4 1 17-6 13 0 4-6 7-6 6-1 5 5 0 10 6 7 1 6 2 2 8 0 4 2 5 16-3 15-6 10 8 6 1 5-5 7-3 11-9 3-6 9 0 3 2 6-3 3-2 6 2 10 4 6 3 7 5 6 1 3-11 11-10 5-4 5 1 8 2 2 8 1 2 2-1 2-16 3-3 5 1 5 4 4 5 0 7-3 4 2 0 4-6 2-3 5zM357 120l-1-5-2-2-2 0-1 2 1 3 3 3 2-1zM84 191l-2-1 1-2 1 3z"/><path fill="#505050" d="M466 314l-324 0-3-8 12-8 1-2-7-11-9-6-2-12-9-3-2-4-1-6 1-6-4-6-3-18 4-10 0-4-7-8-3-11-19-7-4-3-9-19-1-8-3-8 1-4 13-15 6-3 20-4 7-5 3 2 5 6 5 1 12-7 0-3-2-6 2-3 8 0 12-9 4-1 5 0 8 4 4 0 15-10 4 1 7 7 9 4 3 7 13 2 8 12 18 3 7-2 3-7 2-1 9 0 9-3 10 4 4 0 2-3 0-7 5-14 3-4 4-2 4 1 5 5 7 3 12 8 2 4-3 5 0 4 3 5 4 3 3-2 2-3-3-9 7-4 4 0 8 7 11 3 11-9 1-6 3-3 4 1 9 8 5 0 17-5 15 0 9-12 3-2 3 1 3 2 1 3-4 7 9 8 2 9 12 2 7 14-4 16-9 10 1 2 10 5 1 4-7 15-11 5-6 10 1 9-3 19 13 19 1 3-9 10-9 4-5 4-2 12-5 6-1 5 1 8 4 5 6 3 1 6z"/><path fill="#545454" d="M464 314l-317 0 0-9 4-3 7-2 1-2-5-8-14-14-5-11-8-3-3-3 0-5 3-7-5-6-3-16 5-11-1-4-9-9-1-9-2-3-18-6-4-3-10-18 0-9-2-7 0-4 5-4 7-4 4-6 4-3 10-3 8 0 6-4 8 7 4 0 14-5 4-10 14-7 4-4 6-1 9 5 4 1 10-11 5-2 3 0 5 6 8 5 2 6 2 2 14 3 9 11 17 3 10-2 21-11 4 1 7 4 5-1 3-5 0-9 6-13 3-2 3 2 2 7 2 1 7-3 12 7 1 4-2 5 0 4 4 7 5 3 3-1 4-4 0-3-2-6 4-3 3 0 6 5 9 3 5 4 2 0 4-7 12-10 13 5 20-5 13 0 8-2 10 3 6 5 0 8 1 3 3 1 8 0 1 4 6 5 1 4-4 15-10 10 2 4 7 2 3 3-3 11-3 4-10 6-7 10 1 10-4 19 7 9 6 11 1 3-6 7-10 4-5 4-3 12-7 12 3 9 9 10 1 4zM467 96l-4-1 1-3 2-2 4 3-3 3z"/><path fill="#595959" d="M462 314l-312 0 2-9 8-3 2-3-6-11-7-7-13-17-8-4-2-2 1-4 5-7-3-8 0-5-7-9 5-11 0-4-3-4-8-6-1-9-2-3-17-5-5-3-10-18 0-10-2-6 0-3 5-4 8-1 4-9 8-4 12-1 6-3 10 7 8-4 7-1 3-2 3-8 2-3 4-3 8-1 6-4 3 0 9 5 6 0 2-1 2-8 7-6 3 1 11 9 4 8 15 4 11 12 17 2 16-1 16-11 9 5 5-1 5-6 1-11 6-6 9 7 6-4 8 3 2 3-2 6 1 5 5 8 6 3 5-2 8-10 11 3 5 7 3 0 9-12 11-6 11 2 9-1 11-4 31 2 4 4 0 9 4 7 4 2 10 1 3 5-5 14-8 8-2 3 2 5 9 5-2 9-2 4-10 6-8 10 2 13-6 17 8 10 5 15-4 4-9 3-6 4-1 3-2 11-12 14 5 4 13 15 0 2z"/><path fill="#5d5d5d" d="M459 314l-306 0 2-8 13-4 1-2-8-6-5-10-5-5-3-6-7-6-5-6-6-4 5-8-3-16-3-10 2-9-3-11 2-9-2-1-3 0-3 6-3 0-2-2 1-6-3-7-10 0-12-4-3-7-6-6-2-5 0-5 5-5-4-4-1-4 5-2 7 2 4-14 11-4 15 0 2 3-1 8 2 2 3 0 4-4 4-8 9-1 5-3 2-9 4-4 16-4 14 4 5-1 2-2 2-8 5-5 3 1 9 7 2 7 3 3 15 4 12 12 31 3 5-1 13-11 7 4 9-2 5-8 1-9 4-3 7 7 10 2 11 17 10 2 7-5 5-2 4 2 1 5 3 2 9-2 11-14 9-4 21 1 11-5 30 2 2 3-1 9 5 7 6 3 9 1 2 3-5 14-8 7-1 3 1 7 8 5-1 8-17 15-3 5 2 14-6 16 1 3 6 5 2 4-3 11 1 3-8 4-5 5-2 4 1 8-3 5-6 6-6 1-2 2 2 7 10 6 8 11zM103 154l-2-5-6-3-1 6 6 3 3-1z"/><path fill="#626262" d="M456 314l-300 0 1-6 15-4 1-3-2-3-8-5-3-5-1-7 4-11-19-3-3-3-3-5 2-8-4-8-3-15 2-10-2-17 1-5 6-7 0-3-3-1-7 4-8-1-2-2 0-7-3-2-9 6-9-2-4-3-3-7-7-6-1-6 8-3 15 1 0-4-7-13 0-7 4-4 6-1 9 1 2 2 2 8 4 3 3 0 10-12 15-6 1-9 3-3 14-3 21 2 3-2 2-8 4-4 8 5 2 6 4 4 18 7 11 11 9 0 21 3 18-2 18-10 10-10 4 1 8 0 4 2 4 5 3 9 2 2 13 1 9-6 2 1 4 6 3 1 10-2 11-14 8-4 17 1 6 6 5 2 2-3-1-7 3-3 10 0 11 2 8 0 1 2-1 8 1 3 8 7 12 3 1 2-4 13-8 6-1 3 0 7 8 7 0 6-19 20 2 14-1 5-5 8 0 5 1 4 6 5 1 5-16 21-2 5 2 6-2 3-5 5-8 2-2 2 2 10 12 8 5 8zM113 165l0-3-1 3 1 0z"/><path fill="#666666" d="M451 314l-292 0 3-5 12-3 2-4-3-5-9-5-2-4-1-6 5-10-1-4-2-1-18-3-3-3 3-10-8-9-2-14 2-9-1-20 6-9 0-4-4-3-11 1-9-11-2-15-7-6-5-8 1-10 4-3 7 1 6 8 8 6 11-13 18-8-1-8 2-3 14-2 21 0 5-2 2-7 3-1 3 1 3 6 8 7 18 6 9 12 9-3 16 4 23 0 6-3 5-6 8-4 8-7 12 0 4 1 4 5 2 9 2 2 15 1 8-4 6 5 4 1 11-2 10-14 6-3 16 0 7 5 8 3 3-1 0-9 3-3 8 0 11 4 5 9 9 8 9 4 2 2-2 10-2 2-5 2-2 3 1 11 6 6 1 5-17 18-2 3 3 14-6 12-1 8 2 4 6 4 0 3-8 7-9 16-5 5 0 2 5 3-1 3-4 3-8 2-3 4 3 11 7 9 5 3 1 3zM415 124l2-2-2-2-3 1-1 2 4 1zM106 181l-8-3-3-7-8-7 0-3 9-3 10 3 1 10 4 5-1 3-4 2z"/><path fill="#6b6b6b" d="M437 314l-275 0 3-4 10-2 2-3 1-3-4-6-8-4-3-4 0-6 4-7 0-7-3-2-8-1-9-5-1-13-6-4-2-3 0-11 1-9-1-20 5-10 0-5-4-4-11-2-6-6-4-17-8-7-3-4 0-5 1-4 3-2 4 1 4 5 7 6 3 6 2 1 3-3 1-8 5-6 12-7 10-1 4-9 4-3 7-2 17 0 12-5 20 14 7-1 4 2 2 3 4 10 3 3 3-1 3-5 3-1 14 6 11-2 13 2 8-6 5-6 16-10 13 1 4 5 3 9 3 2 7 0 8 2 8-3 7 4 4 0 11-3 8-12 5-4 4 1 1 6 3 2 5-1 8-4 14 3 4-2-1-6 2-3 4-1 4 0 23 21 8 4-1 9-2 0-6-3-2 4 4 20 6 8-4 6-15 15 4 14-6 13-2 13 6 4 0 2-7 5-7 15-7 7-1 4 2 5-7 3-3 4 0 6 4 12-2 6 1 4zM105 178l-3-1-1-4-9-8 0-2 1-2 5-1 6 2 1 3-1 7 2 5-1 1z"/><path fill="#707070" d="M434 314l-269 0 2-2 9-2 2-3 1-5-4-7-9-5-1-3 0-5 5-7-1-8-4-3-9-1-5-4-2-5 1-14-1-2-3 0-3 3-3-2 1-15-1-23 5-11 0-5-4-5-11-2-6-5-2-4-1-12-3-5-7-7 0-6 2-1 10 7 2 3 2 7 3 1 6-5 1-8 4-6 12-6 10 1 5-8 6-6 5-2 15 0 12-4 6 2 8 8 4 9 2 2 3 0 2-1 1-6 4 0 2 8 7 7 5 0 6-4 14 5 11-3 12 4 2 0 12-14 8-4 7-5 8 0 5 2 4 5 3 8 2 2 7-1 8 2 9-2 10 3 13-2 7-12 4-4 2 1 3 6 3 2 15-6 15 3 5-3-1-5 1-3 4 0 3 5 6 2 9 7 6 8-4 4-1 6 4 11 2 11 3 6-4 6-13 13 0 4 4 8 0 5-4 8-4 14-4 5 1 6-3 9-10 16-2 8-6 8 4 16-3 7 1 5zM101 168l-5-2-1-2 1-2 3 0 3 1 1 3-2 2zM466 182l1-2-2-2-3 4 4 0z"/><path fill="#747474" d="M431 314l-253 0 3-8-1-5-4-7-8-5-2-3 1-4 6-6-2-8-4-5-10-1-5-4-2-10 4-9-7-8-4-8-2-20 1-5 5-7-1-8-4-5-10-1-5-3-3-5 0-7 14-10 2-10 5-5 10-4 9 6 3-3 2-10 6-6 31-5 5 1 5 4 3 5 2 6 2 3 5 2 8 0 7 6 4 2 13-3 13 4 9-3 14 4 12-16 4-2 5 1 4-5 5-2 6 1 5 4 5 14 8-2 7 3 10-3 12 3 10-1 5-3 4-9 3-3 4 5 2 4 2 1 16-11 5 1 9 3 17-2 5 1 4 3 2 3-2 12 6 15 0 11-2 2-5 0-3 2-6 15 0 4 7 11 0 4-4 8-4 15-6 5 1 8-2 5-9 9 0 7-7 17-1 5 4 12-4 6 1 7zM122 151l-3-2 0-2 3 1 0 3z"/><path fill="#797979" d="M427 314l-246 0 4-8-1-4-7-9-8-5-1-2 2-4 6-3 0-5-8-14-10 1-5-4-1-9 6-6 0-3-2-5-8-6-4-8-2-10 1-8 3-5 5-3-2-16-4-3-11 1-4-2-4-4 0-6 8-6 10-6 12-3 10-5 6-6-2-9 5-6 22-2 3-3 6-1 5 1 6 7 1 3-2 5 3 3 9 3 8 0 7 7 4 2 4-1 8-4 4 0 12 8 4 0 4-7 10 5 6 0 8-5 4-5 10-6 3-6 5-2 6 3 2 5-1 3-6-2-3 1 1 4 3 3 11 4 7 0 8 2 4-1 6-6 4 1 3 5 3 1 35-9 4-2 3-7 7-4 4 1 8 5 24-1 2 2 0 3-6 6 0 4 1 3 4 2 5 9 1 8-1 2-5-3-2 2-15 35 0 6 1 4 3 0 5-4 2 0-1 11-3 8-1 2-5-4-2 2-1 18-13 15-6 15-1 12 5 2 3 8-2 4-6 3 3 8zM211 131l-4-5-8-2 5 5 7 2zM309 137l-1-1 2-4 1 2-2 3zM146 143l-2 0 2-3 6-4 3 1 0 1-9 5z"/><path fill="#7d7d7d" d="M211 124l-7-4 4-1 3 5zM176 129l-1 0 0-2 2 1-1 1zM334 133l-4-3 0-2 4 2 0 3zM427 136l-5 0-1-3 1-4 5-2 4 2 1 3-5 4zM421 314l-235 0 5-13 0-8-6-13-8-12-17-39-1-9 3-17 0-7-3-15-9-19 0-4 18-9 22-20 25 13 25 10 17 4 11 1 18 0 14-2 12-5 10-9 10 8 8 4 11 2 10 0 34-5 40-11 13-2 7 28-13 37-3 25 0 17-14 19-6 15-3 10-1 11 1 6 5 9zM137 173l-6 0-4-5 2-4 5-4 3-1 3 1 1 5-2 7-2 1zM149 222l-3-1-1-4 0-12 2-2 2 1 3 11-1 5-2 2zM453 222l-1-2 1-3 0 5zM161 259l-4 0-3-3-1-6 2-3 5 0 4 4 0 5-3 3zM178 289l-2 1-4-2-1-2 0-2 2-1 4 1 2 3-1 2zM428 301l-3-3 3-4 1 4-1 3z"/><path fill="#828282" d="M427 133l-3-1 1-2 4 1-2 2zM419 314l-231 0 5-8 1-9-3-10-10-20-8-19-8-21 0-6 3-26-5-32 26-19 4-1 51 15 25 4 33-2 20-8 17 6 23 2 24-3 35-6 18-1 5 12 1 5-7 34-5 40-14 28-7 28 2 8 5 9zM134 171l-3 0-2-3 5-6 3 2 0 4-3 3zM159 258l-4-3-1-4 1-2 3 0 3 3 0 4-2 2z"/><path fill="#868686" d="M417 314l-227 0 5-9 1-8-2-9-12-26-8-25-3-13 4-32-2-18 1-7 9-7 12-5 50 9 24 2 33-1 20-4 30 3 25 0 39-6 15 3 3 5 1 16-7 55-12 31-6 29 1 5 6 12zM158 256l-2-2 0-2 3 1-1 3z"/><path fill="#8b8b8b" d="M416 314l-225 0 5-7 2-8-2-11-11-26-8-36 0-12 4-21 0-16 1-4 7-5 12-3 30 1 38 4 53-2 57 0 34-3 9 2 4 5 3 11-1 22-5 32-9 30-6 30 1 6 7 11z"/><path fill="#8f8f8f" d="M414 314l-222 0 7-11 1-6-13-36-4-17-2-20 2-15 9-28 3-2 10-3 24-2 128 1 39 2 16 2 4 7 3 10 2 20-3 20-12 62 1 5 7 11z"/><path fill="#949494" d="M412 314l-218 0 6-10 1-5-1-9-9-25-6-28 1-18 6-16 8-9 10-5 25-6 26-3 45 0 50 2 19 2 19 7 7 4 7 8 6 17-1 32-9 47 1 5 7 10z"/><path fill="#999999" d="M408 314l-211 0 6-9 1-8-10-33-4-28 1-9 4-16 6-9 12-7 24-7 26-4 42-1 34 2 33 4 17 7 13 11 7 16 1 15-2 21-7 39 1 5 6 11z"/><path fill="#9d9d9d" d="M402 314l-199 0 5-11 1-7-9-33-3-28 1-8 4-14 7-8 15-8 14-5 28-5 38-1 31 2 28 4 18 6 8 5 8 7 6 15 1 13-1 20-6 40 1 5 5 10-1 1z"/><path fill="#a2a2a2" d="M398 314l-190 0 5-12 1-5-9-35-2-23 1-10 5-13 8-8 17-9 21-7 21-3 28 0 25 1 27 5 20 7 8 5 7 6 6 15 1 30-5 40 5 16z"/><path fill="#a6a6a6" d="M394 314l-181 0 6-15-9-41-1-19 6-18 8-9 14-9 20-7 20-4 26-1 25 2 27 6 13 5 11 6 6 7 6 14 3 26-5 42 5 15z"/><path fill="#ababab" d="M390 314l-173 0 7-14-7-27-2-16 0-16 5-16 10-12 10-7 19-7 19-4 25-1 24 1 27 7 11 5 11 8 5 6 6 16 2 20-4 43 5 14z"/><path fill="#afafaf" d="M385 314l-163 0 6-14-7-28-2-16 1-13 5-14 8-11 11-8 20-7 25-5 36 2 27 7 10 5 7 5 7 7 6 16 3 16-4 44 4 14z"/><path fill="#b4b4b4" d="M380 314l-153 0 6-15-8-27-1-17 1-12 5-11 9-11 12-8 21-6 18-3 24-1 10 2 29 9 11 7 6 6 7 14 2 14 1 10-4 35 4 14z"/><path fill="#b8b8b8" d="M376 314l-144 0 5-14-6-23-2-15 1-14 2-8 10-14 11-7 26-8 15-3 20 0 13 3 22 8 16 11 7 13 3 22-3 36 4 13z"/><path fill="#bdbdbd" d="M371 314l-135 0 5-14-8-31 0-11 4-15 9-12 10-7 25-9 14-2 18 0 13 3 20 7 15 12 5 9 3 8 1 21-3 27 4 14z"/><path fill="#c2c2c2" d="M365 314l-124 0 4-16-6-20-1-11 1-12 4-10 8-10 9-6 16-7 14-3 15-1 13 1 13 4 12 5 13 11 7 16 2 18-3 26 3 15z"/><path fill="#c6c6c6" d="M360 314l-115 0 4-11 0-6-5-19-1-10 2-11 4-9 8-9 8-6 14-6 13-2 24 0 13 3 10 5 13 11 6 15 2 19-4 21 4 15z"/><path fill="#cbcbcb" d="M356 314l-108 0 4-10 0-7-5-20-1-7 5-15 4-7 9-9 19-8 11-2 19 0 18 5 10 6 6 6 7 14 3 17-5 22 4 15z"/><path fill="#cfcfcf" d="M353 314l-102 0 3-16-5-24 4-16 5-7 8-8 18-8 12-2 15 0 18 5 15 11 8 15 2 13-5 22 4 15z"/><path fill="#d4d4d4" d="M350 314l-96 0 3-15-4-16 0-9 4-14 11-13 18-8 10-2 15 1 12 2 8 4 11 10 6 12 2 11-3 22 3 15z"/><path fill="#d8d8d8" d="M347 314l-91 0 3-15-3-14 0-10 4-13 10-11 18-8 9-1 14 0 11 3 8 4 10 9 7 15 0 9-3 17 3 15z"/><path fill="#dddddd" d="M344 314l-85 0 3-15-4-17 2-10 3-8 9-9 17-7 21-2 10 3 8 4 9 8 6 13 1 8-2 18 2 14z"/><path fill="#e1e1e1" d="M342 314l-81 0 3-15-4-15 4-15 9-10 17-7 18-2 9 2 9 4 9 8 6 12-2 26 3 12z"/><path fill="#e6e6e6" d="M339 314l-76 0 3-15-3-15 5-14 8-8 16-7 15-1 11 3 7 3 7 7 6 11-1 24 2 12z"/><path fill="#ebebeb" d="M335 314l-69 0 3-13-2-17 4-11 6-6 6-4 15-4 13 1 12 5 7 6 4 9 0 21 1 13z"/><path fill="#efefef" d="M332 314l-63 0 2-12 0-17 4-10 4-4 6-4 13-4 13 1 10 5 6 5 3 7 0 21 2 12z"/><path fill="#f4f4f4" d="M329 314l-57 0 2-11 0-16 4-9 10-7 11-4 11 2 10 5 4 4 3 6 0 19 2 11z"/><path fill="#f8f8f8" d="M325 314l-50 0 2-10 1-15 4-9 8-6 11-3 10 2 8 5 5 9 1 27z"/><path fill="#fdfdfd" d="M320 314l-40 0 2-9 0-14 4-8 7-4 8-2 8 1 6 4 4 6 1 26z"/></g></g><line x1="371.55" y1="312.60" x2="72.40" y2="13.40" stroke="#000" stroke-width="2.8" stroke-dasharray="10.6 10.67"/><line x1="371.55" y1="312.60" x2="670.70" y2="13.40" stroke="#000" stroke-width="2.8" stroke-dasharray="10.6 10.67"/><rect x="72.40" y="13.40" width="598.30" height="299.20" fill="none" stroke="#606060" stroke-width="1.3"/><path d="M72.40 312.60V318.80M72.40 13.40V7.20M221.97 312.60V318.80M221.97 13.40V7.20M371.55 312.60V318.80M371.55 13.40V7.20M521.12 312.60V318.80M521.12 13.40V7.20M670.70 312.60V318.80M670.70 13.40V7.20M72.40 312.60H65.80M670.70 312.60H676.90M72.40 237.80H65.80M670.70 237.80H676.90M72.40 163.00H65.80M670.70 163.00H676.90M72.40 88.20H65.80M670.70 88.20H676.90M72.40 13.40H65.80M670.70 13.40H676.90" stroke="#606060" stroke-width="1.3" fill="none"/><text x="365.55" y="37.30" font-family="Liberation Serif" font-weight="bold" font-size="24" text-anchor="middle" fill="#000">Whole depth</text><text x="88.00" y="301.90" font-family="Liberation Sans" font-weight="bold" font-size="30" fill="#000">A</text><text x="56" y="323.60" font-family="Liberation Serif" font-size="31" text-anchor="end" fill="#262626">0</text><text x="56" y="248.80" font-family="Liberation Serif" font-size="31" text-anchor="end" fill="#262626">1</text><text x="56" y="174.00" font-family="Liberation Serif" font-size="31" text-anchor="end" fill="#262626">2</text><text x="56" y="99.20" font-family="Liberation Serif" font-size="31" text-anchor="end" fill="#262626">3</text><text x="56" y="24.40" font-family="Liberation Serif" font-size="31" text-anchor="end" fill="#262626">4</text><line x1="371.55" y1="651.70" x2="72.40" y2="352.50" stroke="#000" stroke-width="2.8" stroke-dasharray="10.6 10.67"/><line x1="371.55" y1="651.70" x2="670.70" y2="352.50" stroke="#000" stroke-width="2.8" stroke-dasharray="10.6 10.67"/><rect x="72.40" y="352.50" width="598.30" height="299.20" fill="none" stroke="#606060" stroke-width="1.3"/><path d="M72.40 651.70V657.90M72.40 352.50V346.30M221.97 651.70V657.90M221.97 352.50V346.30M371.55 651.70V657.90M371.55 352.50V346.30M521.12 651.70V657.90M521.12 352.50V346.30M670.70 651.70V657.90M670.70 352.50V346.30M72.40 651.70H65.80M670.70 651.70H676.90M72.40 576.90H65.80M670.70 576.90H676.90M72.40 502.10H65.80M670.70 502.10H676.90M72.40 427.30H65.80M670.70 427.30H676.90M72.40 352.50H65.80M670.70 352.50H676.90" stroke="#606060" stroke-width="1.3" fill="none"/><text transform="translate(372.85,376.30) scale(0.95,1)" font-family="Liberation Serif" font-weight="bold" font-size="25" text-anchor="middle" fill="#000">0–200 m</text><text x="88.00" y="641.00" font-family="Liberation Sans" font-weight="bold" font-size="30" fill="#000">B</text><text x="56" y="662.70" font-family="Liberation Serif" font-size="31" text-anchor="end" fill="#262626">0</text><text x="56" y="587.90" font-family="Liberation Serif" font-size="31" text-anchor="end" fill="#262626">1</text><text x="56" y="513.10" font-family="Liberation Serif" font-size="31" text-anchor="end" fill="#262626">2</text><text x="56" y="438.30" font-family="Liberation Serif" font-size="31" text-anchor="end" fill="#262626">3</text><text x="56" y="363.50" font-family="Liberation Serif" font-size="31" text-anchor="end" fill="#262626">4</text><line x1="371.55" y1="990.80" x2="72.40" y2="691.60" stroke="#000" stroke-width="2.8" stroke-dasharray="10.6 10.67"/><line x1="371.55" y1="990.80" x2="670.70" y2="691.60" stroke="#000" stroke-width="2.8" stroke-dasharray="10.6 10.67"/><rect x="72.40" y="691.60" width="598.30" height="299.20" fill="none" stroke="#606060" stroke-width="1.3"/><path d="M72.40 990.80V997.00M72.40 691.60V685.40M221.97 990.80V997.00M221.97 691.60V685.40M371.55 990.80V997.00M371.55 691.60V685.40M521.12 990.80V997.00M521.12 691.60V685.40M670.70 990.80V997.00M670.70 691.60V685.40M72.40 990.80H65.80M670.70 990.80H676.90M72.40 916.00H65.80M670.70 916.00H676.90M72.40 841.20H65.80M670.70 841.20H676.90M72.40 766.40H65.80M670.70 766.40H676.90M72.40 691.60H65.80M670.70 691.60H676.90" stroke="#606060" stroke-width="1.3" fill="none"/><text transform="translate(373.85,715.40) scale(0.95,1)" font-family="Liberation Serif" font-weight="bold" font-size="25" text-anchor="middle" fill="#000">200–400 m</text><text x="88.00" y="980.10" font-family="Liberation Sans" font-weight="bold" font-size="30" fill="#000">C</text><text x="56" y="1001.80" font-family="Liberation Serif" font-size="31" text-anchor="end" fill="#262626">0</text><text x="56" y="927.00" font-family="Liberation Serif" font-size="31" text-anchor="end" fill="#262626">1</text><text x="56" y="852.20" font-family="Liberation Serif" font-size="31" text-anchor="end" fill="#262626">2</text><text x="56" y="777.40" font-family="Liberation Serif" font-size="31" text-anchor="end" fill="#262626">3</text><text x="56" y="702.60" font-family="Liberation Serif" font-size="31" text-anchor="end" fill="#262626">4</text><line x1="371.55" y1="1329.90" x2="72.40" y2="1030.70" stroke="#000" stroke-width="2.8" stroke-dasharray="10.6 10.67"/><line x1="371.55" y1="1329.90" x2="670.70" y2="1030.70" stroke="#000" stroke-width="2.8" stroke-dasharray="10.6 10.67"/><rect x="72.40" y="1030.70" width="598.30" height="299.20" fill="none" stroke="#606060" stroke-width="1.3"/><path d="M72.40 1329.90V1336.10M72.40 1030.70V1024.50M221.97 1329.90V1336.10M221.97 1030.70V1024.50M371.55 1329.90V1336.10M371.55 1030.70V1024.50M521.12 1329.90V1336.10M521.12 1030.70V1024.50M670.70 1329.90V1336.10M670.70 1030.70V1024.50M72.40 1329.90H65.80M670.70 1329.90H676.90M72.40 1255.10H65.80M670.70 1255.10H676.90M72.40 1180.30H65.80M670.70 1180.30H676.90M72.40 1105.50H65.80M670.70 1105.50H676.90M72.40 1030.70H65.80M670.70 1030.70H676.90" stroke="#606060" stroke-width="1.3" fill="none"/><text transform="translate(367.95,1054.50) scale(0.95,1)" font-family="Liberation Serif" font-weight="bold" font-size="25" text-anchor="middle" fill="#000">&gt;400 m</text><text x="88.00" y="1319.20" font-family="Liberation Sans" font-weight="bold" font-size="30" fill="#000">D</text><text x="56" y="1340.90" font-family="Liberation Serif" font-size="31" text-anchor="end" fill="#262626">0</text><text x="56" y="1266.10" font-family="Liberation Serif" font-size="31" text-anchor="end" fill="#262626">1</text><text x="56" y="1191.30" font-family="Liberation Serif" font-size="31" text-anchor="end" fill="#262626">2</text><text x="56" y="1116.50" font-family="Liberation Serif" font-size="31" text-anchor="end" fill="#262626">3</text><text x="56" y="1041.70" font-family="Liberation Serif" font-size="31" text-anchor="end" fill="#262626">4</text><text x="72.40" y="1371.60" font-family="Liberation Serif" font-size="31" text-anchor="middle" fill="#262626">-4</text><text x="221.97" y="1371.60" font-family="Liberation Serif" font-size="31" text-anchor="middle" fill="#262626">-2</text><text x="371.55" y="1371.60" font-family="Liberation Serif" font-size="31" text-anchor="middle" fill="#262626">0</text><text x="521.12" y="1371.60" font-family="Liberation Serif" font-size="31" text-anchor="middle" fill="#262626">2</text><text x="670.70" y="1371.60" font-family="Liberation Serif" font-size="31" text-anchor="middle" fill="#262626">4</text><text x="346.30" y="1410.2" font-family="Liberation Serif" font-style="italic" font-size="33" fill="#262626">ζ</text><line x1="376.30" y1="1383.8" x2="365.00" y2="1415.9" stroke="#262626" stroke-width="1.5"/><text x="380.00" y="1408.3" font-family="Liberation Serif" font-style="italic" font-size="32" fill="#262626">f</text><line x1="1010.55" y1="312.60" x2="711.40" y2="13.40" stroke="#000" stroke-width="2.8" stroke-dasharray="10.6 10.67"/><line x1="1010.55" y1="312.60" x2="1309.70" y2="13.40" stroke="#000" stroke-width="2.8" stroke-dasharray="10.6 10.67"/><rect x="711.40" y="13.40" width="598.30" height="299.20" fill="none" stroke="#606060" stroke-width="1.3"/><path d="M711.40 312.60V318.80M711.40 13.40V7.20M860.97 312.60V318.80M860.97 13.40V7.20M1010.55 312.60V318.80M1010.55 13.40V7.20M1160.12 312.60V318.80M1160.12 13.40V7.20M1309.70 312.60V318.80M1309.70 13.40V7.20M711.40 312.60H704.80M1309.70 312.60H1315.90M711.40 237.80H704.80M1309.70 237.80H1315.90M711.40 163.00H704.80M1309.70 163.00H1315.90M711.40 88.20H704.80M1309.70 88.20H1315.90M711.40 13.40H704.80M1309.70 13.40H1315.90" stroke="#606060" stroke-width="1.3" fill="none"/><text x="1004.55" y="37.30" font-family="Liberation Serif" font-weight="bold" font-size="24" text-anchor="middle" fill="#000">Whole depth</text><text x="727.00" y="301.90" font-family="Liberation Sans" font-weight="bold" font-size="30" fill="#000">E</text><line x1="1010.55" y1="651.70" x2="711.40" y2="352.50" stroke="#000" stroke-width="2.8" stroke-dasharray="10.6 10.67"/><line x1="1010.55" y1="651.70" x2="1309.70" y2="352.50" stroke="#000" stroke-width="2.8" stroke-dasharray="10.6 10.67"/><rect x="711.40" y="352.50" width="598.30" height="299.20" fill="none" stroke="#606060" stroke-width="1.3"/><path d="M711.40 651.70V657.90M711.40 352.50V346.30M860.97 651.70V657.90M860.97 352.50V346.30M1010.55 651.70V657.90M1010.55 352.50V346.30M1160.12 651.70V657.90M1160.12 352.50V346.30M1309.70 651.70V657.90M1309.70 352.50V346.30M711.40 651.70H704.80M1309.70 651.70H1315.90M711.40 576.90H704.80M1309.70 576.90H1315.90M711.40 502.10H704.80M1309.70 502.10H1315.90M711.40 427.30H704.80M1309.70 427.30H1315.90M711.40 352.50H704.80M1309.70 352.50H1315.90" stroke="#606060" stroke-width="1.3" fill="none"/><text transform="translate(1011.85,376.30) scale(0.95,1)" font-family="Liberation Serif" font-weight="bold" font-size="25" text-anchor="middle" fill="#000">0–200 m</text><text x="727.00" y="641.00" font-family="Liberation Sans" font-weight="bold" font-size="30" fill="#000">F</text><line x1="1010.55" y1="990.80" x2="711.40" y2="691.60" stroke="#000" stroke-width="2.8" stroke-dasharray="10.6 10.67"/><line x1="1010.55" y1="990.80" x2="1309.70" y2="691.60" stroke="#000" stroke-width="2.8" stroke-dasharray="10.6 10.67"/><rect x="711.40" y="691.60" width="598.30" height="299.20" fill="none" stroke="#606060" stroke-width="1.3"/><path d="M711.40 990.80V997.00M711.40 691.60V685.40M860.97 990.80V997.00M860.97 691.60V685.40M1010.55 990.80V997.00M1010.55 691.60V685.40M1160.12 990.80V997.00M1160.12 691.60V685.40M1309.70 990.80V997.00M1309.70 691.60V685.40M711.40 990.80H704.80M1309.70 990.80H1315.90M711.40 916.00H704.80M1309.70 916.00H1315.90M711.40 841.20H704.80M1309.70 841.20H1315.90M711.40 766.40H704.80M1309.70 766.40H1315.90M711.40 691.60H704.80M1309.70 691.60H1315.90" stroke="#606060" stroke-width="1.3" fill="none"/><text transform="translate(1012.85,715.40) scale(0.95,1)" font-family="Liberation Serif" font-weight="bold" font-size="25" text-anchor="middle" fill="#000">200–400 m</text><text x="727.00" y="980.10" font-family="Liberation Sans" font-weight="bold" font-size="30" fill="#000">G</text><line x1="1010.55" y1="1329.90" x2="711.40" y2="1030.70" stroke="#000" stroke-width="2.8" stroke-dasharray="10.6 10.67"/><line x1="1010.55" y1="1329.90" x2="1309.70" y2="1030.70" stroke="#000" stroke-width="2.8" stroke-dasharray="10.6 10.67"/><rect x="711.40" y="1030.70" width="598.30" height="299.20" fill="none" stroke="#606060" stroke-width="1.3"/><path d="M711.40 1329.90V1336.10M711.40 1030.70V1024.50M860.97 1329.90V1336.10M860.97 1030.70V1024.50M1010.55 1329.90V1336.10M1010.55 1030.70V1024.50M1160.12 1329.90V1336.10M1160.12 1030.70V1024.50M1309.70 1329.90V1336.10M1309.70 1030.70V1024.50M711.40 1329.90H704.80M1309.70 1329.90H1315.90M711.40 1255.10H704.80M1309.70 1255.10H1315.90M711.40 1180.30H704.80M1309.70 1180.30H1315.90M711.40 1105.50H704.80M1309.70 1105.50H1315.90M711.40 1030.70H704.80M1309.70 1030.70H1315.90" stroke="#606060" stroke-width="1.3" fill="none"/><text transform="translate(1006.95,1054.50) scale(0.95,1)" font-family="Liberation Serif" font-weight="bold" font-size="25" text-anchor="middle" fill="#000">&gt;400 m</text><text x="727.00" y="1319.20" font-family="Liberation Sans" font-weight="bold" font-size="30" fill="#000">H</text><text x="711.40" y="1371.60" font-family="Liberation Serif" font-size="31" text-anchor="middle" fill="#262626">-4</text><text x="860.97" y="1371.60" font-family="Liberation Serif" font-size="31" text-anchor="middle" fill="#262626">-2</text><text x="1010.55" y="1371.60" font-family="Liberation Serif" font-size="31" text-anchor="middle" fill="#262626">0</text><text x="1160.12" y="1371.60" font-family="Liberation Serif" font-size="31" text-anchor="middle" fill="#262626">2</text><text x="1309.70" y="1371.60" font-family="Liberation Serif" font-size="31" text-anchor="middle" fill="#262626">4</text><text x="985.30" y="1410.2" font-family="Liberation Serif" font-style="italic" font-size="33" fill="#262626">ζ</text><line x1="1015.30" y1="1383.8" x2="1004.00" y2="1415.9" stroke="#262626" stroke-width="1.5"/><text x="1019.00" y="1408.3" font-family="Liberation Serif" font-style="italic" font-size="32" fill="#262626">f</text><g transform="translate(0,163.00) rotate(-90)" fill="#262626"><text x="-24" y="26" font-family="Liberation Serif" font-style="italic" font-size="33">ε</text><line x1="4.9" y1="0.3" x2="-7.1" y2="32.1" stroke="#262626" stroke-width="1.5"/><text x="8.6" y="24.5" font-family="Liberation Serif" font-style="italic" font-size="32">f</text></g><g transform="translate(0,502.10) rotate(-90)" fill="#262626"><text x="-24" y="26" font-family="Liberation Serif" font-style="italic" font-size="33">ε</text><line x1="4.9" y1="0.3" x2="-7.1" y2="32.1" stroke="#262626" stroke-width="1.5"/><text x="8.6" y="24.5" font-family="Liberation Serif" font-style="italic" font-size="32">f</text></g><g transform="translate(0,841.20) rotate(-90)" fill="#262626"><text x="-24" y="26" font-family="Liberation Serif" font-style="italic" font-size="33">ε</text><line x1="4.9" y1="0.3" x2="-7.1" y2="32.1" stroke="#262626" stroke-width="1.5"/><text x="8.6" y="24.5" font-family="Liberation Serif" font-style="italic" font-size="32">f</text></g><g transform="translate(0,1180.30) rotate(-90)" fill="#262626"><text x="-24" y="26" font-family="Liberation Serif" font-style="italic" font-size="33">ε</text><line x1="4.9" y1="0.3" x2="-7.1" y2="32.1" stroke="#262626" stroke-width="1.5"/><text x="8.6" y="24.5" font-family="Liberation Serif" font-style="italic" font-size="32">f</text></g><rect x="1338.5" y="13.40" width="24" height="299.20" fill="url(#cb)" stroke="#333" stroke-width="1.2"/><path d="M1362.5 13.40H1358.8M1362.5 113.13H1358.8M1362.5 212.87H1358.8M1362.5 312.60H1358.8" stroke="#333" stroke-width="1.2"/><text transform="translate(1371.0,26.70) scale(0.945,1)" font-family="Liberation Serif" font-size="29.5" fill="#262626">10</text><text transform="translate(1397.3,14.80) scale(0.92,1)" font-family="Liberation Serif" font-size="23" fill="#262626">-3</text><text transform="translate(1371.0,126.43) scale(0.945,1)" font-family="Liberation Serif" font-size="29.5" fill="#262626">10</text><text transform="translate(1397.3,114.53) scale(0.92,1)" font-family="Liberation Serif" font-size="23" fill="#262626">-5</text><text transform="translate(1371.0,226.17) scale(0.945,1)" font-family="Liberation Serif" font-size="29.5" fill="#262626">10</text><text transform="translate(1397.3,214.27) scale(0.92,1)" font-family="Liberation Serif" font-size="23" fill="#262626">-7</text><text transform="translate(1371.0,325.90) scale(0.945,1)" font-family="Liberation Serif" font-size="29.5" fill="#262626">10</text><text transform="translate(1397.3,314.00) scale(0.92,1)" font-family="Liberation Serif" font-size="23" fill="#262626">-9</text><rect x="1338.5" y="352.50" width="24" height="299.20" fill="url(#cb)" stroke="#333" stroke-width="1.2"/><path d="M1362.5 352.50H1358.8M1362.5 452.23H1358.8M1362.5 551.97H1358.8M1362.5 651.70H1358.8" stroke="#333" stroke-width="1.2"/><text transform="translate(1371.0,365.80) scale(0.945,1)" font-family="Liberation Serif" font-size="29.5" fill="#262626">10</text><text transform="translate(1397.3,353.90) scale(0.92,1)" font-family="Liberation Serif" font-size="23" fill="#262626">-3</text><text transform="translate(1371.0,465.53) scale(0.945,1)" font-family="Liberation Serif" font-size="29.5" fill="#262626">10</text><text transform="translate(1397.3,453.63) scale(0.92,1)" font-family="Liberation Serif" font-size="23" fill="#262626">-5</text><text transform="translate(1371.0,565.27) scale(0.945,1)" font-family="Liberation Serif" font-size="29.5" fill="#262626">10</text><text transform="translate(1397.3,553.37) scale(0.92,1)" font-family="Liberation Serif" font-size="23" fill="#262626">-7</text><text transform="translate(1371.0,665.00) scale(0.945,1)" font-family="Liberation Serif" font-size="29.5" fill="#262626">10</text><text transform="translate(1397.3,653.10) scale(0.92,1)" font-family="Liberation Serif" font-size="23" fill="#262626">-9</text><rect x="1338.5" y="691.60" width="24" height="299.20" fill="url(#cb)" stroke="#333" stroke-width="1.2"/><path d="M1362.5 691.60H1358.8M1362.5 791.33H1358.8M1362.5 891.07H1358.8M1362.5 990.80H1358.8" stroke="#333" stroke-width="1.2"/><text transform="translate(1371.0,704.90) scale(0.945,1)" font-family="Liberation Serif" font-size="29.5" fill="#262626">10</text><text transform="translate(1397.3,693.00) scale(0.92,1)" font-family="Liberation Serif" font-size="23" fill="#262626">-3</text><text transform="translate(1371.0,804.63) scale(0.945,1)" font-family="Liberation Serif" font-size="29.5" fill="#262626">10</text><text transform="translate(1397.3,792.73) scale(0.92,1)" font-family="Liberation Serif" font-size="23" fill="#262626">-5</text><text transform="translate(1371.0,904.37) scale(0.945,1)" font-family="Liberation Serif" font-size="29.5" fill="#262626">10</text><text transform="translate(1397.3,892.47) scale(0.92,1)" font-family="Liberation Serif" font-size="23" fill="#262626">-7</text><text transform="translate(1371.0,1004.10) scale(0.945,1)" font-family="Liberation Serif" font-size="29.5" fill="#262626">10</text><text transform="translate(1397.3,992.20) scale(0.92,1)" font-family="Liberation Serif" font-size="23" fill="#262626">-9</text><rect x="1338.5" y="1030.70" width="24" height="299.20" fill="url(#cb)" stroke="#333" stroke-width="1.2"/><path d="M1362.5 1030.70H1358.8M1362.5 1130.43H1358.8M1362.5 1230.17H1358.8M1362.5 1329.90H1358.8" stroke="#333" stroke-width="1.2"/><text transform="translate(1371.0,1044.00) scale(0.945,1)" font-family="Liberation Serif" font-size="29.5" fill="#262626">10</text><text transform="translate(1397.3,1032.10) scale(0.92,1)" font-family="Liberation Serif" font-size="23" fill="#262626">-3</text><text transform="translate(1371.0,1143.73) scale(0.945,1)" font-family="Liberation Serif" font-size="29.5" fill="#262626">10</text><text transform="translate(1397.3,1131.83) scale(0.92,1)" font-family="Liberation Serif" font-size="23" fill="#262626">-5</text><text transform="translate(1371.0,1243.47) scale(0.945,1)" font-family="Liberation Serif" font-size="29.5" fill="#262626">10</text><text transform="translate(1397.3,1231.57) scale(0.92,1)" font-family="Liberation Serif" font-size="23" fill="#262626">-7</text><text transform="translate(1371.0,1343.20) scale(0.945,1)" font-family="Liberation Serif" font-size="29.5" fill="#262626">10</text><text transform="translate(1397.3,1331.30) scale(0.92,1)" font-family="Liberation Serif" font-size="23" fill="#262626">-9</text></svg></body></html>
